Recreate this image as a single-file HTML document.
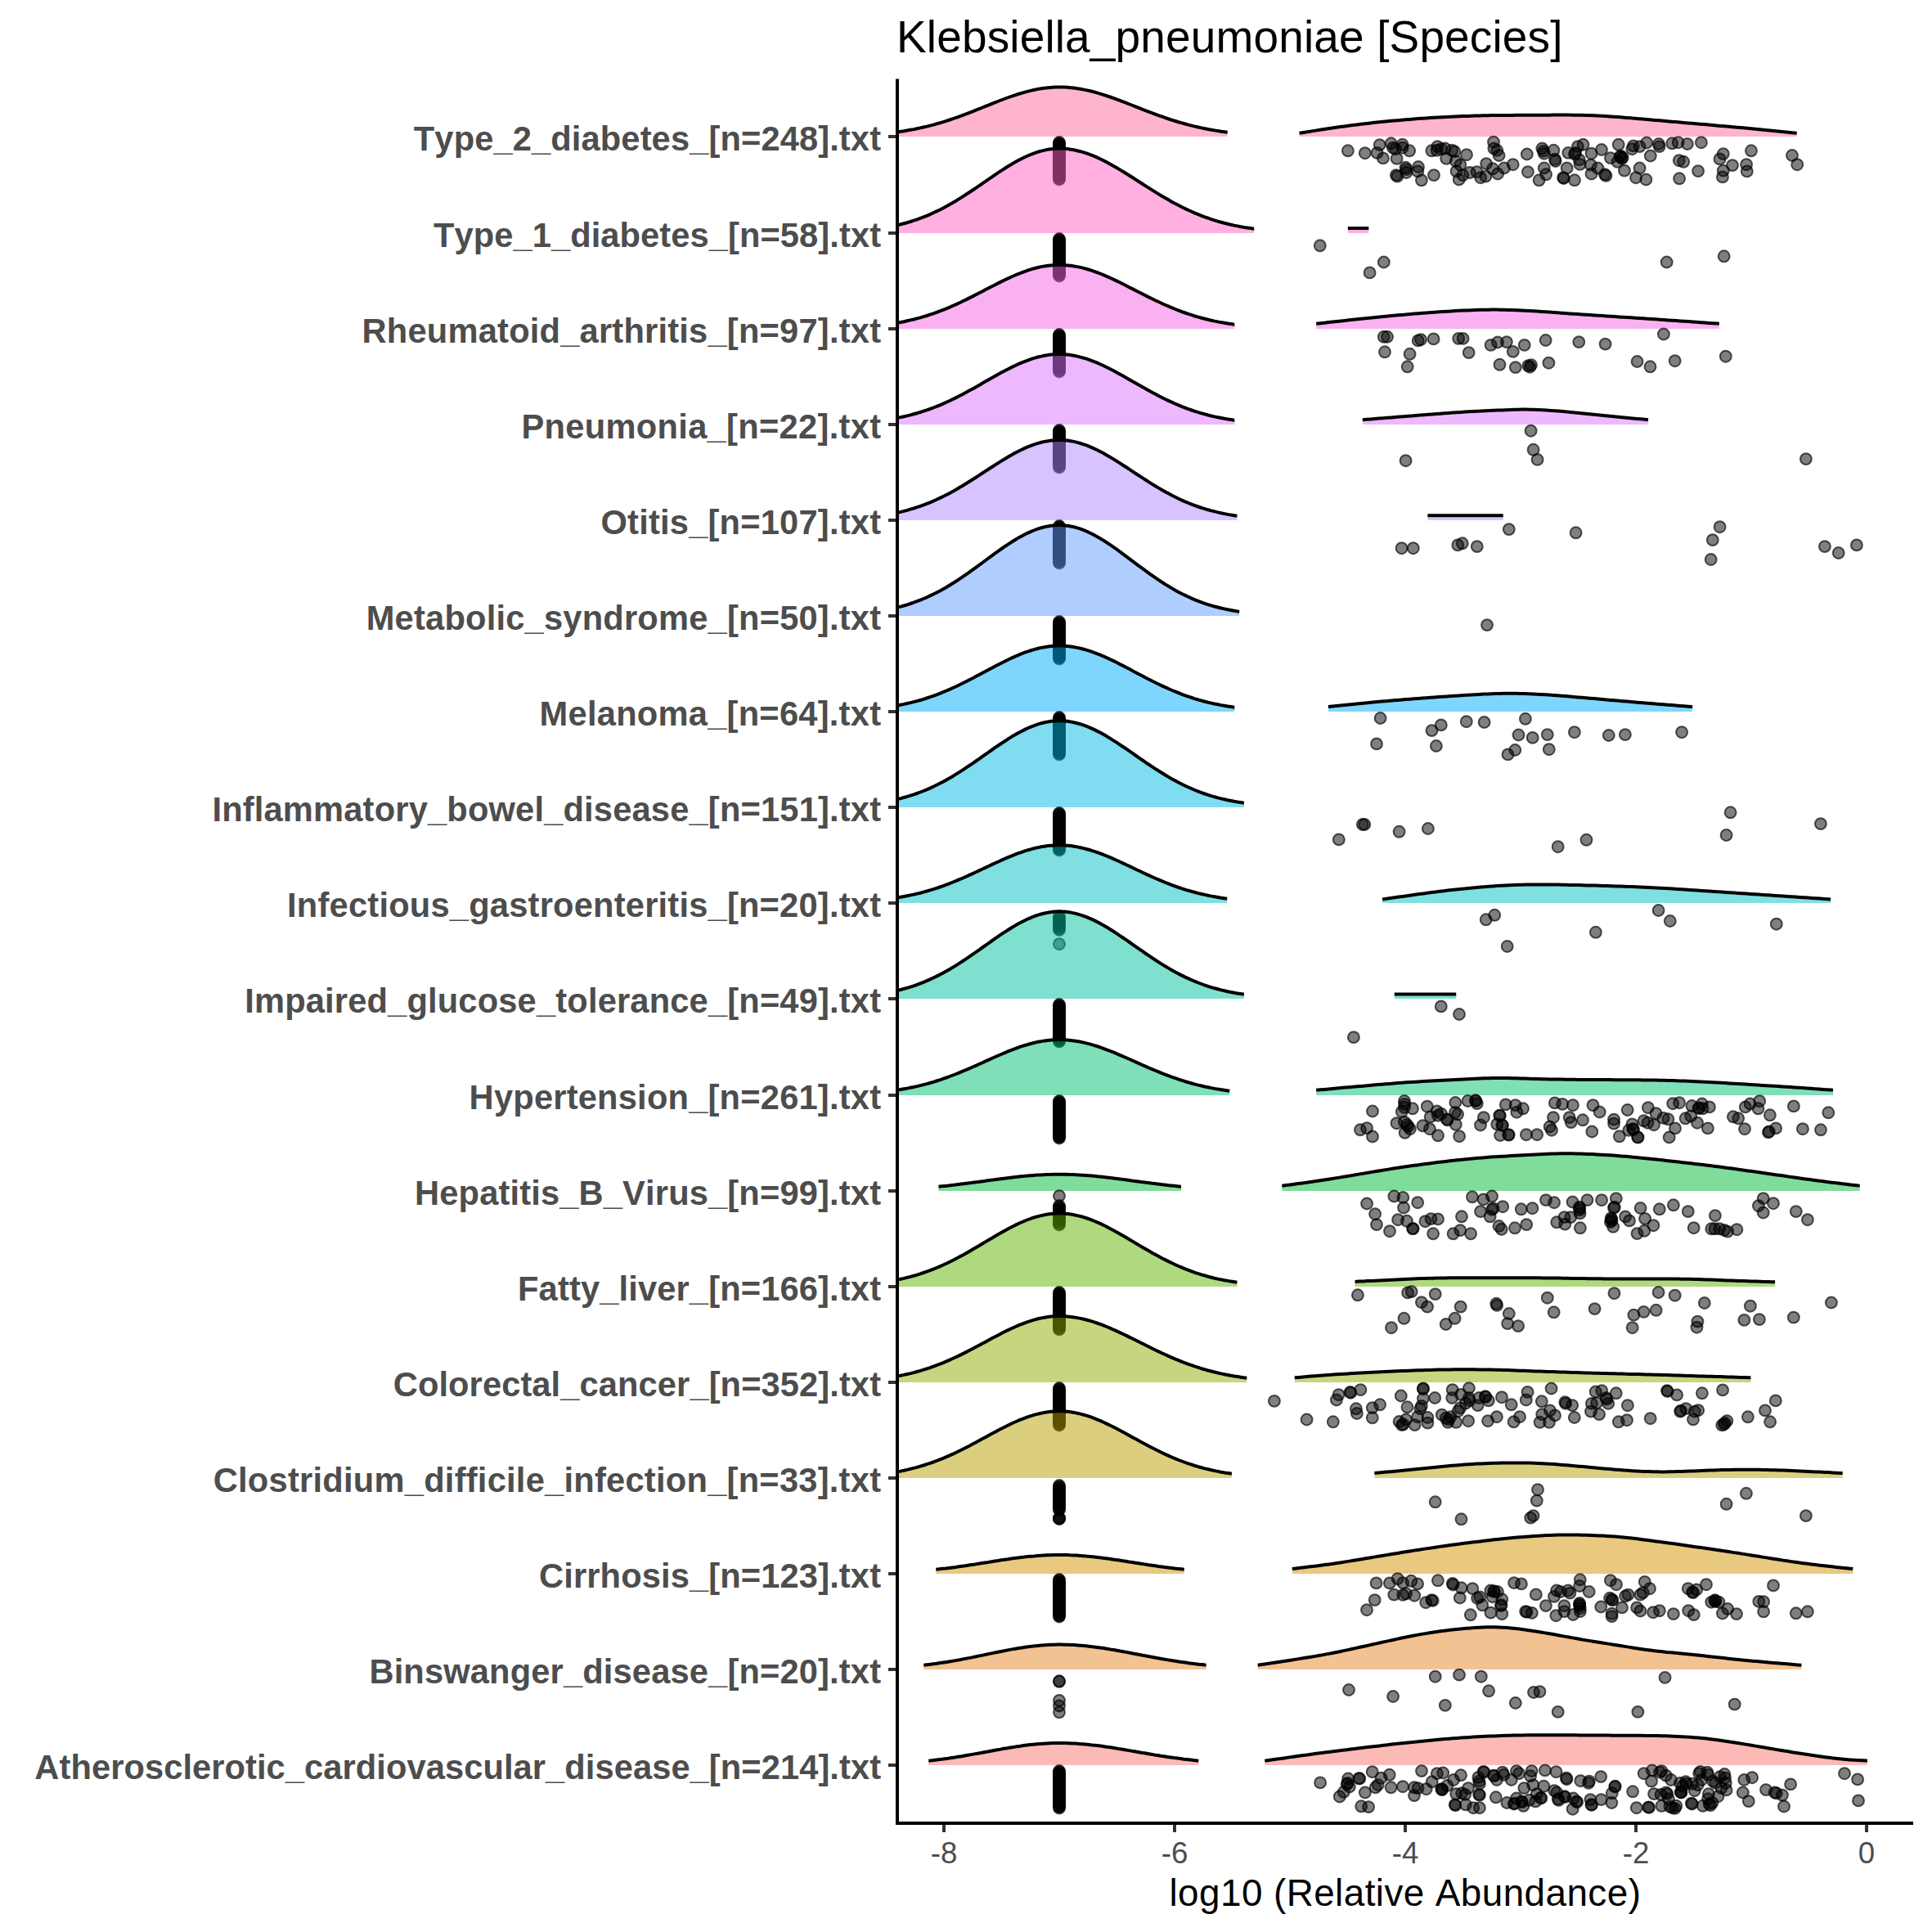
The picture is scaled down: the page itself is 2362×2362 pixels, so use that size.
<!DOCTYPE html><html><head><meta charset="utf-8"><style>html,body{margin:0;padding:0;background:#fff}svg{display:block}text{font-family:"Liberation Sans",sans-serif;font-kerning:none}.p{fill:#000;fill-opacity:.5;stroke:#000;stroke-opacity:.65;stroke-width:2}.l{fill:none;stroke:#000;stroke-width:4.0;stroke-linejoin:round}</style></head><body>
<svg width="2362" height="2362" viewBox="0 0 2362 2362">
<rect width="2362" height="2362" fill="#fff"/>
<g><path d="M1097 167L1097 161.3L1101 160.8L1105 160.2L1109 159.5L1113 158.8L1117 158.1L1121 157.3L1125 156.4L1129 155.5L1133 154.6L1137 153.6L1141 152.6L1145 151.4L1149 150.3L1153 149.1L1157 147.8L1161 146.5L1165 145.2L1169 143.8L1173 142.4L1177 140.9L1181 139.4L1185 137.9L1189 136.3L1193 134.7L1197 133.1L1201 131.5L1205 129.9L1209 128.3L1213 126.7L1217 125.1L1221 123.5L1225 122L1229 120.5L1233 119L1237 117.6L1241 116.3L1245 115L1249 113.8L1253 112.6L1257 111.6L1261 110.6L1265 109.7L1269 108.9L1273 108.2L1277 107.7L1281 107.2L1285 106.9L1289 106.6L1293 106.5L1297 106.5L1301 106.6L1305 106.8L1309 107.2L1313 107.6L1317 108.2L1321 108.8L1325 109.6L1329 110.4L1333 111.3L1337 112.3L1341 113.4L1345 114.6L1349 115.8L1353 117.1L1357 118.5L1361 119.9L1365 121.4L1369 122.9L1373 124.4L1377 125.9L1381 127.5L1385 129L1389 130.6L1393 132.2L1397 133.8L1401 135.3L1405 136.8L1409 138.4L1413 139.9L1417 141.3L1421 142.7L1425 144.1L1429 145.5L1433 146.8L1437 148L1441 149.3L1445 150.4L1449 151.5L1453 152.6L1457 153.6L1461 154.6L1465 155.5L1469 156.4L1473 157.2L1477 158L1481 158.7L1485 159.4L1489 160.1L1493 160.7L1497 161.2L1500.7 161.7L1500.7 167ZM1588.6 167L1588.6 162.8L1593.6 162L1598.6 161.2L1603.6 160.4L1608.6 159.6L1613.6 158.8L1618.6 158L1623.6 157.2L1628.6 156.5L1633.6 155.8L1638.6 155L1643.6 154.4L1648.6 153.7L1653.6 153.1L1658.6 152.4L1663.6 151.8L1668.6 151.3L1673.6 150.7L1678.6 150.1L1683.6 149.6L1688.6 149.1L1693.6 148.6L1698.6 148.1L1703.6 147.6L1708.6 147.2L1713.6 146.7L1718.6 146.3L1723.6 145.9L1728.6 145.5L1733.6 145.1L1738.6 144.7L1743.6 144.4L1748.6 144L1753.6 143.7L1758.6 143.4L1763.6 143.2L1768.6 142.9L1773.6 142.7L1778.6 142.4L1783.6 142.2L1788.6 142L1793.6 141.9L1798.6 141.7L1803.6 141.6L1808.6 141.4L1813.6 141.3L1818.6 141.2L1823.6 141.1L1828.6 141.1L1833.6 141L1838.6 141L1843.6 140.9L1848.6 140.9L1853.6 140.8L1858.6 140.8L1863.6 140.8L1868.6 140.8L1873.6 140.8L1878.6 140.7L1883.6 140.7L1888.6 140.7L1893.6 140.7L1898.6 140.6L1903.6 140.6L1908.6 140.6L1913.6 140.6L1918.6 140.6L1923.6 140.7L1928.6 140.7L1933.6 140.8L1938.6 140.9L1943.6 141.1L1948.6 141.3L1953.6 141.5L1958.6 141.8L1963.6 142.1L1968.6 142.4L1973.6 142.8L1978.6 143.1L1983.6 143.5L1988.6 143.9L1993.6 144.3L1998.6 144.7L2003.6 145.2L2008.6 145.6L2013.6 146L2018.6 146.5L2023.6 146.9L2028.6 147.3L2033.6 147.8L2038.6 148.2L2043.6 148.7L2048.6 149.1L2053.6 149.5L2058.6 150L2063.6 150.4L2068.6 150.8L2073.6 151.3L2078.6 151.7L2083.6 152.1L2088.6 152.6L2093.6 153L2098.6 153.4L2103.6 153.9L2108.6 154.3L2113.6 154.8L2118.6 155.2L2123.6 155.7L2128.6 156.1L2133.6 156.6L2138.6 157.1L2143.6 157.6L2148.6 158L2153.6 158.5L2158.6 159L2163.6 159.5L2168.6 160L2173.6 160.5L2178.6 161L2183.6 161.5L2188.6 162L2193.6 162.5L2196.7 162.8L2196.7 167Z" fill="rgb(255,105,156)" fill-opacity="0.5"/><circle class="p" cx="1295" cy="174" r="6.95"/><circle class="p" cx="1295" cy="175.2" r="6.95"/><circle class="p" cx="1295" cy="176.3" r="6.95"/><circle class="p" cx="1295" cy="177.5" r="6.95"/><circle class="p" cx="1295" cy="178.7" r="6.95"/><circle class="p" cx="1295" cy="179.8" r="6.95"/><circle class="p" cx="1295" cy="181" r="6.95"/><circle class="p" cx="1295" cy="182.2" r="6.95"/><circle class="p" cx="1295" cy="183.3" r="6.95"/><circle class="p" cx="1295" cy="184.5" r="6.95"/><circle class="p" cx="1295" cy="185.7" r="6.95"/><circle class="p" cx="1295" cy="186.8" r="6.95"/><circle class="p" cx="1295" cy="188" r="6.95"/><circle class="p" cx="1295" cy="189.2" r="6.95"/><circle class="p" cx="1295" cy="190.3" r="6.95"/><circle class="p" cx="1295" cy="191.5" r="6.95"/><circle class="p" cx="1295" cy="192.7" r="6.95"/><circle class="p" cx="1295" cy="193.8" r="6.95"/><circle class="p" cx="1295" cy="195" r="6.95"/><circle class="p" cx="1295" cy="196.2" r="6.95"/><circle class="p" cx="1295" cy="197.3" r="6.95"/><circle class="p" cx="1295" cy="198.5" r="6.95"/><circle class="p" cx="1295" cy="199.7" r="6.95"/><circle class="p" cx="1295" cy="200.8" r="6.95"/><circle class="p" cx="1295" cy="202" r="6.95"/><circle class="p" cx="1295" cy="203.2" r="6.95"/><circle class="p" cx="1295" cy="204.3" r="6.95"/><circle class="p" cx="1295" cy="205.5" r="6.95"/><circle class="p" cx="1295" cy="206.7" r="6.95"/><circle class="p" cx="1295" cy="207.8" r="6.95"/><circle class="p" cx="1295" cy="209" r="6.95"/><circle class="p" cx="1295" cy="210.2" r="6.95"/><circle class="p" cx="1295" cy="211.3" r="6.95"/><circle class="p" cx="1295" cy="212.5" r="6.95"/><circle class="p" cx="1295" cy="213.7" r="6.95"/><circle class="p" cx="1295" cy="214.8" r="6.95"/><circle class="p" cx="1295" cy="216" r="6.95"/><circle class="p" cx="1295" cy="217.2" r="6.95"/><circle class="p" cx="1295" cy="218.3" r="6.95"/><circle class="p" cx="1295" cy="219.5" r="6.95"/><circle class="p" cx="1647.9" cy="184.3" r="6.95"/><circle class="p" cx="1668.8" cy="187.2" r="6.95"/><circle class="p" cx="1683.6" cy="186.9" r="6.95"/><circle class="p" cx="1686.7" cy="177.1" r="6.95"/><circle class="p" cx="1690.9" cy="193.4" r="6.95"/><circle class="p" cx="1700.7" cy="175.3" r="6.95"/><circle class="p" cx="1703" cy="180.7" r="6.95"/><circle class="p" cx="1706.1" cy="182.2" r="6.95"/><circle class="p" cx="1707.6" cy="193.9" r="6.95"/><circle class="p" cx="1714.6" cy="176.8" r="6.95"/><circle class="p" cx="1714.6" cy="180.7" r="6.95"/><circle class="p" cx="1723.2" cy="184.3" r="6.95"/><circle class="p" cx="1718.5" cy="204.8" r="6.95"/><circle class="p" cx="1719.3" cy="207.1" r="6.95"/><circle class="p" cx="1719.3" cy="211" r="6.95"/><circle class="p" cx="1706.9" cy="214.1" r="6.95"/><circle class="p" cx="1708.4" cy="215.6" r="6.95"/><circle class="p" cx="1734" cy="204" r="6.95"/><circle class="p" cx="1733.3" cy="209.4" r="6.95"/><circle class="p" cx="1737.9" cy="220.3" r="6.95"/><circle class="p" cx="1753" cy="214.1" r="6.95"/><circle class="p" cx="1750.3" cy="184.3" r="6.95"/><circle class="p" cx="1757.3" cy="179.1" r="6.95"/><circle class="p" cx="1756.6" cy="183.8" r="6.95"/><circle class="p" cx="1762" cy="182.2" r="6.95"/><circle class="p" cx="1766.6" cy="181.5" r="6.95"/><circle class="p" cx="1768.2" cy="193.9" r="6.95"/><circle class="p" cx="1775.2" cy="183.8" r="6.95"/><circle class="p" cx="1778.3" cy="185.3" r="6.95"/><circle class="p" cx="1779.8" cy="197" r="6.95"/><circle class="p" cx="1785.3" cy="201.6" r="6.95"/><circle class="p" cx="1793" cy="189.2" r="6.95"/><circle class="p" cx="1780.6" cy="209.4" r="6.95"/><circle class="p" cx="1783.7" cy="219.5" r="6.95"/><circle class="p" cx="1788.4" cy="214.1" r="6.95"/><circle class="p" cx="1796.9" cy="211" r="6.95"/><circle class="p" cx="1805.5" cy="210.2" r="6.95"/><circle class="p" cx="1810.1" cy="217.2" r="6.95"/><circle class="p" cx="1816.3" cy="215.6" r="6.95"/><circle class="p" cx="1817.1" cy="200.1" r="6.95"/><circle class="p" cx="1824.9" cy="206.3" r="6.95"/><circle class="p" cx="1831.1" cy="212.5" r="6.95"/><circle class="p" cx="1838.9" cy="205.5" r="6.95"/><circle class="p" cx="1849.7" cy="201.2" r="6.95"/><circle class="p" cx="1826" cy="173.7" r="6.95"/><circle class="p" cx="1826.4" cy="181.5" r="6.95"/><circle class="p" cx="1830.3" cy="183.8" r="6.95"/><circle class="p" cx="1832.6" cy="190" r="6.95"/><circle class="p" cx="1866.8" cy="188.5" r="6.95"/><circle class="p" cx="1867.9" cy="210.2" r="6.95"/><circle class="p" cx="1885.4" cy="181.5" r="6.95"/><circle class="p" cx="1887" cy="184.6" r="6.95"/><circle class="p" cx="1887.8" cy="187.7" r="6.95"/><circle class="p" cx="1899.4" cy="183.8" r="6.95"/><circle class="p" cx="1901" cy="194.7" r="6.95"/><circle class="p" cx="1901.7" cy="197" r="6.95"/><circle class="p" cx="1887.8" cy="205.5" r="6.95"/><circle class="p" cx="1890.1" cy="213.3" r="6.95"/><circle class="p" cx="1881.6" cy="220.3" r="6.95"/><circle class="p" cx="1911.1" cy="217.2" r="6.95"/><circle class="p" cx="1911.8" cy="218" r="6.95"/><circle class="p" cx="1915.7" cy="205.5" r="6.95"/><circle class="p" cx="1917.3" cy="186.9" r="6.95"/><circle class="p" cx="1925" cy="220.3" r="6.95"/><circle class="p" cx="1925" cy="188.5" r="6.95"/><circle class="p" cx="1928.9" cy="179.1" r="6.95"/><circle class="p" cx="1935.5" cy="176.8" r="6.95"/><circle class="p" cx="1926.2" cy="186.9" r="6.95"/><circle class="p" cx="1930.9" cy="195.4" r="6.95"/><circle class="p" cx="1931.6" cy="200.9" r="6.95"/><circle class="p" cx="1945.6" cy="187.7" r="6.95"/><circle class="p" cx="1958" cy="183" r="6.95"/><circle class="p" cx="1944.8" cy="201.6" r="6.95"/><circle class="p" cx="1953.4" cy="205.5" r="6.95"/><circle class="p" cx="1945.6" cy="212.5" r="6.95"/><circle class="p" cx="1961.9" cy="213.3" r="6.95"/><circle class="p" cx="1963.5" cy="214.8" r="6.95"/><circle class="p" cx="1968.9" cy="193.1" r="6.95"/><circle class="p" cx="1978.7" cy="176.8" r="6.95"/><circle class="p" cx="1981.3" cy="190.8" r="6.95"/><circle class="p" cx="1980.6" cy="191.6" r="6.95"/><circle class="p" cx="1982.9" cy="193.9" r="6.95"/><circle class="p" cx="1983.7" cy="192.3" r="6.95"/><circle class="p" cx="1977.5" cy="197.8" r="6.95"/><circle class="p" cx="1986" cy="208.6" r="6.95"/><circle class="p" cx="1995.3" cy="182.2" r="6.95"/><circle class="p" cx="1996.9" cy="178.4" r="6.95"/><circle class="p" cx="2004.6" cy="179.1" r="6.95"/><circle class="p" cx="2004.6" cy="205.5" r="6.95"/><circle class="p" cx="2000" cy="217.2" r="6.95"/><circle class="p" cx="2012.4" cy="219.5" r="6.95"/><circle class="p" cx="2013.2" cy="174.5" r="6.95"/><circle class="p" cx="2017.8" cy="190.5" r="6.95"/><circle class="p" cx="2027.9" cy="176" r="6.95"/><circle class="p" cx="2028.7" cy="179.1" r="6.95"/><circle class="p" cx="2044.2" cy="175.3" r="6.95"/><circle class="p" cx="2051.7" cy="174.2" r="6.95"/><circle class="p" cx="2062.9" cy="176" r="6.95"/><circle class="p" cx="2079.9" cy="174.2" r="6.95"/><circle class="p" cx="2052.8" cy="196.2" r="6.95"/><circle class="p" cx="2058.2" cy="197.8" r="6.95"/><circle class="p" cx="2053.1" cy="218.3" r="6.95"/><circle class="p" cx="2076.1" cy="209.1" r="6.95"/><circle class="p" cx="2106.8" cy="188.1" r="6.95"/><circle class="p" cx="2102.5" cy="194.4" r="6.95"/><circle class="p" cx="2106.8" cy="208.6" r="6.95"/><circle class="p" cx="2105.9" cy="216.4" r="6.95"/><circle class="p" cx="2118" cy="202.1" r="6.95"/><circle class="p" cx="2135.1" cy="201.2" r="6.95"/><circle class="p" cx="2135.8" cy="209.4" r="6.95"/><circle class="p" cx="2141" cy="184.3" r="6.95"/><circle class="p" cx="2191" cy="190" r="6.95"/><circle class="p" cx="2197.2" cy="201.2" r="6.95"/><path class="l" d="M1097 161.3L1101 160.8L1105 160.2L1109 159.5L1113 158.8L1117 158.1L1121 157.3L1125 156.4L1129 155.5L1133 154.6L1137 153.6L1141 152.6L1145 151.4L1149 150.3L1153 149.1L1157 147.8L1161 146.5L1165 145.2L1169 143.8L1173 142.4L1177 140.9L1181 139.4L1185 137.9L1189 136.3L1193 134.7L1197 133.1L1201 131.5L1205 129.9L1209 128.3L1213 126.7L1217 125.1L1221 123.5L1225 122L1229 120.5L1233 119L1237 117.6L1241 116.3L1245 115L1249 113.8L1253 112.6L1257 111.6L1261 110.6L1265 109.7L1269 108.9L1273 108.2L1277 107.7L1281 107.2L1285 106.9L1289 106.6L1293 106.5L1297 106.5L1301 106.6L1305 106.8L1309 107.2L1313 107.6L1317 108.2L1321 108.8L1325 109.6L1329 110.4L1333 111.3L1337 112.3L1341 113.4L1345 114.6L1349 115.8L1353 117.1L1357 118.5L1361 119.9L1365 121.4L1369 122.9L1373 124.4L1377 125.9L1381 127.5L1385 129L1389 130.6L1393 132.2L1397 133.8L1401 135.3L1405 136.8L1409 138.4L1413 139.9L1417 141.3L1421 142.7L1425 144.1L1429 145.5L1433 146.8L1437 148L1441 149.3L1445 150.4L1449 151.5L1453 152.6L1457 153.6L1461 154.6L1465 155.5L1469 156.4L1473 157.2L1477 158L1481 158.7L1485 159.4L1489 160.1L1493 160.7L1497 161.2L1500.7 161.7M1588.6 162.8L1593.6 162L1598.6 161.2L1603.6 160.4L1608.6 159.6L1613.6 158.8L1618.6 158L1623.6 157.2L1628.6 156.5L1633.6 155.8L1638.6 155L1643.6 154.4L1648.6 153.7L1653.6 153.1L1658.6 152.4L1663.6 151.8L1668.6 151.3L1673.6 150.7L1678.6 150.1L1683.6 149.6L1688.6 149.1L1693.6 148.6L1698.6 148.1L1703.6 147.6L1708.6 147.2L1713.6 146.7L1718.6 146.3L1723.6 145.9L1728.6 145.5L1733.6 145.1L1738.6 144.7L1743.6 144.4L1748.6 144L1753.6 143.7L1758.6 143.4L1763.6 143.2L1768.6 142.9L1773.6 142.7L1778.6 142.4L1783.6 142.2L1788.6 142L1793.6 141.9L1798.6 141.7L1803.6 141.6L1808.6 141.4L1813.6 141.3L1818.6 141.2L1823.6 141.1L1828.6 141.1L1833.6 141L1838.6 141L1843.6 140.9L1848.6 140.9L1853.6 140.8L1858.6 140.8L1863.6 140.8L1868.6 140.8L1873.6 140.8L1878.6 140.7L1883.6 140.7L1888.6 140.7L1893.6 140.7L1898.6 140.6L1903.6 140.6L1908.6 140.6L1913.6 140.6L1918.6 140.6L1923.6 140.7L1928.6 140.7L1933.6 140.8L1938.6 140.9L1943.6 141.1L1948.6 141.3L1953.6 141.5L1958.6 141.8L1963.6 142.1L1968.6 142.4L1973.6 142.8L1978.6 143.1L1983.6 143.5L1988.6 143.9L1993.6 144.3L1998.6 144.7L2003.6 145.2L2008.6 145.6L2013.6 146L2018.6 146.5L2023.6 146.9L2028.6 147.3L2033.6 147.8L2038.6 148.2L2043.6 148.7L2048.6 149.1L2053.6 149.5L2058.6 150L2063.6 150.4L2068.6 150.8L2073.6 151.3L2078.6 151.7L2083.6 152.1L2088.6 152.6L2093.6 153L2098.6 153.4L2103.6 153.9L2108.6 154.3L2113.6 154.8L2118.6 155.2L2123.6 155.7L2128.6 156.1L2133.6 156.6L2138.6 157.1L2143.6 157.6L2148.6 158L2153.6 158.5L2158.6 159L2163.6 159.5L2168.6 160L2173.6 160.5L2178.6 161L2183.6 161.5L2188.6 162L2193.6 162.5L2196.7 162.8"/></g>
<g><path d="M1097 285L1097 275.3L1101 274.3L1105 273.3L1109 272.2L1113 271L1117 269.7L1121 268.4L1125 266.9L1129 265.4L1133 263.8L1137 262.1L1141 260.3L1145 258.4L1149 256.5L1153 254.4L1157 252.3L1161 250L1165 247.7L1169 245.4L1173 242.9L1177 240.4L1181 237.8L1185 235.2L1189 232.5L1193 229.8L1197 227.1L1201 224.4L1205 221.6L1209 218.8L1213 216.1L1217 213.4L1221 210.7L1225 208.1L1229 205.5L1233 203L1237 200.6L1241 198.3L1245 196.1L1249 194L1253 192L1257 190.2L1261 188.6L1265 187.1L1269 185.7L1273 184.6L1277 183.6L1281 182.8L1285 182.2L1289 181.8L1293 181.6L1297 181.6L1301 181.8L1305 182.1L1309 182.7L1313 183.3L1317 184.2L1321 185.2L1325 186.4L1329 187.7L1333 189.1L1337 190.7L1341 192.4L1345 194.3L1349 196.2L1353 198.3L1357 200.5L1361 202.7L1365 205L1369 207.4L1373 209.8L1377 212.3L1381 214.8L1385 217.3L1389 219.9L1393 222.5L1397 225L1401 227.6L1405 230.1L1409 232.6L1413 235.1L1417 237.6L1421 240L1425 242.3L1429 244.6L1433 246.9L1437 249L1441 251.1L1445 253.2L1449 255.1L1453 257L1457 258.8L1461 260.6L1465 262.2L1469 263.8L1473 265.3L1477 266.7L1481 268.1L1485 269.4L1489 270.6L1493 271.7L1497 272.8L1501 273.8L1505 274.7L1509 275.6L1513 276.4L1517 277.2L1521 277.9L1525 278.5L1529 279.1L1533 279.7L1533.2 279.7L1533.2 285ZM1647.9 285L1647.9 278.9L1673.3 278.9L1673.3 285Z" fill="rgb(255,97,195)" fill-opacity="0.5"/><circle class="p" cx="1295" cy="292" r="6.95"/><circle class="p" cx="1295" cy="293.2" r="6.95"/><circle class="p" cx="1295" cy="294.3" r="6.95"/><circle class="p" cx="1295" cy="295.5" r="6.95"/><circle class="p" cx="1295" cy="296.7" r="6.95"/><circle class="p" cx="1295" cy="297.8" r="6.95"/><circle class="p" cx="1295" cy="299" r="6.95"/><circle class="p" cx="1295" cy="300.2" r="6.95"/><circle class="p" cx="1295" cy="301.3" r="6.95"/><circle class="p" cx="1295" cy="302.5" r="6.95"/><circle class="p" cx="1295" cy="303.7" r="6.95"/><circle class="p" cx="1295" cy="304.8" r="6.95"/><circle class="p" cx="1295" cy="306" r="6.95"/><circle class="p" cx="1295" cy="307.2" r="6.95"/><circle class="p" cx="1295" cy="308.3" r="6.95"/><circle class="p" cx="1295" cy="309.5" r="6.95"/><circle class="p" cx="1295" cy="310.7" r="6.95"/><circle class="p" cx="1295" cy="311.8" r="6.95"/><circle class="p" cx="1295" cy="313" r="6.95"/><circle class="p" cx="1295" cy="314.2" r="6.95"/><circle class="p" cx="1295" cy="315.3" r="6.95"/><circle class="p" cx="1295" cy="316.5" r="6.95"/><circle class="p" cx="1295" cy="317.7" r="6.95"/><circle class="p" cx="1295" cy="318.8" r="6.95"/><circle class="p" cx="1295" cy="320" r="6.95"/><circle class="p" cx="1295" cy="321.2" r="6.95"/><circle class="p" cx="1295" cy="322.3" r="6.95"/><circle class="p" cx="1295" cy="323.5" r="6.95"/><circle class="p" cx="1295" cy="324.7" r="6.95"/><circle class="p" cx="1295" cy="325.8" r="6.95"/><circle class="p" cx="1295" cy="327" r="6.95"/><circle class="p" cx="1295" cy="328.2" r="6.95"/><circle class="p" cx="1295" cy="329.3" r="6.95"/><circle class="p" cx="1295" cy="330.5" r="6.95"/><circle class="p" cx="1295" cy="331.7" r="6.95"/><circle class="p" cx="1295" cy="332.8" r="6.95"/><circle class="p" cx="1295" cy="334" r="6.95"/><circle class="p" cx="1295" cy="335.2" r="6.95"/><circle class="p" cx="1295" cy="336.3" r="6.95"/><circle class="p" cx="1295" cy="337.5" r="6.95"/><circle class="p" cx="1613.8" cy="300.3" r="6.95"/><circle class="p" cx="1691.8" cy="320.5" r="6.95"/><circle class="p" cx="1674.6" cy="333.4" r="6.95"/><circle class="p" cx="2037.7" cy="320.5" r="6.95"/><circle class="p" cx="2107.7" cy="313.3" r="6.95"/><path class="l" d="M1097 275.3L1101 274.3L1105 273.3L1109 272.2L1113 271L1117 269.7L1121 268.4L1125 266.9L1129 265.4L1133 263.8L1137 262.1L1141 260.3L1145 258.4L1149 256.5L1153 254.4L1157 252.3L1161 250L1165 247.7L1169 245.4L1173 242.9L1177 240.4L1181 237.8L1185 235.2L1189 232.5L1193 229.8L1197 227.1L1201 224.4L1205 221.6L1209 218.8L1213 216.1L1217 213.4L1221 210.7L1225 208.1L1229 205.5L1233 203L1237 200.6L1241 198.3L1245 196.1L1249 194L1253 192L1257 190.2L1261 188.6L1265 187.1L1269 185.7L1273 184.6L1277 183.6L1281 182.8L1285 182.2L1289 181.8L1293 181.6L1297 181.6L1301 181.8L1305 182.1L1309 182.7L1313 183.3L1317 184.2L1321 185.2L1325 186.4L1329 187.7L1333 189.1L1337 190.7L1341 192.4L1345 194.3L1349 196.2L1353 198.3L1357 200.5L1361 202.7L1365 205L1369 207.4L1373 209.8L1377 212.3L1381 214.8L1385 217.3L1389 219.9L1393 222.5L1397 225L1401 227.6L1405 230.1L1409 232.6L1413 235.1L1417 237.6L1421 240L1425 242.3L1429 244.6L1433 246.9L1437 249L1441 251.1L1445 253.2L1449 255.1L1453 257L1457 258.8L1461 260.6L1465 262.2L1469 263.8L1473 265.3L1477 266.7L1481 268.1L1485 269.4L1489 270.6L1493 271.7L1497 272.8L1501 273.8L1505 274.7L1509 275.6L1513 276.4L1517 277.2L1521 277.9L1525 278.5L1529 279.1L1533 279.7L1533.2 279.7M1647.9 278.9L1673.3 278.9"/></g>
<g><path d="M1097 402L1097 394.7L1101 394L1105 393.2L1109 392.3L1113 391.4L1117 390.5L1121 389.4L1125 388.4L1129 387.2L1133 386L1137 384.7L1141 383.3L1145 381.9L1149 380.4L1153 378.9L1157 377.3L1161 375.6L1165 373.8L1169 372.1L1173 370.2L1177 368.3L1181 366.4L1185 364.4L1189 362.4L1193 360.3L1197 358.3L1201 356.2L1205 354.1L1209 352L1213 350L1217 347.9L1221 345.9L1225 343.9L1229 342L1233 340.1L1237 338.3L1241 336.5L1245 334.8L1249 333.3L1253 331.8L1257 330.4L1261 329.2L1265 328L1269 327L1273 326.1L1277 325.4L1281 324.8L1285 324.4L1289 324.1L1293 323.9L1297 323.9L1301 324.1L1305 324.4L1309 324.8L1313 325.4L1317 326.1L1321 326.9L1325 327.9L1329 329L1333 330.2L1337 331.6L1341 333L1345 334.5L1349 336.2L1353 337.9L1357 339.6L1361 341.5L1365 343.4L1369 345.3L1373 347.3L1377 349.3L1381 351.4L1385 353.4L1389 355.5L1393 357.5L1397 359.5L1401 361.6L1405 363.6L1409 365.5L1413 367.5L1417 369.3L1421 371.2L1425 373L1429 374.7L1433 376.4L1437 378L1441 379.6L1445 381.1L1449 382.5L1453 383.9L1457 385.2L1461 386.5L1465 387.6L1469 388.7L1473 389.8L1477 390.8L1481 391.7L1485 392.6L1489 393.4L1493 394.1L1497 394.8L1501 395.5L1505 396.1L1509 396.7L1509.3 396.7L1509.3 402ZM1609.2 402L1609.2 395.8L1614.2 395.3L1619.2 394.7L1624.2 394.1L1629.2 393.5L1634.2 393L1639.2 392.4L1644.2 391.9L1649.2 391.3L1654.2 390.8L1659.2 390.2L1664.2 389.7L1669.2 389.2L1674.2 388.7L1679.2 388.2L1684.2 387.7L1689.2 387.2L1694.2 386.7L1699.2 386.2L1704.2 385.8L1709.2 385.3L1714.2 384.9L1719.2 384.5L1724.2 384L1729.2 383.6L1734.2 383.2L1739.2 382.8L1744.2 382.4L1749.2 382.1L1754.2 381.7L1759.2 381.3L1764.2 381L1769.2 380.7L1774.2 380.4L1779.2 380.1L1784.2 379.8L1789.2 379.6L1794.2 379.4L1799.2 379.2L1804.2 379L1809.2 378.8L1814.2 378.7L1819.2 378.7L1824.2 378.6L1829.2 378.6L1834.2 378.7L1839.2 378.8L1844.2 378.9L1849.2 379.1L1854.2 379.3L1859.2 379.5L1864.2 379.7L1869.2 380L1874.2 380.3L1879.2 380.6L1884.2 380.9L1889.2 381.3L1894.2 381.6L1899.2 382L1904.2 382.3L1909.2 382.7L1914.2 383L1919.2 383.4L1924.2 383.7L1929.2 384.1L1934.2 384.4L1939.2 384.7L1944.2 385.1L1949.2 385.4L1954.2 385.7L1959.2 386.1L1964.2 386.4L1969.2 386.7L1974.2 387L1979.2 387.4L1984.2 387.7L1989.2 388L1994.2 388.3L1999.2 388.7L2004.2 389L2009.2 389.3L2014.2 389.7L2019.2 390L2024.2 390.3L2029.2 390.7L2034.2 391L2039.2 391.4L2044.2 391.7L2049.2 392.1L2054.2 392.4L2059.2 392.8L2064.2 393.1L2069.2 393.5L2074.2 393.8L2079.2 394.2L2084.2 394.5L2089.2 394.9L2094.2 395.3L2099.2 395.6L2101.8 395.8L2101.8 402Z" fill="rgb(245,100,227)" fill-opacity="0.5"/><circle class="p" cx="1295" cy="409" r="6.95"/><circle class="p" cx="1295" cy="410.2" r="6.95"/><circle class="p" cx="1295" cy="411.3" r="6.95"/><circle class="p" cx="1295" cy="412.5" r="6.95"/><circle class="p" cx="1295" cy="413.7" r="6.95"/><circle class="p" cx="1295" cy="414.8" r="6.95"/><circle class="p" cx="1295" cy="416" r="6.95"/><circle class="p" cx="1295" cy="417.2" r="6.95"/><circle class="p" cx="1295" cy="418.3" r="6.95"/><circle class="p" cx="1295" cy="419.5" r="6.95"/><circle class="p" cx="1295" cy="420.7" r="6.95"/><circle class="p" cx="1295" cy="421.8" r="6.95"/><circle class="p" cx="1295" cy="423" r="6.95"/><circle class="p" cx="1295" cy="424.2" r="6.95"/><circle class="p" cx="1295" cy="425.3" r="6.95"/><circle class="p" cx="1295" cy="426.5" r="6.95"/><circle class="p" cx="1295" cy="427.7" r="6.95"/><circle class="p" cx="1295" cy="428.8" r="6.95"/><circle class="p" cx="1295" cy="430" r="6.95"/><circle class="p" cx="1295" cy="431.2" r="6.95"/><circle class="p" cx="1295" cy="432.3" r="6.95"/><circle class="p" cx="1295" cy="433.5" r="6.95"/><circle class="p" cx="1295" cy="434.7" r="6.95"/><circle class="p" cx="1295" cy="435.8" r="6.95"/><circle class="p" cx="1295" cy="437" r="6.95"/><circle class="p" cx="1295" cy="438.2" r="6.95"/><circle class="p" cx="1295" cy="439.3" r="6.95"/><circle class="p" cx="1295" cy="440.5" r="6.95"/><circle class="p" cx="1295" cy="441.7" r="6.95"/><circle class="p" cx="1295" cy="442.8" r="6.95"/><circle class="p" cx="1295" cy="444" r="6.95"/><circle class="p" cx="1295" cy="445.2" r="6.95"/><circle class="p" cx="1295" cy="446.3" r="6.95"/><circle class="p" cx="1295" cy="447.5" r="6.95"/><circle class="p" cx="1295" cy="448.7" r="6.95"/><circle class="p" cx="1295" cy="449.8" r="6.95"/><circle class="p" cx="1295" cy="451" r="6.95"/><circle class="p" cx="1295" cy="452.2" r="6.95"/><circle class="p" cx="1295" cy="453.3" r="6.95"/><circle class="p" cx="1295" cy="454.5" r="6.95"/><circle class="p" cx="1691.8" cy="411.8" r="6.95"/><circle class="p" cx="1696" cy="411.8" r="6.95"/><circle class="p" cx="1693" cy="430.3" r="6.95"/><circle class="p" cx="1723.6" cy="432.8" r="6.95"/><circle class="p" cx="1720.7" cy="448.3" r="6.95"/><circle class="p" cx="1733.7" cy="416.4" r="6.95"/><circle class="p" cx="1737" cy="415.2" r="6.95"/><circle class="p" cx="1752.6" cy="414.4" r="6.95"/><circle class="p" cx="1783.2" cy="413.9" r="6.95"/><circle class="p" cx="1788.6" cy="413.9" r="6.95"/><circle class="p" cx="1795.7" cy="431.1" r="6.95"/><circle class="p" cx="1822.6" cy="421.9" r="6.95"/><circle class="p" cx="1831" cy="418.5" r="6.95"/><circle class="p" cx="1841.9" cy="418.1" r="6.95"/><circle class="p" cx="1849.8" cy="429.9" r="6.95"/><circle class="p" cx="1863.7" cy="421.9" r="6.95"/><circle class="p" cx="1833.5" cy="445.8" r="6.95"/><circle class="p" cx="1852.8" cy="449.1" r="6.95"/><circle class="p" cx="1868.3" cy="447.1" r="6.95"/><circle class="p" cx="1872" cy="446.2" r="6.95"/><circle class="p" cx="1870.4" cy="448.7" r="6.95"/><circle class="p" cx="1889.7" cy="416" r="6.95"/><circle class="p" cx="1893.4" cy="443.7" r="6.95"/><circle class="p" cx="1930.3" cy="418.1" r="6.95"/><circle class="p" cx="1962.6" cy="420.6" r="6.95"/><circle class="p" cx="2001.6" cy="442" r="6.95"/><circle class="p" cx="2017.5" cy="448.3" r="6.95"/><circle class="p" cx="2033.9" cy="408.5" r="6.95"/><circle class="p" cx="2047.7" cy="441.2" r="6.95"/><circle class="p" cx="2109.8" cy="435.7" r="6.95"/><path class="l" d="M1097 394.7L1101 394L1105 393.2L1109 392.3L1113 391.4L1117 390.5L1121 389.4L1125 388.4L1129 387.2L1133 386L1137 384.7L1141 383.3L1145 381.9L1149 380.4L1153 378.9L1157 377.3L1161 375.6L1165 373.8L1169 372.1L1173 370.2L1177 368.3L1181 366.4L1185 364.4L1189 362.4L1193 360.3L1197 358.3L1201 356.2L1205 354.1L1209 352L1213 350L1217 347.9L1221 345.9L1225 343.9L1229 342L1233 340.1L1237 338.3L1241 336.5L1245 334.8L1249 333.3L1253 331.8L1257 330.4L1261 329.2L1265 328L1269 327L1273 326.1L1277 325.4L1281 324.8L1285 324.4L1289 324.1L1293 323.9L1297 323.9L1301 324.1L1305 324.4L1309 324.8L1313 325.4L1317 326.1L1321 326.9L1325 327.9L1329 329L1333 330.2L1337 331.6L1341 333L1345 334.5L1349 336.2L1353 337.9L1357 339.6L1361 341.5L1365 343.4L1369 345.3L1373 347.3L1377 349.3L1381 351.4L1385 353.4L1389 355.5L1393 357.5L1397 359.5L1401 361.6L1405 363.6L1409 365.5L1413 367.5L1417 369.3L1421 371.2L1425 373L1429 374.7L1433 376.4L1437 378L1441 379.6L1445 381.1L1449 382.5L1453 383.9L1457 385.2L1461 386.5L1465 387.6L1469 388.7L1473 389.8L1477 390.8L1481 391.7L1485 392.6L1489 393.4L1493 394.1L1497 394.8L1501 395.5L1505 396.1L1509 396.7L1509.3 396.7M1609.2 395.8L1614.2 395.3L1619.2 394.7L1624.2 394.1L1629.2 393.5L1634.2 393L1639.2 392.4L1644.2 391.9L1649.2 391.3L1654.2 390.8L1659.2 390.2L1664.2 389.7L1669.2 389.2L1674.2 388.7L1679.2 388.2L1684.2 387.7L1689.2 387.2L1694.2 386.7L1699.2 386.2L1704.2 385.8L1709.2 385.3L1714.2 384.9L1719.2 384.5L1724.2 384L1729.2 383.6L1734.2 383.2L1739.2 382.8L1744.2 382.4L1749.2 382.1L1754.2 381.7L1759.2 381.3L1764.2 381L1769.2 380.7L1774.2 380.4L1779.2 380.1L1784.2 379.8L1789.2 379.6L1794.2 379.4L1799.2 379.2L1804.2 379L1809.2 378.8L1814.2 378.7L1819.2 378.7L1824.2 378.6L1829.2 378.6L1834.2 378.7L1839.2 378.8L1844.2 378.9L1849.2 379.1L1854.2 379.3L1859.2 379.5L1864.2 379.7L1869.2 380L1874.2 380.3L1879.2 380.6L1884.2 380.9L1889.2 381.3L1894.2 381.6L1899.2 382L1904.2 382.3L1909.2 382.7L1914.2 383L1919.2 383.4L1924.2 383.7L1929.2 384.1L1934.2 384.4L1939.2 384.7L1944.2 385.1L1949.2 385.4L1954.2 385.7L1959.2 386.1L1964.2 386.4L1969.2 386.7L1974.2 387L1979.2 387.4L1984.2 387.7L1989.2 388L1994.2 388.3L1999.2 388.7L2004.2 389L2009.2 389.3L2014.2 389.7L2019.2 390L2024.2 390.3L2029.2 390.7L2034.2 391L2039.2 391.4L2044.2 391.7L2049.2 392.1L2054.2 392.4L2059.2 392.8L2064.2 393.1L2069.2 393.5L2074.2 393.8L2079.2 394.2L2084.2 394.5L2089.2 394.9L2094.2 395.3L2099.2 395.6L2101.8 395.8"/></g>
<g><path d="M1097 519L1097 510.9L1101 510.1L1105 509.3L1109 508.4L1113 507.4L1117 506.3L1121 505.2L1125 504L1129 502.7L1133 501.4L1137 500L1141 498.5L1145 496.9L1149 495.3L1153 493.6L1157 491.8L1161 490L1165 488L1169 486.1L1173 484L1177 481.9L1181 479.8L1185 477.6L1189 475.4L1193 473.2L1197 470.9L1201 468.6L1205 466.3L1209 464L1213 461.8L1217 459.5L1221 457.3L1225 455.1L1229 453L1233 450.9L1237 448.9L1241 447L1245 445.1L1249 443.4L1253 441.8L1257 440.3L1261 438.9L1265 437.6L1269 436.5L1273 435.6L1277 434.8L1281 434.1L1285 433.6L1289 433.3L1293 433.1L1297 433.1L1301 433.3L1305 433.6L1309 434.1L1313 434.8L1317 435.6L1321 436.6L1325 437.7L1329 438.9L1333 440.3L1337 441.8L1341 443.4L1345 445.2L1349 447L1353 449L1357 451L1361 453L1365 455.2L1369 457.4L1373 459.6L1377 461.9L1381 464.2L1385 466.4L1389 468.7L1393 471L1397 473.3L1401 475.5L1405 477.8L1409 479.9L1413 482.1L1417 484.2L1421 486.2L1425 488.2L1429 490.1L1433 491.9L1437 493.7L1441 495.4L1445 497.1L1449 498.6L1453 500.1L1457 501.5L1461 502.9L1465 504.1L1469 505.3L1473 506.4L1477 507.5L1481 508.5L1485 509.4L1489 510.2L1493 511L1497 511.8L1501 512.5L1505 513.1L1509 513.7L1509.3 513.7L1509.3 519ZM1665.8 519L1665.8 513.2L1670.8 512.8L1675.8 512.4L1680.8 512L1685.8 511.6L1690.8 511.2L1695.8 510.8L1700.8 510.4L1705.8 510L1710.8 509.6L1715.8 509.2L1720.8 508.8L1725.8 508.4L1730.8 508L1735.8 507.6L1740.8 507.2L1745.8 506.8L1750.8 506.4L1755.8 506L1760.8 505.7L1765.8 505.3L1770.8 504.9L1775.8 504.6L1780.8 504.3L1785.8 503.9L1790.8 503.6L1795.8 503.3L1800.8 503L1805.8 502.8L1810.8 502.5L1815.8 502.3L1820.8 502L1825.8 501.8L1830.8 501.6L1835.8 501.4L1840.8 501.2L1845.8 501L1850.8 500.8L1855.8 500.7L1860.8 500.6L1865.8 500.6L1870.8 500.7L1875.8 500.8L1880.8 501L1885.8 501.3L1890.8 501.5L1895.8 501.9L1900.8 502.2L1905.8 502.6L1910.8 503L1915.8 503.5L1920.8 503.9L1925.8 504.4L1930.8 504.9L1935.8 505.4L1940.8 505.9L1945.8 506.4L1950.8 506.9L1955.8 507.4L1960.8 507.9L1965.8 508.4L1970.8 508.9L1975.8 509.4L1980.8 509.9L1985.8 510.4L1990.8 510.9L1995.8 511.4L2000.8 511.9L2005.8 512.3L2010.8 512.8L2015 513.2L2015 519Z" fill="rgb(219,114,251)" fill-opacity="0.5"/><circle class="p" cx="1295" cy="526" r="6.95"/><circle class="p" cx="1295" cy="527.2" r="6.95"/><circle class="p" cx="1295" cy="528.3" r="6.95"/><circle class="p" cx="1295" cy="529.5" r="6.95"/><circle class="p" cx="1295" cy="530.7" r="6.95"/><circle class="p" cx="1295" cy="531.8" r="6.95"/><circle class="p" cx="1295" cy="533" r="6.95"/><circle class="p" cx="1295" cy="534.2" r="6.95"/><circle class="p" cx="1295" cy="535.3" r="6.95"/><circle class="p" cx="1295" cy="536.5" r="6.95"/><circle class="p" cx="1295" cy="537.7" r="6.95"/><circle class="p" cx="1295" cy="538.8" r="6.95"/><circle class="p" cx="1295" cy="540" r="6.95"/><circle class="p" cx="1295" cy="541.2" r="6.95"/><circle class="p" cx="1295" cy="542.3" r="6.95"/><circle class="p" cx="1295" cy="543.5" r="6.95"/><circle class="p" cx="1295" cy="544.7" r="6.95"/><circle class="p" cx="1295" cy="545.8" r="6.95"/><circle class="p" cx="1295" cy="547" r="6.95"/><circle class="p" cx="1295" cy="548.2" r="6.95"/><circle class="p" cx="1295" cy="549.3" r="6.95"/><circle class="p" cx="1295" cy="550.5" r="6.95"/><circle class="p" cx="1295" cy="551.7" r="6.95"/><circle class="p" cx="1295" cy="552.8" r="6.95"/><circle class="p" cx="1295" cy="554" r="6.95"/><circle class="p" cx="1295" cy="555.2" r="6.95"/><circle class="p" cx="1295" cy="556.3" r="6.95"/><circle class="p" cx="1295" cy="557.5" r="6.95"/><circle class="p" cx="1295" cy="558.7" r="6.95"/><circle class="p" cx="1295" cy="559.8" r="6.95"/><circle class="p" cx="1295" cy="561" r="6.95"/><circle class="p" cx="1295" cy="562.2" r="6.95"/><circle class="p" cx="1295" cy="563.3" r="6.95"/><circle class="p" cx="1295" cy="564.5" r="6.95"/><circle class="p" cx="1295" cy="565.7" r="6.95"/><circle class="p" cx="1295" cy="566.8" r="6.95"/><circle class="p" cx="1295" cy="568" r="6.95"/><circle class="p" cx="1295" cy="569.2" r="6.95"/><circle class="p" cx="1295" cy="570.3" r="6.95"/><circle class="p" cx="1295" cy="571.5" r="6.95"/><circle class="p" cx="1871.6" cy="526.7" r="6.95"/><circle class="p" cx="1874.6" cy="549.8" r="6.95"/><circle class="p" cx="1879.6" cy="561.9" r="6.95"/><circle class="p" cx="1718.6" cy="563.2" r="6.95"/><circle class="p" cx="2207.9" cy="561.1" r="6.95"/><path class="l" d="M1097 510.9L1101 510.1L1105 509.3L1109 508.4L1113 507.4L1117 506.3L1121 505.2L1125 504L1129 502.7L1133 501.4L1137 500L1141 498.5L1145 496.9L1149 495.3L1153 493.6L1157 491.8L1161 490L1165 488L1169 486.1L1173 484L1177 481.9L1181 479.8L1185 477.6L1189 475.4L1193 473.2L1197 470.9L1201 468.6L1205 466.3L1209 464L1213 461.8L1217 459.5L1221 457.3L1225 455.1L1229 453L1233 450.9L1237 448.9L1241 447L1245 445.1L1249 443.4L1253 441.8L1257 440.3L1261 438.9L1265 437.6L1269 436.5L1273 435.6L1277 434.8L1281 434.1L1285 433.6L1289 433.3L1293 433.1L1297 433.1L1301 433.3L1305 433.6L1309 434.1L1313 434.8L1317 435.6L1321 436.6L1325 437.7L1329 438.9L1333 440.3L1337 441.8L1341 443.4L1345 445.2L1349 447L1353 449L1357 451L1361 453L1365 455.2L1369 457.4L1373 459.6L1377 461.9L1381 464.2L1385 466.4L1389 468.7L1393 471L1397 473.3L1401 475.5L1405 477.8L1409 479.9L1413 482.1L1417 484.2L1421 486.2L1425 488.2L1429 490.1L1433 491.9L1437 493.7L1441 495.4L1445 497.1L1449 498.6L1453 500.1L1457 501.5L1461 502.9L1465 504.1L1469 505.3L1473 506.4L1477 507.5L1481 508.5L1485 509.4L1489 510.2L1493 511L1497 511.8L1501 512.5L1505 513.1L1509 513.7L1509.3 513.7M1665.8 513.2L1670.8 512.8L1675.8 512.4L1680.8 512L1685.8 511.6L1690.8 511.2L1695.8 510.8L1700.8 510.4L1705.8 510L1710.8 509.6L1715.8 509.2L1720.8 508.8L1725.8 508.4L1730.8 508L1735.8 507.6L1740.8 507.2L1745.8 506.8L1750.8 506.4L1755.8 506L1760.8 505.7L1765.8 505.3L1770.8 504.9L1775.8 504.6L1780.8 504.3L1785.8 503.9L1790.8 503.6L1795.8 503.3L1800.8 503L1805.8 502.8L1810.8 502.5L1815.8 502.3L1820.8 502L1825.8 501.8L1830.8 501.6L1835.8 501.4L1840.8 501.2L1845.8 501L1850.8 500.8L1855.8 500.7L1860.8 500.6L1865.8 500.6L1870.8 500.7L1875.8 500.8L1880.8 501L1885.8 501.3L1890.8 501.5L1895.8 501.9L1900.8 502.2L1905.8 502.6L1910.8 503L1915.8 503.5L1920.8 503.9L1925.8 504.4L1930.8 504.9L1935.8 505.4L1940.8 505.9L1945.8 506.4L1950.8 506.9L1955.8 507.4L1960.8 507.9L1965.8 508.4L1970.8 508.9L1975.8 509.4L1980.8 509.9L1985.8 510.4L1990.8 510.9L1995.8 511.4L2000.8 511.9L2005.8 512.3L2010.8 512.8L2015 513.2"/></g>
<g><path d="M1097 636L1097 626.8L1101 625.9L1105 624.9L1109 623.9L1113 622.7L1117 621.5L1121 620.2L1125 618.9L1129 617.4L1133 615.9L1137 614.3L1141 612.6L1145 610.8L1149 608.9L1153 607L1157 605L1161 602.9L1165 600.7L1169 598.4L1173 596.1L1177 593.7L1181 591.3L1185 588.8L1189 586.3L1193 583.7L1197 581.1L1201 578.5L1205 575.9L1209 573.3L1213 570.7L1217 568.1L1221 565.6L1225 563.1L1229 560.7L1233 558.3L1237 556L1241 553.8L1245 551.7L1249 549.8L1253 547.9L1257 546.2L1261 544.6L1265 543.2L1269 541.9L1273 540.8L1277 539.9L1281 539.2L1285 538.6L1289 538.2L1293 538L1297 538L1301 538.2L1305 538.6L1309 539.2L1313 539.9L1317 540.9L1321 542L1325 543.3L1329 544.7L1333 546.4L1337 548.1L1341 550L1345 552L1349 554.1L1353 556.4L1357 558.7L1361 561.1L1365 563.6L1369 566.1L1373 568.7L1377 571.3L1381 573.9L1385 576.6L1389 579.2L1393 581.8L1397 584.4L1401 587L1405 589.6L1409 592.1L1413 594.5L1417 596.9L1421 599.2L1425 601.5L1429 603.6L1433 605.8L1437 607.8L1441 609.7L1445 611.6L1449 613.3L1453 615L1457 616.6L1461 618.1L1465 619.5L1469 620.9L1473 622.1L1477 623.3L1481 624.4L1485 625.4L1489 626.4L1493 627.3L1497 628.1L1501 628.9L1505 629.6L1509 630.2L1512.4 630.7L1512.4 636ZM1745.4 636L1745.4 630.2L1837.7 630.2L1837.7 636Z" fill="rgb(174,135,255)" fill-opacity="0.5"/><circle class="p" cx="1295" cy="643" r="6.95"/><circle class="p" cx="1295" cy="644.2" r="6.95"/><circle class="p" cx="1295" cy="645.3" r="6.95"/><circle class="p" cx="1295" cy="646.5" r="6.95"/><circle class="p" cx="1295" cy="647.7" r="6.95"/><circle class="p" cx="1295" cy="648.8" r="6.95"/><circle class="p" cx="1295" cy="650" r="6.95"/><circle class="p" cx="1295" cy="651.2" r="6.95"/><circle class="p" cx="1295" cy="652.3" r="6.95"/><circle class="p" cx="1295" cy="653.5" r="6.95"/><circle class="p" cx="1295" cy="654.7" r="6.95"/><circle class="p" cx="1295" cy="655.8" r="6.95"/><circle class="p" cx="1295" cy="657" r="6.95"/><circle class="p" cx="1295" cy="658.2" r="6.95"/><circle class="p" cx="1295" cy="659.3" r="6.95"/><circle class="p" cx="1295" cy="660.5" r="6.95"/><circle class="p" cx="1295" cy="661.7" r="6.95"/><circle class="p" cx="1295" cy="662.8" r="6.95"/><circle class="p" cx="1295" cy="664" r="6.95"/><circle class="p" cx="1295" cy="665.2" r="6.95"/><circle class="p" cx="1295" cy="666.3" r="6.95"/><circle class="p" cx="1295" cy="667.5" r="6.95"/><circle class="p" cx="1295" cy="668.7" r="6.95"/><circle class="p" cx="1295" cy="669.8" r="6.95"/><circle class="p" cx="1295" cy="671" r="6.95"/><circle class="p" cx="1295" cy="672.2" r="6.95"/><circle class="p" cx="1295" cy="673.3" r="6.95"/><circle class="p" cx="1295" cy="674.5" r="6.95"/><circle class="p" cx="1295" cy="675.7" r="6.95"/><circle class="p" cx="1295" cy="676.8" r="6.95"/><circle class="p" cx="1295" cy="678" r="6.95"/><circle class="p" cx="1295" cy="679.2" r="6.95"/><circle class="p" cx="1295" cy="680.3" r="6.95"/><circle class="p" cx="1295" cy="681.5" r="6.95"/><circle class="p" cx="1295" cy="682.7" r="6.95"/><circle class="p" cx="1295" cy="683.8" r="6.95"/><circle class="p" cx="1295" cy="685" r="6.95"/><circle class="p" cx="1295" cy="686.2" r="6.95"/><circle class="p" cx="1295" cy="687.3" r="6.95"/><circle class="p" cx="1295" cy="688.5" r="6.95"/><circle class="p" cx="1713.6" cy="670.2" r="6.95"/><circle class="p" cx="1727.8" cy="670.2" r="6.95"/><circle class="p" cx="1782.3" cy="666.4" r="6.95"/><circle class="p" cx="1787.8" cy="664.3" r="6.95"/><circle class="p" cx="1805.8" cy="668.1" r="6.95"/><circle class="p" cx="1844.8" cy="647.1" r="6.95"/><circle class="p" cx="1926.6" cy="651.3" r="6.95"/><circle class="p" cx="2102.6" cy="644.2" r="6.95"/><circle class="p" cx="2093.8" cy="660.1" r="6.95"/><circle class="p" cx="2091.7" cy="684" r="6.95"/><circle class="p" cx="2230.9" cy="668.1" r="6.95"/><circle class="p" cx="2247.7" cy="676" r="6.95"/><circle class="p" cx="2269.9" cy="666.4" r="6.95"/><path class="l" d="M1097 626.8L1101 625.9L1105 624.9L1109 623.9L1113 622.7L1117 621.5L1121 620.2L1125 618.9L1129 617.4L1133 615.9L1137 614.3L1141 612.6L1145 610.8L1149 608.9L1153 607L1157 605L1161 602.9L1165 600.7L1169 598.4L1173 596.1L1177 593.7L1181 591.3L1185 588.8L1189 586.3L1193 583.7L1197 581.1L1201 578.5L1205 575.9L1209 573.3L1213 570.7L1217 568.1L1221 565.6L1225 563.1L1229 560.7L1233 558.3L1237 556L1241 553.8L1245 551.7L1249 549.8L1253 547.9L1257 546.2L1261 544.6L1265 543.2L1269 541.9L1273 540.8L1277 539.9L1281 539.2L1285 538.6L1289 538.2L1293 538L1297 538L1301 538.2L1305 538.6L1309 539.2L1313 539.9L1317 540.9L1321 542L1325 543.3L1329 544.7L1333 546.4L1337 548.1L1341 550L1345 552L1349 554.1L1353 556.4L1357 558.7L1361 561.1L1365 563.6L1369 566.1L1373 568.7L1377 571.3L1381 573.9L1385 576.6L1389 579.2L1393 581.8L1397 584.4L1401 587L1405 589.6L1409 592.1L1413 594.5L1417 596.9L1421 599.2L1425 601.5L1429 603.6L1433 605.8L1437 607.8L1441 609.7L1445 611.6L1449 613.3L1453 615L1457 616.6L1461 618.1L1465 619.5L1469 620.9L1473 622.1L1477 623.3L1481 624.4L1485 625.4L1489 626.4L1493 627.3L1497 628.1L1501 628.9L1505 629.6L1509 630.2L1512.4 630.7M1745.4 630.2L1837.7 630.2"/></g>
<g><path d="M1097 753L1097 742.6L1101 741.6L1105 740.5L1109 739.3L1113 738L1117 736.6L1121 735.2L1125 733.6L1129 732L1133 730.3L1137 728.4L1141 726.5L1145 724.5L1149 722.4L1153 720.2L1157 717.9L1161 715.5L1165 713L1169 710.5L1173 707.9L1177 705.2L1181 702.4L1185 699.6L1189 696.7L1193 693.8L1197 690.9L1201 688L1205 685L1209 682L1213 679.1L1217 676.2L1221 673.3L1225 670.5L1229 667.7L1233 665.1L1237 662.5L1241 660L1245 657.6L1249 655.4L1253 653.3L1257 651.4L1261 649.6L1265 648L1269 646.5L1273 645.3L1277 644.2L1281 643.4L1285 642.8L1289 642.3L1293 642.1L1297 642.1L1301 642.4L1305 642.8L1309 643.5L1313 644.3L1317 645.4L1321 646.7L1325 648.2L1329 649.9L1333 651.7L1337 653.7L1341 655.9L1345 658.2L1349 660.6L1353 663.2L1357 665.9L1361 668.6L1365 671.4L1369 674.3L1373 677.3L1377 680.3L1381 683.3L1385 686.3L1389 689.3L1393 692.3L1397 695.2L1401 698.2L1405 701.1L1409 703.9L1413 706.7L1417 709.4L1421 712L1425 714.6L1429 717L1433 719.4L1437 721.7L1441 723.9L1445 726L1449 727.9L1453 729.8L1457 731.6L1461 733.3L1465 734.9L1469 736.4L1473 737.8L1477 739.1L1481 740.3L1485 741.5L1489 742.5L1493 743.5L1497 744.4L1501 745.3L1505 746L1509 746.7L1513 747.4L1515.2 747.7L1515.2 753Z" fill="rgb(97,156,255)" fill-opacity="0.5"/><circle class="p" cx="1295" cy="760" r="6.95"/><circle class="p" cx="1295" cy="761.2" r="6.95"/><circle class="p" cx="1295" cy="762.3" r="6.95"/><circle class="p" cx="1295" cy="763.5" r="6.95"/><circle class="p" cx="1295" cy="764.7" r="6.95"/><circle class="p" cx="1295" cy="765.8" r="6.95"/><circle class="p" cx="1295" cy="767" r="6.95"/><circle class="p" cx="1295" cy="768.2" r="6.95"/><circle class="p" cx="1295" cy="769.3" r="6.95"/><circle class="p" cx="1295" cy="770.5" r="6.95"/><circle class="p" cx="1295" cy="771.7" r="6.95"/><circle class="p" cx="1295" cy="772.8" r="6.95"/><circle class="p" cx="1295" cy="774" r="6.95"/><circle class="p" cx="1295" cy="775.2" r="6.95"/><circle class="p" cx="1295" cy="776.3" r="6.95"/><circle class="p" cx="1295" cy="777.5" r="6.95"/><circle class="p" cx="1295" cy="778.7" r="6.95"/><circle class="p" cx="1295" cy="779.8" r="6.95"/><circle class="p" cx="1295" cy="781" r="6.95"/><circle class="p" cx="1295" cy="782.2" r="6.95"/><circle class="p" cx="1295" cy="783.3" r="6.95"/><circle class="p" cx="1295" cy="784.5" r="6.95"/><circle class="p" cx="1295" cy="785.7" r="6.95"/><circle class="p" cx="1295" cy="786.8" r="6.95"/><circle class="p" cx="1295" cy="788" r="6.95"/><circle class="p" cx="1295" cy="789.2" r="6.95"/><circle class="p" cx="1295" cy="790.3" r="6.95"/><circle class="p" cx="1295" cy="791.5" r="6.95"/><circle class="p" cx="1295" cy="792.7" r="6.95"/><circle class="p" cx="1295" cy="793.8" r="6.95"/><circle class="p" cx="1295" cy="795" r="6.95"/><circle class="p" cx="1295" cy="796.2" r="6.95"/><circle class="p" cx="1295" cy="797.3" r="6.95"/><circle class="p" cx="1295" cy="798.5" r="6.95"/><circle class="p" cx="1295" cy="799.7" r="6.95"/><circle class="p" cx="1295" cy="800.8" r="6.95"/><circle class="p" cx="1295" cy="802" r="6.95"/><circle class="p" cx="1295" cy="803.2" r="6.95"/><circle class="p" cx="1295" cy="804.3" r="6.95"/><circle class="p" cx="1295" cy="805.5" r="6.95"/><circle class="p" cx="1818" cy="764.1" r="6.95"/><path class="l" d="M1097 742.6L1101 741.6L1105 740.5L1109 739.3L1113 738L1117 736.6L1121 735.2L1125 733.6L1129 732L1133 730.3L1137 728.4L1141 726.5L1145 724.5L1149 722.4L1153 720.2L1157 717.9L1161 715.5L1165 713L1169 710.5L1173 707.9L1177 705.2L1181 702.4L1185 699.6L1189 696.7L1193 693.8L1197 690.9L1201 688L1205 685L1209 682L1213 679.1L1217 676.2L1221 673.3L1225 670.5L1229 667.7L1233 665.1L1237 662.5L1241 660L1245 657.6L1249 655.4L1253 653.3L1257 651.4L1261 649.6L1265 648L1269 646.5L1273 645.3L1277 644.2L1281 643.4L1285 642.8L1289 642.3L1293 642.1L1297 642.1L1301 642.4L1305 642.8L1309 643.5L1313 644.3L1317 645.4L1321 646.7L1325 648.2L1329 649.9L1333 651.7L1337 653.7L1341 655.9L1345 658.2L1349 660.6L1353 663.2L1357 665.9L1361 668.6L1365 671.4L1369 674.3L1373 677.3L1377 680.3L1381 683.3L1385 686.3L1389 689.3L1393 692.3L1397 695.2L1401 698.2L1405 701.1L1409 703.9L1413 706.7L1417 709.4L1421 712L1425 714.6L1429 717L1433 719.4L1437 721.7L1441 723.9L1445 726L1449 727.9L1453 729.8L1457 731.6L1461 733.3L1465 734.9L1469 736.4L1473 737.8L1477 739.1L1481 740.3L1485 741.5L1489 742.5L1493 743.5L1497 744.4L1501 745.3L1505 746L1509 746.7L1513 747.4L1515.2 747.7"/></g>
<g><path d="M1097 870L1097 862.5L1101 861.7L1105 860.9L1109 860L1113 859.1L1117 858.1L1121 857.1L1125 856L1129 854.8L1133 853.5L1137 852.2L1141 850.8L1145 849.3L1149 847.8L1153 846.2L1157 844.5L1161 842.8L1165 841L1169 839.2L1173 837.3L1177 835.3L1181 833.3L1185 831.3L1189 829.2L1193 827.1L1197 825L1201 822.8L1205 820.7L1209 818.6L1213 816.4L1217 814.3L1221 812.2L1225 810.2L1229 808.2L1233 806.3L1237 804.4L1241 802.6L1245 800.9L1249 799.2L1253 797.7L1257 796.3L1261 795L1265 793.9L1269 792.8L1273 791.9L1277 791.2L1281 790.5L1285 790.1L1289 789.8L1293 789.6L1297 789.6L1301 789.8L1305 790.1L1309 790.5L1313 791.1L1317 791.9L1321 792.8L1325 793.8L1329 794.9L1333 796.2L1337 797.6L1341 799.1L1345 800.7L1349 802.3L1353 804.1L1357 806L1361 807.9L1365 809.8L1369 811.9L1373 813.9L1377 816L1381 818.1L1385 820.2L1389 822.4L1393 824.5L1397 826.6L1401 828.7L1405 830.7L1409 832.8L1413 834.7L1417 836.7L1421 838.6L1425 840.4L1429 842.2L1433 844L1437 845.6L1441 847.2L1445 848.8L1449 850.3L1453 851.7L1457 853L1461 854.3L1465 855.5L1469 856.6L1473 857.7L1477 858.7L1481 859.6L1485 860.5L1489 861.3L1493 862.1L1497 862.8L1501 863.5L1505 864.1L1509 864.7L1509.3 864.7L1509.3 870ZM1623.9 870L1623.9 864.1L1628.9 863.6L1633.9 863L1638.9 862.5L1643.9 862L1648.9 861.5L1653.9 861L1658.9 860.5L1663.9 860L1668.9 859.5L1673.9 859L1678.9 858.5L1683.9 858.1L1688.9 857.6L1693.9 857.2L1698.9 856.7L1703.9 856.3L1708.9 855.9L1713.9 855.5L1718.9 855.1L1723.9 854.7L1728.9 854.3L1733.9 853.9L1738.9 853.6L1743.9 853.2L1748.9 852.8L1753.9 852.5L1758.9 852.1L1763.9 851.8L1768.9 851.4L1773.9 851.1L1778.9 850.7L1783.9 850.4L1788.9 850.1L1793.9 849.8L1798.9 849.5L1803.9 849.2L1808.9 848.9L1813.9 848.6L1818.9 848.4L1823.9 848.2L1828.9 848L1833.9 847.9L1838.9 847.8L1843.9 847.7L1848.9 847.7L1853.9 847.8L1858.9 847.9L1863.9 848L1868.9 848.2L1873.9 848.5L1878.9 848.7L1883.9 849L1888.9 849.3L1893.9 849.6L1898.9 850L1903.9 850.3L1908.9 850.7L1913.9 851.1L1918.9 851.5L1923.9 851.9L1928.9 852.4L1933.9 852.8L1938.9 853.2L1943.9 853.7L1948.9 854.1L1953.9 854.5L1958.9 855L1963.9 855.4L1968.9 855.9L1973.9 856.3L1978.9 856.7L1983.9 857.2L1988.9 857.6L1993.9 858L1998.9 858.4L2003.9 858.9L2008.9 859.3L2013.9 859.7L2018.9 860.1L2023.9 860.5L2028.9 860.9L2033.9 861.3L2038.9 861.7L2043.9 862.1L2048.9 862.5L2053.9 862.9L2058.9 863.3L2063.9 863.7L2068.9 864.1L2069.1 864.1L2069.1 870Z" fill="rgb(0,173,250)" fill-opacity="0.5"/><circle class="p" cx="1295" cy="877" r="6.95"/><circle class="p" cx="1295" cy="878.2" r="6.95"/><circle class="p" cx="1295" cy="879.3" r="6.95"/><circle class="p" cx="1295" cy="880.5" r="6.95"/><circle class="p" cx="1295" cy="881.7" r="6.95"/><circle class="p" cx="1295" cy="882.8" r="6.95"/><circle class="p" cx="1295" cy="884" r="6.95"/><circle class="p" cx="1295" cy="885.2" r="6.95"/><circle class="p" cx="1295" cy="886.3" r="6.95"/><circle class="p" cx="1295" cy="887.5" r="6.95"/><circle class="p" cx="1295" cy="888.7" r="6.95"/><circle class="p" cx="1295" cy="889.8" r="6.95"/><circle class="p" cx="1295" cy="891" r="6.95"/><circle class="p" cx="1295" cy="892.2" r="6.95"/><circle class="p" cx="1295" cy="893.3" r="6.95"/><circle class="p" cx="1295" cy="894.5" r="6.95"/><circle class="p" cx="1295" cy="895.7" r="6.95"/><circle class="p" cx="1295" cy="896.8" r="6.95"/><circle class="p" cx="1295" cy="898" r="6.95"/><circle class="p" cx="1295" cy="899.2" r="6.95"/><circle class="p" cx="1295" cy="900.3" r="6.95"/><circle class="p" cx="1295" cy="901.5" r="6.95"/><circle class="p" cx="1295" cy="902.7" r="6.95"/><circle class="p" cx="1295" cy="903.8" r="6.95"/><circle class="p" cx="1295" cy="905" r="6.95"/><circle class="p" cx="1295" cy="906.2" r="6.95"/><circle class="p" cx="1295" cy="907.3" r="6.95"/><circle class="p" cx="1295" cy="908.5" r="6.95"/><circle class="p" cx="1295" cy="909.7" r="6.95"/><circle class="p" cx="1295" cy="910.8" r="6.95"/><circle class="p" cx="1295" cy="912" r="6.95"/><circle class="p" cx="1295" cy="913.2" r="6.95"/><circle class="p" cx="1295" cy="914.3" r="6.95"/><circle class="p" cx="1295" cy="915.5" r="6.95"/><circle class="p" cx="1295" cy="916.7" r="6.95"/><circle class="p" cx="1295" cy="917.8" r="6.95"/><circle class="p" cx="1295" cy="919" r="6.95"/><circle class="p" cx="1295" cy="920.2" r="6.95"/><circle class="p" cx="1295" cy="921.3" r="6.95"/><circle class="p" cx="1295" cy="922.5" r="6.95"/><circle class="p" cx="1687.6" cy="878" r="6.95"/><circle class="p" cx="1683" cy="909.4" r="6.95"/><circle class="p" cx="1750.5" cy="893.1" r="6.95"/><circle class="p" cx="1761.8" cy="886.4" r="6.95"/><circle class="p" cx="1755.9" cy="912" r="6.95"/><circle class="p" cx="1792.8" cy="882.2" r="6.95"/><circle class="p" cx="1814.6" cy="883" r="6.95"/><circle class="p" cx="1864.9" cy="878.8" r="6.95"/><circle class="p" cx="1856.5" cy="898.5" r="6.95"/><circle class="p" cx="1873.7" cy="901.9" r="6.95"/><circle class="p" cx="1891.8" cy="898.1" r="6.95"/><circle class="p" cx="1893.8" cy="916.2" r="6.95"/><circle class="p" cx="1852.3" cy="917" r="6.95"/><circle class="p" cx="1843.5" cy="922.4" r="6.95"/><circle class="p" cx="1924.9" cy="895.2" r="6.95"/><circle class="p" cx="1966.8" cy="899" r="6.95"/><circle class="p" cx="1986.9" cy="898.1" r="6.95"/><circle class="p" cx="2056.1" cy="895.2" r="6.95"/><path class="l" d="M1097 862.5L1101 861.7L1105 860.9L1109 860L1113 859.1L1117 858.1L1121 857.1L1125 856L1129 854.8L1133 853.5L1137 852.2L1141 850.8L1145 849.3L1149 847.8L1153 846.2L1157 844.5L1161 842.8L1165 841L1169 839.2L1173 837.3L1177 835.3L1181 833.3L1185 831.3L1189 829.2L1193 827.1L1197 825L1201 822.8L1205 820.7L1209 818.6L1213 816.4L1217 814.3L1221 812.2L1225 810.2L1229 808.2L1233 806.3L1237 804.4L1241 802.6L1245 800.9L1249 799.2L1253 797.7L1257 796.3L1261 795L1265 793.9L1269 792.8L1273 791.9L1277 791.2L1281 790.5L1285 790.1L1289 789.8L1293 789.6L1297 789.6L1301 789.8L1305 790.1L1309 790.5L1313 791.1L1317 791.9L1321 792.8L1325 793.8L1329 794.9L1333 796.2L1337 797.6L1341 799.1L1345 800.7L1349 802.3L1353 804.1L1357 806L1361 807.9L1365 809.8L1369 811.9L1373 813.9L1377 816L1381 818.1L1385 820.2L1389 822.4L1393 824.5L1397 826.6L1401 828.7L1405 830.7L1409 832.8L1413 834.7L1417 836.7L1421 838.6L1425 840.4L1429 842.2L1433 844L1437 845.6L1441 847.2L1445 848.8L1449 850.3L1453 851.7L1457 853L1461 854.3L1465 855.5L1469 856.6L1473 857.7L1477 858.7L1481 859.6L1485 860.5L1489 861.3L1493 862.1L1497 862.8L1501 863.5L1505 864.1L1509 864.7L1509.3 864.7M1623.9 864.1L1628.9 863.6L1633.9 863L1638.9 862.5L1643.9 862L1648.9 861.5L1653.9 861L1658.9 860.5L1663.9 860L1668.9 859.5L1673.9 859L1678.9 858.5L1683.9 858.1L1688.9 857.6L1693.9 857.2L1698.9 856.7L1703.9 856.3L1708.9 855.9L1713.9 855.5L1718.9 855.1L1723.9 854.7L1728.9 854.3L1733.9 853.9L1738.9 853.6L1743.9 853.2L1748.9 852.8L1753.9 852.5L1758.9 852.1L1763.9 851.8L1768.9 851.4L1773.9 851.1L1778.9 850.7L1783.9 850.4L1788.9 850.1L1793.9 849.8L1798.9 849.5L1803.9 849.2L1808.9 848.9L1813.9 848.6L1818.9 848.4L1823.9 848.2L1828.9 848L1833.9 847.9L1838.9 847.8L1843.9 847.7L1848.9 847.7L1853.9 847.8L1858.9 847.9L1863.9 848L1868.9 848.2L1873.9 848.5L1878.9 848.7L1883.9 849L1888.9 849.3L1893.9 849.6L1898.9 850L1903.9 850.3L1908.9 850.7L1913.9 851.1L1918.9 851.5L1923.9 851.9L1928.9 852.4L1933.9 852.8L1938.9 853.2L1943.9 853.7L1948.9 854.1L1953.9 854.5L1958.9 855L1963.9 855.4L1968.9 855.9L1973.9 856.3L1978.9 856.7L1983.9 857.2L1988.9 857.6L1993.9 858L1998.9 858.4L2003.9 858.9L2008.9 859.3L2013.9 859.7L2018.9 860.1L2023.9 860.5L2028.9 860.9L2033.9 861.3L2038.9 861.7L2043.9 862.1L2048.9 862.5L2053.9 862.9L2058.9 863.3L2063.9 863.7L2068.9 864.1L2069.1 864.1"/></g>
<g><path d="M1097 987L1097 977.1L1101 976.1L1105 975L1109 973.9L1113 972.7L1117 971.4L1121 970L1125 968.5L1129 967L1133 965.3L1137 963.6L1141 961.7L1145 959.8L1149 957.8L1153 955.7L1157 953.5L1161 951.2L1165 948.9L1169 946.4L1173 943.9L1177 941.4L1181 938.7L1185 936L1189 933.3L1193 930.5L1197 927.8L1201 924.9L1205 922.1L1209 919.3L1213 916.5L1217 913.7L1221 911L1225 908.3L1229 905.7L1233 903.1L1237 900.6L1241 898.3L1245 896L1249 893.9L1253 891.9L1257 890L1261 888.3L1265 886.8L1269 885.4L1273 884.2L1277 883.2L1281 882.4L1285 881.8L1289 881.4L1293 881.2L1297 881.2L1301 881.4L1305 881.8L1309 882.4L1313 883.2L1317 884.2L1321 885.3L1325 886.6L1329 888.1L1333 889.8L1337 891.6L1341 893.6L1345 895.6L1349 897.8L1353 900.1L1357 902.6L1361 905.1L1365 907.6L1369 910.3L1373 913L1377 915.7L1381 918.4L1385 921.2L1389 924L1393 926.8L1397 929.5L1401 932.3L1405 935L1409 937.6L1413 940.3L1417 942.8L1421 945.3L1425 947.7L1429 950.1L1433 952.4L1437 954.6L1441 956.7L1445 958.7L1449 960.7L1453 962.5L1457 964.3L1461 966L1465 967.6L1469 969.1L1473 970.5L1477 971.8L1481 973.1L1485 974.3L1489 975.4L1493 976.4L1497 977.3L1501 978.2L1505 979L1509 979.8L1513 980.5L1517 981.1L1520.9 981.7L1520.9 987Z" fill="rgb(0,185,227)" fill-opacity="0.5"/><circle class="p" cx="1295" cy="994" r="6.95"/><circle class="p" cx="1295" cy="995.2" r="6.95"/><circle class="p" cx="1295" cy="996.3" r="6.95"/><circle class="p" cx="1295" cy="997.5" r="6.95"/><circle class="p" cx="1295" cy="998.7" r="6.95"/><circle class="p" cx="1295" cy="999.8" r="6.95"/><circle class="p" cx="1295" cy="1001" r="6.95"/><circle class="p" cx="1295" cy="1002.2" r="6.95"/><circle class="p" cx="1295" cy="1003.3" r="6.95"/><circle class="p" cx="1295" cy="1004.5" r="6.95"/><circle class="p" cx="1295" cy="1005.7" r="6.95"/><circle class="p" cx="1295" cy="1006.8" r="6.95"/><circle class="p" cx="1295" cy="1008" r="6.95"/><circle class="p" cx="1295" cy="1009.2" r="6.95"/><circle class="p" cx="1295" cy="1010.3" r="6.95"/><circle class="p" cx="1295" cy="1011.5" r="6.95"/><circle class="p" cx="1295" cy="1012.7" r="6.95"/><circle class="p" cx="1295" cy="1013.8" r="6.95"/><circle class="p" cx="1295" cy="1015" r="6.95"/><circle class="p" cx="1295" cy="1016.2" r="6.95"/><circle class="p" cx="1295" cy="1017.3" r="6.95"/><circle class="p" cx="1295" cy="1018.5" r="6.95"/><circle class="p" cx="1295" cy="1019.7" r="6.95"/><circle class="p" cx="1295" cy="1020.8" r="6.95"/><circle class="p" cx="1295" cy="1022" r="6.95"/><circle class="p" cx="1295" cy="1023.2" r="6.95"/><circle class="p" cx="1295" cy="1024.3" r="6.95"/><circle class="p" cx="1295" cy="1025.5" r="6.95"/><circle class="p" cx="1295" cy="1026.7" r="6.95"/><circle class="p" cx="1295" cy="1027.8" r="6.95"/><circle class="p" cx="1295" cy="1029" r="6.95"/><circle class="p" cx="1295" cy="1030.2" r="6.95"/><circle class="p" cx="1295" cy="1031.3" r="6.95"/><circle class="p" cx="1295" cy="1032.5" r="6.95"/><circle class="p" cx="1295" cy="1033.7" r="6.95"/><circle class="p" cx="1295" cy="1034.8" r="6.95"/><circle class="p" cx="1295" cy="1036" r="6.95"/><circle class="p" cx="1295" cy="1037.2" r="6.95"/><circle class="p" cx="1295" cy="1038.3" r="6.95"/><circle class="p" cx="1295" cy="1039.5" r="6.95"/><circle class="p" cx="1636.8" cy="1026.4" r="6.95"/><circle class="p" cx="1665.8" cy="1008" r="6.95"/><circle class="p" cx="1668.3" cy="1008" r="6.95"/><circle class="p" cx="1710.6" cy="1016.8" r="6.95"/><circle class="p" cx="1745.9" cy="1013" r="6.95"/><circle class="p" cx="1904.7" cy="1035.2" r="6.95"/><circle class="p" cx="1939.5" cy="1026.8" r="6.95"/><circle class="p" cx="2115.6" cy="993.3" r="6.95"/><circle class="p" cx="2110.6" cy="1021" r="6.95"/><circle class="p" cx="2225.9" cy="1007.1" r="6.95"/><path class="l" d="M1097 977.1L1101 976.1L1105 975L1109 973.9L1113 972.7L1117 971.4L1121 970L1125 968.5L1129 967L1133 965.3L1137 963.6L1141 961.7L1145 959.8L1149 957.8L1153 955.7L1157 953.5L1161 951.2L1165 948.9L1169 946.4L1173 943.9L1177 941.4L1181 938.7L1185 936L1189 933.3L1193 930.5L1197 927.8L1201 924.9L1205 922.1L1209 919.3L1213 916.5L1217 913.7L1221 911L1225 908.3L1229 905.7L1233 903.1L1237 900.6L1241 898.3L1245 896L1249 893.9L1253 891.9L1257 890L1261 888.3L1265 886.8L1269 885.4L1273 884.2L1277 883.2L1281 882.4L1285 881.8L1289 881.4L1293 881.2L1297 881.2L1301 881.4L1305 881.8L1309 882.4L1313 883.2L1317 884.2L1321 885.3L1325 886.6L1329 888.1L1333 889.8L1337 891.6L1341 893.6L1345 895.6L1349 897.8L1353 900.1L1357 902.6L1361 905.1L1365 907.6L1369 910.3L1373 913L1377 915.7L1381 918.4L1385 921.2L1389 924L1393 926.8L1397 929.5L1401 932.3L1405 935L1409 937.6L1413 940.3L1417 942.8L1421 945.3L1425 947.7L1429 950.1L1433 952.4L1437 954.6L1441 956.7L1445 958.7L1449 960.7L1453 962.5L1457 964.3L1461 966L1465 967.6L1469 969.1L1473 970.5L1477 971.8L1481 973.1L1485 974.3L1489 975.4L1493 976.4L1497 977.3L1501 978.2L1505 979L1509 979.8L1513 980.5L1517 981.1L1520.9 981.7"/></g>
<g><path d="M1097 1104L1097 1097.4L1101 1096.7L1105 1096L1109 1095.2L1113 1094.4L1117 1093.6L1121 1092.6L1125 1091.7L1129 1090.6L1133 1089.5L1137 1088.3L1141 1087.1L1145 1085.8L1149 1084.5L1153 1083.1L1157 1081.6L1161 1080.1L1165 1078.5L1169 1076.9L1173 1075.2L1177 1073.5L1181 1071.7L1185 1069.9L1189 1068.1L1193 1066.3L1197 1064.4L1201 1062.5L1205 1060.6L1209 1058.8L1213 1056.9L1217 1055L1221 1053.2L1225 1051.4L1229 1049.7L1233 1047.9L1237 1046.3L1241 1044.7L1245 1043.2L1249 1041.8L1253 1040.4L1257 1039.2L1261 1038.1L1265 1037L1269 1036.1L1273 1035.3L1277 1034.7L1281 1034.1L1285 1033.7L1289 1033.5L1293 1033.3L1297 1033.3L1301 1033.5L1305 1033.7L1309 1034.1L1313 1034.7L1317 1035.4L1321 1036.2L1325 1037.1L1329 1038.2L1333 1039.3L1337 1040.6L1341 1041.9L1345 1043.4L1349 1044.9L1353 1046.5L1357 1048.2L1361 1049.9L1365 1051.7L1369 1053.5L1373 1055.4L1377 1057.3L1381 1059.1L1385 1061L1389 1063L1393 1064.8L1397 1066.7L1401 1068.6L1405 1070.4L1409 1072.2L1413 1074L1417 1075.7L1421 1077.4L1425 1079L1429 1080.6L1433 1082.1L1437 1083.6L1441 1085L1445 1086.3L1449 1087.6L1453 1088.8L1457 1089.9L1461 1091L1465 1092.1L1469 1093L1473 1093.9L1477 1094.8L1481 1095.6L1485 1096.3L1489 1097L1493 1097.7L1497 1098.3L1500.2 1098.7L1500.2 1104ZM1690.1 1104L1690.1 1099.5L1695.1 1098.8L1700.1 1098L1705.1 1097.3L1710.1 1096.6L1715.1 1095.9L1720.1 1095.2L1725.1 1094.5L1730.1 1093.8L1735.1 1093.1L1740.1 1092.5L1745.1 1091.8L1750.1 1091.1L1755.1 1090.5L1760.1 1089.8L1765.1 1089.2L1770.1 1088.6L1775.1 1088.1L1780.1 1087.5L1785.1 1087L1790.1 1086.4L1795.1 1085.9L1800.1 1085.5L1805.1 1085L1810.1 1084.6L1815.1 1084.2L1820.1 1083.8L1825.1 1083.4L1830.1 1083.1L1835.1 1082.8L1840.1 1082.5L1845.1 1082.2L1850.1 1082L1855.1 1081.8L1860.1 1081.7L1865.1 1081.6L1870.1 1081.5L1875.1 1081.5L1880.1 1081.4L1885.1 1081.4L1890.1 1081.5L1895.1 1081.5L1900.1 1081.6L1905.1 1081.6L1910.1 1081.7L1915.1 1081.8L1920.1 1081.9L1925.1 1082L1930.1 1082.1L1935.1 1082.2L1940.1 1082.4L1945.1 1082.5L1950.1 1082.6L1955.1 1082.7L1960.1 1082.9L1965.1 1083L1970.1 1083.2L1975.1 1083.4L1980.1 1083.5L1985.1 1083.7L1990.1 1083.9L1995.1 1084.1L2000.1 1084.3L2005.1 1084.5L2010.1 1084.8L2015.1 1085L2020.1 1085.2L2025.1 1085.5L2030.1 1085.7L2035.1 1086L2040.1 1086.3L2045.1 1086.6L2050.1 1086.9L2055.1 1087.2L2060.1 1087.5L2065.1 1087.9L2070.1 1088.2L2075.1 1088.5L2080.1 1088.9L2085.1 1089.2L2090.1 1089.6L2095.1 1089.9L2100.1 1090.3L2105.1 1090.6L2110.1 1090.9L2115.1 1091.3L2120.1 1091.6L2125.1 1092L2130.1 1092.3L2135.1 1092.6L2140.1 1093L2145.1 1093.3L2150.1 1093.6L2155.1 1094L2160.1 1094.3L2165.1 1094.6L2170.1 1094.9L2175.1 1095.3L2180.1 1095.6L2185.1 1095.9L2190.1 1096.3L2195.1 1096.6L2200.1 1096.9L2205.1 1097.3L2210.1 1097.6L2215.1 1097.9L2220.1 1098.3L2225.1 1098.6L2230.1 1098.9L2235.1 1099.3L2238.1 1099.5L2238.1 1104Z" fill="rgb(0,191,196)" fill-opacity="0.5"/><circle class="p" cx="1295" cy="1120" r="6.95"/><circle class="p" cx="1295" cy="1121.9" r="6.95"/><circle class="p" cx="1295" cy="1123.8" r="6.95"/><circle class="p" cx="1295" cy="1125.7" r="6.95"/><circle class="p" cx="1295" cy="1127.6" r="6.95"/><circle class="p" cx="1295" cy="1129.4" r="6.95"/><circle class="p" cx="1295" cy="1131.3" r="6.95"/><circle class="p" cx="1295" cy="1133.2" r="6.95"/><circle class="p" cx="1295" cy="1135.1" r="6.95"/><circle class="p" cx="1295" cy="1137" r="6.95"/><circle class="p" cx="1295" cy="1154.2" r="6.95"/><circle class="p" cx="1816.7" cy="1124.3" r="6.95"/><circle class="p" cx="1827.2" cy="1118.8" r="6.95"/><circle class="p" cx="1842.7" cy="1157" r="6.95"/><circle class="p" cx="1950.9" cy="1139.8" r="6.95"/><circle class="p" cx="2027.6" cy="1113" r="6.95"/><circle class="p" cx="2041.8" cy="1126" r="6.95"/><circle class="p" cx="2171.8" cy="1129.7" r="6.95"/><path class="l" d="M1097 1097.4L1101 1096.7L1105 1096L1109 1095.2L1113 1094.4L1117 1093.6L1121 1092.6L1125 1091.7L1129 1090.6L1133 1089.5L1137 1088.3L1141 1087.1L1145 1085.8L1149 1084.5L1153 1083.1L1157 1081.6L1161 1080.1L1165 1078.5L1169 1076.9L1173 1075.2L1177 1073.5L1181 1071.7L1185 1069.9L1189 1068.1L1193 1066.3L1197 1064.4L1201 1062.5L1205 1060.6L1209 1058.8L1213 1056.9L1217 1055L1221 1053.2L1225 1051.4L1229 1049.7L1233 1047.9L1237 1046.3L1241 1044.7L1245 1043.2L1249 1041.8L1253 1040.4L1257 1039.2L1261 1038.1L1265 1037L1269 1036.1L1273 1035.3L1277 1034.7L1281 1034.1L1285 1033.7L1289 1033.5L1293 1033.3L1297 1033.3L1301 1033.5L1305 1033.7L1309 1034.1L1313 1034.7L1317 1035.4L1321 1036.2L1325 1037.1L1329 1038.2L1333 1039.3L1337 1040.6L1341 1041.9L1345 1043.4L1349 1044.9L1353 1046.5L1357 1048.2L1361 1049.9L1365 1051.7L1369 1053.5L1373 1055.4L1377 1057.3L1381 1059.1L1385 1061L1389 1063L1393 1064.8L1397 1066.7L1401 1068.6L1405 1070.4L1409 1072.2L1413 1074L1417 1075.7L1421 1077.4L1425 1079L1429 1080.6L1433 1082.1L1437 1083.6L1441 1085L1445 1086.3L1449 1087.6L1453 1088.8L1457 1089.9L1461 1091L1465 1092.1L1469 1093L1473 1093.9L1477 1094.8L1481 1095.6L1485 1096.3L1489 1097L1493 1097.7L1497 1098.3L1500.2 1098.7M1690.1 1099.5L1695.1 1098.8L1700.1 1098L1705.1 1097.3L1710.1 1096.6L1715.1 1095.9L1720.1 1095.2L1725.1 1094.5L1730.1 1093.8L1735.1 1093.1L1740.1 1092.5L1745.1 1091.8L1750.1 1091.1L1755.1 1090.5L1760.1 1089.8L1765.1 1089.2L1770.1 1088.6L1775.1 1088.1L1780.1 1087.5L1785.1 1087L1790.1 1086.4L1795.1 1085.9L1800.1 1085.5L1805.1 1085L1810.1 1084.6L1815.1 1084.2L1820.1 1083.8L1825.1 1083.4L1830.1 1083.1L1835.1 1082.8L1840.1 1082.5L1845.1 1082.2L1850.1 1082L1855.1 1081.8L1860.1 1081.7L1865.1 1081.6L1870.1 1081.5L1875.1 1081.5L1880.1 1081.4L1885.1 1081.4L1890.1 1081.5L1895.1 1081.5L1900.1 1081.6L1905.1 1081.6L1910.1 1081.7L1915.1 1081.8L1920.1 1081.9L1925.1 1082L1930.1 1082.1L1935.1 1082.2L1940.1 1082.4L1945.1 1082.5L1950.1 1082.6L1955.1 1082.7L1960.1 1082.9L1965.1 1083L1970.1 1083.2L1975.1 1083.4L1980.1 1083.5L1985.1 1083.7L1990.1 1083.9L1995.1 1084.1L2000.1 1084.3L2005.1 1084.5L2010.1 1084.8L2015.1 1085L2020.1 1085.2L2025.1 1085.5L2030.1 1085.7L2035.1 1086L2040.1 1086.3L2045.1 1086.6L2050.1 1086.9L2055.1 1087.2L2060.1 1087.5L2065.1 1087.9L2070.1 1088.2L2075.1 1088.5L2080.1 1088.9L2085.1 1089.2L2090.1 1089.6L2095.1 1089.9L2100.1 1090.3L2105.1 1090.6L2110.1 1090.9L2115.1 1091.3L2120.1 1091.6L2125.1 1092L2130.1 1092.3L2135.1 1092.6L2140.1 1093L2145.1 1093.3L2150.1 1093.6L2155.1 1094L2160.1 1094.3L2165.1 1094.6L2170.1 1094.9L2175.1 1095.3L2180.1 1095.6L2185.1 1095.9L2190.1 1096.3L2195.1 1096.6L2200.1 1096.9L2205.1 1097.3L2210.1 1097.6L2215.1 1097.9L2220.1 1098.3L2225.1 1098.6L2230.1 1098.9L2235.1 1099.3L2238.1 1099.5"/></g>
<g><path d="M1097 1221L1097 1211L1101 1210L1105 1208.9L1109 1207.8L1113 1206.6L1117 1205.3L1121 1203.9L1125 1202.4L1129 1200.8L1133 1199.1L1137 1197.4L1141 1195.5L1145 1193.6L1149 1191.6L1153 1189.4L1157 1187.2L1161 1184.9L1165 1182.6L1169 1180.1L1173 1177.6L1177 1175L1181 1172.4L1185 1169.7L1189 1166.9L1193 1164.1L1197 1161.3L1201 1158.5L1205 1155.6L1209 1152.8L1213 1150L1217 1147.2L1221 1144.4L1225 1141.7L1229 1139.1L1233 1136.5L1237 1134L1241 1131.6L1245 1129.3L1249 1127.2L1253 1125.2L1257 1123.3L1261 1121.6L1265 1120L1269 1118.7L1273 1117.5L1277 1116.5L1281 1115.7L1285 1115L1289 1114.6L1293 1114.4L1297 1114.4L1301 1114.6L1305 1115L1309 1115.6L1313 1116.4L1317 1117.4L1321 1118.6L1325 1119.9L1329 1121.4L1333 1123.1L1337 1124.9L1341 1126.9L1345 1129L1349 1131.2L1353 1133.5L1357 1136L1361 1138.5L1365 1141.1L1369 1143.8L1373 1146.5L1377 1149.2L1381 1152L1385 1154.8L1389 1157.6L1393 1160.4L1397 1163.2L1401 1166L1405 1168.7L1409 1171.4L1413 1174L1417 1176.6L1421 1179.1L1425 1181.5L1429 1183.9L1433 1186.2L1437 1188.4L1441 1190.6L1445 1192.6L1449 1194.6L1453 1196.4L1457 1198.2L1461 1199.9L1465 1201.5L1469 1203L1473 1204.5L1477 1205.8L1481 1207.1L1485 1208.2L1489 1209.3L1493 1210.4L1497 1211.3L1501 1212.2L1505 1213L1509 1213.8L1513 1214.5L1517 1215.1L1520.9 1215.7L1520.9 1221ZM1704.8 1221L1704.8 1215.6L1780.2 1215.6L1780.2 1221Z" fill="rgb(0,193,159)" fill-opacity="0.5"/><circle class="p" cx="1295" cy="1228" r="6.95"/><circle class="p" cx="1295" cy="1229.2" r="6.95"/><circle class="p" cx="1295" cy="1230.3" r="6.95"/><circle class="p" cx="1295" cy="1231.5" r="6.95"/><circle class="p" cx="1295" cy="1232.7" r="6.95"/><circle class="p" cx="1295" cy="1233.8" r="6.95"/><circle class="p" cx="1295" cy="1235" r="6.95"/><circle class="p" cx="1295" cy="1236.2" r="6.95"/><circle class="p" cx="1295" cy="1237.3" r="6.95"/><circle class="p" cx="1295" cy="1238.5" r="6.95"/><circle class="p" cx="1295" cy="1239.7" r="6.95"/><circle class="p" cx="1295" cy="1240.8" r="6.95"/><circle class="p" cx="1295" cy="1242" r="6.95"/><circle class="p" cx="1295" cy="1243.2" r="6.95"/><circle class="p" cx="1295" cy="1244.3" r="6.95"/><circle class="p" cx="1295" cy="1245.5" r="6.95"/><circle class="p" cx="1295" cy="1246.7" r="6.95"/><circle class="p" cx="1295" cy="1247.8" r="6.95"/><circle class="p" cx="1295" cy="1249" r="6.95"/><circle class="p" cx="1295" cy="1250.2" r="6.95"/><circle class="p" cx="1295" cy="1251.3" r="6.95"/><circle class="p" cx="1295" cy="1252.5" r="6.95"/><circle class="p" cx="1295" cy="1253.7" r="6.95"/><circle class="p" cx="1295" cy="1254.8" r="6.95"/><circle class="p" cx="1295" cy="1256" r="6.95"/><circle class="p" cx="1295" cy="1257.2" r="6.95"/><circle class="p" cx="1295" cy="1258.3" r="6.95"/><circle class="p" cx="1295" cy="1259.5" r="6.95"/><circle class="p" cx="1295" cy="1260.7" r="6.95"/><circle class="p" cx="1295" cy="1261.8" r="6.95"/><circle class="p" cx="1295" cy="1263" r="6.95"/><circle class="p" cx="1295" cy="1264.2" r="6.95"/><circle class="p" cx="1295" cy="1265.3" r="6.95"/><circle class="p" cx="1295" cy="1266.5" r="6.95"/><circle class="p" cx="1295" cy="1267.7" r="6.95"/><circle class="p" cx="1295" cy="1268.8" r="6.95"/><circle class="p" cx="1295" cy="1270" r="6.95"/><circle class="p" cx="1295" cy="1271.2" r="6.95"/><circle class="p" cx="1295" cy="1272.3" r="6.95"/><circle class="p" cx="1295" cy="1273.5" r="6.95"/><circle class="p" cx="1761.8" cy="1230.4" r="6.95"/><circle class="p" cx="1784" cy="1240" r="6.95"/><circle class="p" cx="1654.9" cy="1268.1" r="6.95"/><path class="l" d="M1097 1211L1101 1210L1105 1208.9L1109 1207.8L1113 1206.6L1117 1205.3L1121 1203.9L1125 1202.4L1129 1200.8L1133 1199.1L1137 1197.4L1141 1195.5L1145 1193.6L1149 1191.6L1153 1189.4L1157 1187.2L1161 1184.9L1165 1182.6L1169 1180.1L1173 1177.6L1177 1175L1181 1172.4L1185 1169.7L1189 1166.9L1193 1164.1L1197 1161.3L1201 1158.5L1205 1155.6L1209 1152.8L1213 1150L1217 1147.2L1221 1144.4L1225 1141.7L1229 1139.1L1233 1136.5L1237 1134L1241 1131.6L1245 1129.3L1249 1127.2L1253 1125.2L1257 1123.3L1261 1121.6L1265 1120L1269 1118.7L1273 1117.5L1277 1116.5L1281 1115.7L1285 1115L1289 1114.6L1293 1114.4L1297 1114.4L1301 1114.6L1305 1115L1309 1115.6L1313 1116.4L1317 1117.4L1321 1118.6L1325 1119.9L1329 1121.4L1333 1123.1L1337 1124.9L1341 1126.9L1345 1129L1349 1131.2L1353 1133.5L1357 1136L1361 1138.5L1365 1141.1L1369 1143.8L1373 1146.5L1377 1149.2L1381 1152L1385 1154.8L1389 1157.6L1393 1160.4L1397 1163.2L1401 1166L1405 1168.7L1409 1171.4L1413 1174L1417 1176.6L1421 1179.1L1425 1181.5L1429 1183.9L1433 1186.2L1437 1188.4L1441 1190.6L1445 1192.6L1449 1194.6L1453 1196.4L1457 1198.2L1461 1199.9L1465 1201.5L1469 1203L1473 1204.5L1477 1205.8L1481 1207.1L1485 1208.2L1489 1209.3L1493 1210.4L1497 1211.3L1501 1212.2L1505 1213L1509 1213.8L1513 1214.5L1517 1215.1L1520.9 1215.7M1704.8 1215.6L1780.2 1215.6"/></g>
<g><path d="M1097 1339L1097 1332.6L1101 1332L1105 1331.3L1109 1330.6L1113 1329.8L1117 1329L1121 1328.1L1125 1327.1L1129 1326.1L1133 1325.1L1137 1324L1141 1322.8L1145 1321.5L1149 1320.3L1153 1318.9L1157 1317.5L1161 1316L1165 1314.5L1169 1313L1173 1311.4L1177 1309.7L1181 1308L1185 1306.3L1189 1304.5L1193 1302.8L1197 1301L1201 1299.2L1205 1297.4L1209 1295.6L1213 1293.8L1217 1292L1221 1290.2L1225 1288.5L1229 1286.8L1233 1285.2L1237 1283.6L1241 1282.1L1245 1280.6L1249 1279.2L1253 1278L1257 1276.8L1261 1275.7L1265 1274.7L1269 1273.8L1273 1273.1L1277 1272.4L1281 1271.9L1285 1271.5L1289 1271.2L1293 1271.1L1297 1271.1L1301 1271.2L1305 1271.5L1309 1271.9L1313 1272.4L1317 1273L1321 1273.7L1325 1274.6L1329 1275.6L1333 1276.6L1337 1277.8L1341 1279L1345 1280.4L1349 1281.8L1353 1283.3L1357 1284.8L1361 1286.4L1365 1288.1L1369 1289.8L1373 1291.5L1377 1293.3L1381 1295L1385 1296.8L1389 1298.6L1393 1300.4L1397 1302.2L1401 1303.9L1405 1305.7L1409 1307.4L1413 1309L1417 1310.7L1421 1312.3L1425 1313.9L1429 1315.4L1433 1316.8L1437 1318.2L1441 1319.6L1445 1320.9L1449 1322.2L1453 1323.3L1457 1324.5L1461 1325.6L1465 1326.6L1469 1327.5L1473 1328.5L1477 1329.3L1481 1330.1L1485 1330.9L1489 1331.6L1493 1332.2L1497 1332.8L1501 1333.4L1503.3 1333.7L1503.3 1339ZM1609.2 1339L1609.2 1332.8L1614.2 1332.3L1619.2 1331.9L1624.2 1331.4L1629.2 1331L1634.2 1330.5L1639.2 1330.1L1644.2 1329.6L1649.2 1329.2L1654.2 1328.8L1659.2 1328.3L1664.2 1327.9L1669.2 1327.4L1674.2 1327L1679.2 1326.6L1684.2 1326.1L1689.2 1325.7L1694.2 1325.3L1699.2 1324.9L1704.2 1324.5L1709.2 1324.1L1714.2 1323.7L1719.2 1323.3L1724.2 1323L1729.2 1322.7L1734.2 1322.4L1739.2 1322.1L1744.2 1321.8L1749.2 1321.5L1754.2 1321.2L1759.2 1321L1764.2 1320.7L1769.2 1320.5L1774.2 1320.2L1779.2 1320L1784.2 1319.7L1789.2 1319.5L1794.2 1319.2L1799.2 1319L1804.2 1318.7L1809.2 1318.5L1814.2 1318.3L1819.2 1318.2L1824.2 1318.1L1829.2 1318.1L1834.2 1318L1839.2 1318.1L1844.2 1318.1L1849.2 1318.2L1854.2 1318.3L1859.2 1318.5L1864.2 1318.6L1869.2 1318.8L1874.2 1318.9L1879.2 1319L1884.2 1319.2L1889.2 1319.3L1894.2 1319.4L1899.2 1319.5L1904.2 1319.6L1909.2 1319.6L1914.2 1319.7L1919.2 1319.8L1924.2 1319.8L1929.2 1319.9L1934.2 1319.9L1939.2 1320L1944.2 1320L1949.2 1320.1L1954.2 1320.1L1959.2 1320.1L1964.2 1320.1L1969.2 1320.1L1974.2 1320.2L1979.2 1320.2L1984.2 1320.2L1989.2 1320.2L1994.2 1320.2L1999.2 1320.3L2004.2 1320.3L2009.2 1320.4L2014.2 1320.4L2019.2 1320.5L2024.2 1320.6L2029.2 1320.7L2034.2 1320.8L2039.2 1320.9L2044.2 1321L2049.2 1321.2L2054.2 1321.4L2059.2 1321.5L2064.2 1321.7L2069.2 1322L2074.2 1322.2L2079.2 1322.4L2084.2 1322.7L2089.2 1322.9L2094.2 1323.2L2099.2 1323.5L2104.2 1323.8L2109.2 1324.1L2114.2 1324.4L2119.2 1324.7L2124.2 1325L2129.2 1325.3L2134.2 1325.6L2139.2 1325.9L2144.2 1326.2L2149.2 1326.6L2154.2 1326.9L2159.2 1327.2L2164.2 1327.5L2169.2 1327.8L2174.2 1328.1L2179.2 1328.4L2184.2 1328.8L2189.2 1329.1L2194.2 1329.4L2199.2 1329.8L2204.2 1330.1L2209.2 1330.5L2214.2 1330.8L2219.2 1331.2L2224.2 1331.5L2229.2 1331.9L2234.2 1332.3L2239.2 1332.6L2241 1332.8L2241 1339Z" fill="rgb(0,191,116)" fill-opacity="0.5"/><circle class="p" cx="1295" cy="1346" r="6.95"/><circle class="p" cx="1295" cy="1347.2" r="6.95"/><circle class="p" cx="1295" cy="1348.3" r="6.95"/><circle class="p" cx="1295" cy="1349.5" r="6.95"/><circle class="p" cx="1295" cy="1350.7" r="6.95"/><circle class="p" cx="1295" cy="1351.8" r="6.95"/><circle class="p" cx="1295" cy="1353" r="6.95"/><circle class="p" cx="1295" cy="1354.2" r="6.95"/><circle class="p" cx="1295" cy="1355.3" r="6.95"/><circle class="p" cx="1295" cy="1356.5" r="6.95"/><circle class="p" cx="1295" cy="1357.7" r="6.95"/><circle class="p" cx="1295" cy="1358.8" r="6.95"/><circle class="p" cx="1295" cy="1360" r="6.95"/><circle class="p" cx="1295" cy="1361.2" r="6.95"/><circle class="p" cx="1295" cy="1362.3" r="6.95"/><circle class="p" cx="1295" cy="1363.5" r="6.95"/><circle class="p" cx="1295" cy="1364.7" r="6.95"/><circle class="p" cx="1295" cy="1365.8" r="6.95"/><circle class="p" cx="1295" cy="1367" r="6.95"/><circle class="p" cx="1295" cy="1368.2" r="6.95"/><circle class="p" cx="1295" cy="1369.3" r="6.95"/><circle class="p" cx="1295" cy="1370.5" r="6.95"/><circle class="p" cx="1295" cy="1371.7" r="6.95"/><circle class="p" cx="1295" cy="1372.8" r="6.95"/><circle class="p" cx="1295" cy="1374" r="6.95"/><circle class="p" cx="1295" cy="1375.2" r="6.95"/><circle class="p" cx="1295" cy="1376.3" r="6.95"/><circle class="p" cx="1295" cy="1377.5" r="6.95"/><circle class="p" cx="1295" cy="1378.7" r="6.95"/><circle class="p" cx="1295" cy="1379.8" r="6.95"/><circle class="p" cx="1295" cy="1381" r="6.95"/><circle class="p" cx="1295" cy="1382.2" r="6.95"/><circle class="p" cx="1295" cy="1383.3" r="6.95"/><circle class="p" cx="1295" cy="1384.5" r="6.95"/><circle class="p" cx="1295" cy="1385.7" r="6.95"/><circle class="p" cx="1295" cy="1386.8" r="6.95"/><circle class="p" cx="1295" cy="1388" r="6.95"/><circle class="p" cx="1295" cy="1389.2" r="6.95"/><circle class="p" cx="1295" cy="1390.3" r="6.95"/><circle class="p" cx="1295" cy="1391.5" r="6.95"/><circle class="p" cx="1678" cy="1358.5" r="6.95"/><circle class="p" cx="1663" cy="1381.3" r="6.95"/><circle class="p" cx="1671.1" cy="1379.1" r="6.95"/><circle class="p" cx="1678" cy="1389.5" r="6.95"/><circle class="p" cx="1716.9" cy="1346" r="6.95"/><circle class="p" cx="1717.2" cy="1349.9" r="6.95"/><circle class="p" cx="1716.9" cy="1353.8" r="6.95"/><circle class="p" cx="1713.8" cy="1359.2" r="6.95"/><circle class="p" cx="1727" cy="1355.3" r="6.95"/><circle class="p" cx="1707.5" cy="1373.2" r="6.95"/><circle class="p" cx="1716.9" cy="1371.6" r="6.95"/><circle class="p" cx="1720" cy="1374.8" r="6.95"/><circle class="p" cx="1721.5" cy="1377.1" r="6.95"/><circle class="p" cx="1717.6" cy="1384.8" r="6.95"/><circle class="p" cx="1723.9" cy="1380.2" r="6.95"/><circle class="p" cx="1739.4" cy="1376.3" r="6.95"/><circle class="p" cx="1747.9" cy="1380.2" r="6.95"/><circle class="p" cx="1744.8" cy="1352.7" r="6.95"/><circle class="p" cx="1748.7" cy="1365.4" r="6.95"/><circle class="p" cx="1756.8" cy="1358.5" r="6.95"/><circle class="p" cx="1758" cy="1363.9" r="6.95"/><circle class="p" cx="1761.9" cy="1361.6" r="6.95"/><circle class="p" cx="1768.9" cy="1368.5" r="6.95"/><circle class="p" cx="1769.7" cy="1369.3" r="6.95"/><circle class="p" cx="1758" cy="1388.3" r="6.95"/><circle class="p" cx="1779.3" cy="1348" r="6.95"/><circle class="p" cx="1779" cy="1360" r="6.95"/><circle class="p" cx="1782.1" cy="1362.3" r="6.95"/><circle class="p" cx="1779.8" cy="1374.8" r="6.95"/><circle class="p" cx="1784.1" cy="1389.2" r="6.95"/><circle class="p" cx="1794.5" cy="1346" r="6.95"/><circle class="p" cx="1803.8" cy="1345.3" r="6.95"/><circle class="p" cx="1804.6" cy="1346" r="6.95"/><circle class="p" cx="1805.8" cy="1349.1" r="6.95"/><circle class="p" cx="1813.9" cy="1366.2" r="6.95"/><circle class="p" cx="1810" cy="1375.5" r="6.95"/><circle class="p" cx="1833.3" cy="1363.6" r="6.95"/><circle class="p" cx="1833.8" cy="1364" r="6.95"/><circle class="p" cx="1830.2" cy="1374.4" r="6.95"/><circle class="p" cx="1836.4" cy="1375.5" r="6.95"/><circle class="p" cx="1836.9" cy="1376" r="6.95"/><circle class="p" cx="1834.1" cy="1388" r="6.95"/><circle class="p" cx="1844.2" cy="1387.2" r="6.95"/><circle class="p" cx="1844.7" cy="1387.6" r="6.95"/><circle class="p" cx="1840.8" cy="1350.4" r="6.95"/><circle class="p" cx="1852.7" cy="1351.2" r="6.95"/><circle class="p" cx="1854.3" cy="1359.7" r="6.95"/><circle class="p" cx="1862" cy="1355.3" r="6.95"/><circle class="p" cx="1865.9" cy="1387.2" r="6.95"/><circle class="p" cx="1879.1" cy="1387.2" r="6.95"/><circle class="p" cx="1894.7" cy="1377.5" r="6.95"/><circle class="p" cx="1897" cy="1381.7" r="6.95"/><circle class="p" cx="1899" cy="1366.2" r="6.95"/><circle class="p" cx="1900.9" cy="1348.4" r="6.95"/><circle class="p" cx="1910.2" cy="1349.9" r="6.95"/><circle class="p" cx="1922.9" cy="1351.2" r="6.95"/><circle class="p" cx="1918.7" cy="1366.2" r="6.95"/><circle class="p" cx="1920.7" cy="1372.1" r="6.95"/><circle class="p" cx="1935" cy="1369.3" r="6.95"/><circle class="p" cx="1947.5" cy="1351.2" r="6.95"/><circle class="p" cx="1955.7" cy="1359.5" r="6.95"/><circle class="p" cx="1946.3" cy="1383.5" r="6.95"/><circle class="p" cx="1973.1" cy="1368.6" r="6.95"/><circle class="p" cx="1973.1" cy="1373.6" r="6.95"/><circle class="p" cx="1989.7" cy="1357" r="6.95"/><circle class="p" cx="1979.8" cy="1389.3" r="6.95"/><circle class="p" cx="1995.5" cy="1374.4" r="6.95"/><circle class="p" cx="1991.3" cy="1381.8" r="6.95"/><circle class="p" cx="1996.3" cy="1380.2" r="6.95"/><circle class="p" cx="1997.1" cy="1381" r="6.95"/><circle class="p" cx="2002.1" cy="1390.1" r="6.95"/><circle class="p" cx="2002.6" cy="1390.6" r="6.95"/><circle class="p" cx="2009.6" cy="1370.3" r="6.95"/><circle class="p" cx="2014.9" cy="1354.2" r="6.95"/><circle class="p" cx="2014.5" cy="1372.7" r="6.95"/><circle class="p" cx="2022" cy="1375.2" r="6.95"/><circle class="p" cx="2024.5" cy="1361.1" r="6.95"/><circle class="p" cx="2033.6" cy="1366.9" r="6.95"/><circle class="p" cx="2039.4" cy="1368.3" r="6.95"/><circle class="p" cx="2048" cy="1379.4" r="6.95"/><circle class="p" cx="2040.7" cy="1390.5" r="6.95"/><circle class="p" cx="2045.2" cy="1349.2" r="6.95"/><circle class="p" cx="2053.1" cy="1348.2" r="6.95"/><circle class="p" cx="2060.6" cy="1367.3" r="6.95"/><circle class="p" cx="2067.2" cy="1364.5" r="6.95"/><circle class="p" cx="2068.4" cy="1352" r="6.95"/><circle class="p" cx="2075" cy="1372.7" r="6.95"/><circle class="p" cx="2076.6" cy="1354.5" r="6.95"/><circle class="p" cx="2077.1" cy="1355" r="6.95"/><circle class="p" cx="2080.8" cy="1349.5" r="6.95"/><circle class="p" cx="2081.6" cy="1355.3" r="6.95"/><circle class="p" cx="2089.9" cy="1353.4" r="6.95"/><circle class="p" cx="2087.9" cy="1379.4" r="6.95"/><circle class="p" cx="2118.9" cy="1365.3" r="6.95"/><circle class="p" cx="2125.2" cy="1367.3" r="6.95"/><circle class="p" cx="2133" cy="1380.2" r="6.95"/><circle class="p" cx="2133.8" cy="1353.4" r="6.95"/><circle class="p" cx="2139.6" cy="1349.5" r="6.95"/><circle class="p" cx="2149.5" cy="1355.3" r="6.95"/><circle class="p" cx="2151.2" cy="1346.2" r="6.95"/><circle class="p" cx="2163.9" cy="1363.3" r="6.95"/><circle class="p" cx="2161.9" cy="1384.3" r="6.95"/><circle class="p" cx="2162.8" cy="1383.5" r="6.95"/><circle class="p" cx="2171.1" cy="1379.4" r="6.95"/><circle class="p" cx="2192.9" cy="1352.4" r="6.95"/><circle class="p" cx="2203.9" cy="1380.2" r="6.95"/><circle class="p" cx="2226" cy="1381.3" r="6.95"/><circle class="p" cx="2235.3" cy="1360.3" r="6.95"/><path class="l" d="M1097 1332.6L1101 1332L1105 1331.3L1109 1330.6L1113 1329.8L1117 1329L1121 1328.1L1125 1327.1L1129 1326.1L1133 1325.1L1137 1324L1141 1322.8L1145 1321.5L1149 1320.3L1153 1318.9L1157 1317.5L1161 1316L1165 1314.5L1169 1313L1173 1311.4L1177 1309.7L1181 1308L1185 1306.3L1189 1304.5L1193 1302.8L1197 1301L1201 1299.2L1205 1297.4L1209 1295.6L1213 1293.8L1217 1292L1221 1290.2L1225 1288.5L1229 1286.8L1233 1285.2L1237 1283.6L1241 1282.1L1245 1280.6L1249 1279.2L1253 1278L1257 1276.8L1261 1275.7L1265 1274.7L1269 1273.8L1273 1273.1L1277 1272.4L1281 1271.9L1285 1271.5L1289 1271.2L1293 1271.1L1297 1271.1L1301 1271.2L1305 1271.5L1309 1271.9L1313 1272.4L1317 1273L1321 1273.7L1325 1274.6L1329 1275.6L1333 1276.6L1337 1277.8L1341 1279L1345 1280.4L1349 1281.8L1353 1283.3L1357 1284.8L1361 1286.4L1365 1288.1L1369 1289.8L1373 1291.5L1377 1293.3L1381 1295L1385 1296.8L1389 1298.6L1393 1300.4L1397 1302.2L1401 1303.9L1405 1305.7L1409 1307.4L1413 1309L1417 1310.7L1421 1312.3L1425 1313.9L1429 1315.4L1433 1316.8L1437 1318.2L1441 1319.6L1445 1320.9L1449 1322.2L1453 1323.3L1457 1324.5L1461 1325.6L1465 1326.6L1469 1327.5L1473 1328.5L1477 1329.3L1481 1330.1L1485 1330.9L1489 1331.6L1493 1332.2L1497 1332.8L1501 1333.4L1503.3 1333.7M1609.2 1332.8L1614.2 1332.3L1619.2 1331.9L1624.2 1331.4L1629.2 1331L1634.2 1330.5L1639.2 1330.1L1644.2 1329.6L1649.2 1329.2L1654.2 1328.8L1659.2 1328.3L1664.2 1327.9L1669.2 1327.4L1674.2 1327L1679.2 1326.6L1684.2 1326.1L1689.2 1325.7L1694.2 1325.3L1699.2 1324.9L1704.2 1324.5L1709.2 1324.1L1714.2 1323.7L1719.2 1323.3L1724.2 1323L1729.2 1322.7L1734.2 1322.4L1739.2 1322.1L1744.2 1321.8L1749.2 1321.5L1754.2 1321.2L1759.2 1321L1764.2 1320.7L1769.2 1320.5L1774.2 1320.2L1779.2 1320L1784.2 1319.7L1789.2 1319.5L1794.2 1319.2L1799.2 1319L1804.2 1318.7L1809.2 1318.5L1814.2 1318.3L1819.2 1318.2L1824.2 1318.1L1829.2 1318.1L1834.2 1318L1839.2 1318.1L1844.2 1318.1L1849.2 1318.2L1854.2 1318.3L1859.2 1318.5L1864.2 1318.6L1869.2 1318.8L1874.2 1318.9L1879.2 1319L1884.2 1319.2L1889.2 1319.3L1894.2 1319.4L1899.2 1319.5L1904.2 1319.6L1909.2 1319.6L1914.2 1319.7L1919.2 1319.8L1924.2 1319.8L1929.2 1319.9L1934.2 1319.9L1939.2 1320L1944.2 1320L1949.2 1320.1L1954.2 1320.1L1959.2 1320.1L1964.2 1320.1L1969.2 1320.1L1974.2 1320.2L1979.2 1320.2L1984.2 1320.2L1989.2 1320.2L1994.2 1320.2L1999.2 1320.3L2004.2 1320.3L2009.2 1320.4L2014.2 1320.4L2019.2 1320.5L2024.2 1320.6L2029.2 1320.7L2034.2 1320.8L2039.2 1320.9L2044.2 1321L2049.2 1321.2L2054.2 1321.4L2059.2 1321.5L2064.2 1321.7L2069.2 1322L2074.2 1322.2L2079.2 1322.4L2084.2 1322.7L2089.2 1322.9L2094.2 1323.2L2099.2 1323.5L2104.2 1323.8L2109.2 1324.1L2114.2 1324.4L2119.2 1324.7L2124.2 1325L2129.2 1325.3L2134.2 1325.6L2139.2 1325.9L2144.2 1326.2L2149.2 1326.6L2154.2 1326.9L2159.2 1327.2L2164.2 1327.5L2169.2 1327.8L2174.2 1328.1L2179.2 1328.4L2184.2 1328.8L2189.2 1329.1L2194.2 1329.4L2199.2 1329.8L2204.2 1330.1L2209.2 1330.5L2214.2 1330.8L2219.2 1331.2L2224.2 1331.5L2229.2 1331.9L2234.2 1332.3L2239.2 1332.6L2241 1332.8"/></g>
<g><path d="M1147.5 1456L1147.5 1450.7L1151.5 1450.3L1155.5 1449.9L1159.5 1449.5L1163.5 1449L1167.5 1448.6L1171.5 1448.1L1175.5 1447.6L1179.5 1447.1L1183.5 1446.6L1187.5 1446.1L1191.5 1445.5L1195.5 1445L1199.5 1444.4L1203.5 1443.9L1207.5 1443.3L1211.5 1442.8L1215.5 1442.3L1219.5 1441.7L1223.5 1441.2L1227.5 1440.7L1231.5 1440.2L1235.5 1439.7L1239.5 1439.2L1243.5 1438.8L1247.5 1438.3L1251.5 1437.9L1255.5 1437.6L1259.5 1437.2L1263.5 1436.9L1267.5 1436.6L1271.5 1436.4L1275.5 1436.2L1279.5 1436L1283.5 1435.9L1287.5 1435.8L1291.5 1435.7L1295.5 1435.7L1299.5 1435.7L1303.5 1435.8L1307.5 1435.9L1311.5 1436L1315.5 1436.2L1319.5 1436.4L1323.5 1436.7L1327.5 1437L1331.5 1437.3L1335.5 1437.6L1339.5 1438L1343.5 1438.4L1347.5 1438.8L1351.5 1439.3L1355.5 1439.7L1359.5 1440.2L1363.5 1440.7L1367.5 1441.2L1371.5 1441.8L1375.5 1442.3L1379.5 1442.8L1383.5 1443.4L1387.5 1443.9L1391.5 1444.4L1395.5 1445L1399.5 1445.5L1403.5 1446L1407.5 1446.6L1411.5 1447.1L1415.5 1447.6L1419.5 1448.1L1423.5 1448.5L1427.5 1449L1431.5 1449.4L1435.5 1449.8L1439.5 1450.3L1443.5 1450.7L1444 1450.7L1444 1456ZM1567.3 1456L1567.3 1449.7L1572.3 1449.1L1577.3 1448.4L1582.3 1447.7L1587.3 1447.1L1592.3 1446.4L1597.3 1445.7L1602.3 1445L1607.3 1444.3L1612.3 1443.5L1617.3 1442.8L1622.3 1442L1627.3 1441.2L1632.3 1440.4L1637.3 1439.6L1642.3 1438.8L1647.3 1438L1652.3 1437.1L1657.3 1436.3L1662.3 1435.4L1667.3 1434.6L1672.3 1433.7L1677.3 1432.9L1682.3 1432L1687.3 1431.2L1692.3 1430.4L1697.3 1429.6L1702.3 1428.8L1707.3 1428L1712.3 1427.3L1717.3 1426.5L1722.3 1425.8L1727.3 1425.1L1732.3 1424.4L1737.3 1423.7L1742.3 1423L1747.3 1422.4L1752.3 1421.7L1757.3 1421.1L1762.3 1420.5L1767.3 1419.9L1772.3 1419.3L1777.3 1418.7L1782.3 1418.2L1787.3 1417.7L1792.3 1417.2L1797.3 1416.7L1802.3 1416.2L1807.3 1415.8L1812.3 1415.4L1817.3 1415L1822.3 1414.6L1827.3 1414.3L1832.3 1414L1837.3 1413.7L1842.3 1413.4L1847.3 1413.1L1852.3 1412.8L1857.3 1412.5L1862.3 1412.3L1867.3 1412L1872.3 1411.7L1877.3 1411.5L1882.3 1411.2L1887.3 1411L1892.3 1410.8L1897.3 1410.6L1902.3 1410.4L1907.3 1410.3L1912.3 1410.3L1917.3 1410.3L1922.3 1410.3L1927.3 1410.4L1932.3 1410.5L1937.3 1410.7L1942.3 1410.9L1947.3 1411.1L1952.3 1411.4L1957.3 1411.7L1962.3 1412L1967.3 1412.3L1972.3 1412.6L1977.3 1413L1982.3 1413.4L1987.3 1413.8L1992.3 1414.3L1997.3 1414.7L2002.3 1415.2L2007.3 1415.7L2012.3 1416.2L2017.3 1416.7L2022.3 1417.3L2027.3 1417.8L2032.3 1418.3L2037.3 1418.9L2042.3 1419.5L2047.3 1420L2052.3 1420.6L2057.3 1421.2L2062.3 1421.7L2067.3 1422.3L2072.3 1422.9L2077.3 1423.5L2082.3 1424.1L2087.3 1424.7L2092.3 1425.3L2097.3 1426L2102.3 1426.6L2107.3 1427.3L2112.3 1427.9L2117.3 1428.6L2122.3 1429.3L2127.3 1430L2132.3 1430.7L2137.3 1431.4L2142.3 1432.1L2147.3 1432.8L2152.3 1433.5L2157.3 1434.2L2162.3 1434.9L2167.3 1435.7L2172.3 1436.4L2177.3 1437.1L2182.3 1437.8L2187.3 1438.6L2192.3 1439.3L2197.3 1440L2202.3 1440.7L2207.3 1441.4L2212.3 1442.1L2217.3 1442.8L2222.3 1443.5L2227.3 1444.1L2232.3 1444.8L2237.3 1445.4L2242.3 1446L2247.3 1446.6L2252.3 1447.2L2257.3 1447.8L2262.3 1448.4L2267.3 1449L2272.3 1449.6L2273.7 1449.7L2273.7 1456Z" fill="rgb(0,186,56)" fill-opacity="0.5"/><circle class="p" cx="1295" cy="1462.1" r="6.95"/><circle class="p" cx="1295" cy="1474" r="6.95"/><circle class="p" cx="1295" cy="1475.6" r="6.95"/><circle class="p" cx="1295" cy="1477.1" r="6.95"/><circle class="p" cx="1295" cy="1478.7" r="6.95"/><circle class="p" cx="1295" cy="1480.3" r="6.95"/><circle class="p" cx="1295" cy="1481.8" r="6.95"/><circle class="p" cx="1295" cy="1483.4" r="6.95"/><circle class="p" cx="1295" cy="1485" r="6.95"/><circle class="p" cx="1295" cy="1486.5" r="6.95"/><circle class="p" cx="1295" cy="1488.1" r="6.95"/><circle class="p" cx="1295" cy="1489.7" r="6.95"/><circle class="p" cx="1295" cy="1491.2" r="6.95"/><circle class="p" cx="1295" cy="1492.8" r="6.95"/><circle class="p" cx="1295" cy="1494.4" r="6.95"/><circle class="p" cx="1295" cy="1495.9" r="6.95"/><circle class="p" cx="1295" cy="1497.5" r="6.95"/><circle class="p" cx="1671.1" cy="1471.5" r="6.95"/><circle class="p" cx="1681.1" cy="1484.2" r="6.95"/><circle class="p" cx="1683" cy="1497.1" r="6.95"/><circle class="p" cx="1699" cy="1505.2" r="6.95"/><circle class="p" cx="1704.4" cy="1462.5" r="6.95"/><circle class="p" cx="1715.3" cy="1464" r="6.95"/><circle class="p" cx="1716.1" cy="1476.5" r="6.95"/><circle class="p" cx="1733.2" cy="1470.2" r="6.95"/><circle class="p" cx="1709.1" cy="1491.2" r="6.95"/><circle class="p" cx="1720" cy="1492.8" r="6.95"/><circle class="p" cx="1727" cy="1502.1" r="6.95"/><circle class="p" cx="1727.7" cy="1502.1" r="6.95"/><circle class="p" cx="1742.5" cy="1493.2" r="6.95"/><circle class="p" cx="1749.5" cy="1490.1" r="6.95"/><circle class="p" cx="1758" cy="1490.4" r="6.95"/><circle class="p" cx="1752.1" cy="1508.3" r="6.95"/><circle class="p" cx="1787" cy="1487.3" r="6.95"/><circle class="p" cx="1776.6" cy="1508.3" r="6.95"/><circle class="p" cx="1785.2" cy="1504.1" r="6.95"/><circle class="p" cx="1798.1" cy="1508.3" r="6.95"/><circle class="p" cx="1799.9" cy="1463.3" r="6.95"/><circle class="p" cx="1813.6" cy="1466.4" r="6.95"/><circle class="p" cx="1824" cy="1462.5" r="6.95"/><circle class="p" cx="1810" cy="1481.1" r="6.95"/><circle class="p" cx="1821.7" cy="1487.3" r="6.95"/><circle class="p" cx="1824" cy="1478.8" r="6.95"/><circle class="p" cx="1825.6" cy="1477.2" r="6.95"/><circle class="p" cx="1837.2" cy="1475.2" r="6.95"/><circle class="p" cx="1832.5" cy="1499" r="6.95"/><circle class="p" cx="1835.7" cy="1502.8" r="6.95"/><circle class="p" cx="1852" cy="1501.3" r="6.95"/><circle class="p" cx="1866.2" cy="1497.1" r="6.95"/><circle class="p" cx="1859.7" cy="1478.3" r="6.95"/><circle class="p" cx="1873.4" cy="1477.2" r="6.95"/><circle class="p" cx="1890" cy="1467.1" r="6.95"/><circle class="p" cx="1900.1" cy="1470.2" r="6.95"/><circle class="p" cx="1903.2" cy="1494.3" r="6.95"/><circle class="p" cx="1912.5" cy="1488.1" r="6.95"/><circle class="p" cx="1913.3" cy="1496.6" r="6.95"/><circle class="p" cx="1920.3" cy="1488.1" r="6.95"/><circle class="p" cx="1922.6" cy="1469.5" r="6.95"/><circle class="p" cx="1931.1" cy="1475.7" r="6.95"/><circle class="p" cx="1931.1" cy="1477.2" r="6.95"/><circle class="p" cx="1931.1" cy="1479.6" r="6.95"/><circle class="p" cx="1931.6" cy="1483.4" r="6.95"/><circle class="p" cx="1931.9" cy="1501.3" r="6.95"/><circle class="p" cx="1940.5" cy="1467.1" r="6.95"/><circle class="p" cx="1958.1" cy="1467.2" r="6.95"/><circle class="p" cx="1975.8" cy="1465.1" r="6.95"/><circle class="p" cx="1973.8" cy="1475.8" r="6.95"/><circle class="p" cx="1973" cy="1476.7" r="6.95"/><circle class="p" cx="1969.7" cy="1489.1" r="6.95"/><circle class="p" cx="1970.2" cy="1490.7" r="6.95"/><circle class="p" cx="1970.5" cy="1492.4" r="6.95"/><circle class="p" cx="1968.9" cy="1494" r="6.95"/><circle class="p" cx="1972.2" cy="1499.8" r="6.95"/><circle class="p" cx="1987.1" cy="1487.4" r="6.95"/><circle class="p" cx="1992" cy="1492.4" r="6.95"/><circle class="p" cx="2005.6" cy="1477" r="6.95"/><circle class="p" cx="2011.1" cy="1489.9" r="6.95"/><circle class="p" cx="2021.4" cy="1498.2" r="6.95"/><circle class="p" cx="2010.3" cy="1504.8" r="6.95"/><circle class="p" cx="2001.5" cy="1508.1" r="6.95"/><circle class="p" cx="2028.8" cy="1478.3" r="6.95"/><circle class="p" cx="2045.9" cy="1473.3" r="6.95"/><circle class="p" cx="2063.8" cy="1481.1" r="6.95"/><circle class="p" cx="2070.7" cy="1501.2" r="6.95"/><circle class="p" cx="2096.9" cy="1486.1" r="6.95"/><circle class="p" cx="2092.3" cy="1502.3" r="6.95"/><circle class="p" cx="2096.4" cy="1502.3" r="6.95"/><circle class="p" cx="2102.2" cy="1502.3" r="6.95"/><circle class="p" cx="2108" cy="1504" r="6.95"/><circle class="p" cx="2112.1" cy="1505.6" r="6.95"/><circle class="p" cx="2123.4" cy="1503.2" r="6.95"/><circle class="p" cx="2155.7" cy="1465.1" r="6.95"/><circle class="p" cx="2168" cy="1471.2" r="6.95"/><circle class="p" cx="2149.9" cy="1474.2" r="6.95"/><circle class="p" cx="2155.7" cy="1482.5" r="6.95"/><circle class="p" cx="2195.8" cy="1481.1" r="6.95"/><circle class="p" cx="2209.9" cy="1491.2" r="6.95"/><path class="l" d="M1147.5 1450.7L1151.5 1450.3L1155.5 1449.9L1159.5 1449.5L1163.5 1449L1167.5 1448.6L1171.5 1448.1L1175.5 1447.6L1179.5 1447.1L1183.5 1446.6L1187.5 1446.1L1191.5 1445.5L1195.5 1445L1199.5 1444.4L1203.5 1443.9L1207.5 1443.3L1211.5 1442.8L1215.5 1442.3L1219.5 1441.7L1223.5 1441.2L1227.5 1440.7L1231.5 1440.2L1235.5 1439.7L1239.5 1439.2L1243.5 1438.8L1247.5 1438.3L1251.5 1437.9L1255.5 1437.6L1259.5 1437.2L1263.5 1436.9L1267.5 1436.6L1271.5 1436.4L1275.5 1436.2L1279.5 1436L1283.5 1435.9L1287.5 1435.8L1291.5 1435.7L1295.5 1435.7L1299.5 1435.7L1303.5 1435.8L1307.5 1435.9L1311.5 1436L1315.5 1436.2L1319.5 1436.4L1323.5 1436.7L1327.5 1437L1331.5 1437.3L1335.5 1437.6L1339.5 1438L1343.5 1438.4L1347.5 1438.8L1351.5 1439.3L1355.5 1439.7L1359.5 1440.2L1363.5 1440.7L1367.5 1441.2L1371.5 1441.8L1375.5 1442.3L1379.5 1442.8L1383.5 1443.4L1387.5 1443.9L1391.5 1444.4L1395.5 1445L1399.5 1445.5L1403.5 1446L1407.5 1446.6L1411.5 1447.1L1415.5 1447.6L1419.5 1448.1L1423.5 1448.5L1427.5 1449L1431.5 1449.4L1435.5 1449.8L1439.5 1450.3L1443.5 1450.7L1444 1450.7M1567.3 1449.7L1572.3 1449.1L1577.3 1448.4L1582.3 1447.7L1587.3 1447.1L1592.3 1446.4L1597.3 1445.7L1602.3 1445L1607.3 1444.3L1612.3 1443.5L1617.3 1442.8L1622.3 1442L1627.3 1441.2L1632.3 1440.4L1637.3 1439.6L1642.3 1438.8L1647.3 1438L1652.3 1437.1L1657.3 1436.3L1662.3 1435.4L1667.3 1434.6L1672.3 1433.7L1677.3 1432.9L1682.3 1432L1687.3 1431.2L1692.3 1430.4L1697.3 1429.6L1702.3 1428.8L1707.3 1428L1712.3 1427.3L1717.3 1426.5L1722.3 1425.8L1727.3 1425.1L1732.3 1424.4L1737.3 1423.7L1742.3 1423L1747.3 1422.4L1752.3 1421.7L1757.3 1421.1L1762.3 1420.5L1767.3 1419.9L1772.3 1419.3L1777.3 1418.7L1782.3 1418.2L1787.3 1417.7L1792.3 1417.2L1797.3 1416.7L1802.3 1416.2L1807.3 1415.8L1812.3 1415.4L1817.3 1415L1822.3 1414.6L1827.3 1414.3L1832.3 1414L1837.3 1413.7L1842.3 1413.4L1847.3 1413.1L1852.3 1412.8L1857.3 1412.5L1862.3 1412.3L1867.3 1412L1872.3 1411.7L1877.3 1411.5L1882.3 1411.2L1887.3 1411L1892.3 1410.8L1897.3 1410.6L1902.3 1410.4L1907.3 1410.3L1912.3 1410.3L1917.3 1410.3L1922.3 1410.3L1927.3 1410.4L1932.3 1410.5L1937.3 1410.7L1942.3 1410.9L1947.3 1411.1L1952.3 1411.4L1957.3 1411.7L1962.3 1412L1967.3 1412.3L1972.3 1412.6L1977.3 1413L1982.3 1413.4L1987.3 1413.8L1992.3 1414.3L1997.3 1414.7L2002.3 1415.2L2007.3 1415.7L2012.3 1416.2L2017.3 1416.7L2022.3 1417.3L2027.3 1417.8L2032.3 1418.3L2037.3 1418.9L2042.3 1419.5L2047.3 1420L2052.3 1420.6L2057.3 1421.2L2062.3 1421.7L2067.3 1422.3L2072.3 1422.9L2077.3 1423.5L2082.3 1424.1L2087.3 1424.7L2092.3 1425.3L2097.3 1426L2102.3 1426.6L2107.3 1427.3L2112.3 1427.9L2117.3 1428.6L2122.3 1429.3L2127.3 1430L2132.3 1430.7L2137.3 1431.4L2142.3 1432.1L2147.3 1432.8L2152.3 1433.5L2157.3 1434.2L2162.3 1434.9L2167.3 1435.7L2172.3 1436.4L2177.3 1437.1L2182.3 1437.8L2187.3 1438.6L2192.3 1439.3L2197.3 1440L2202.3 1440.7L2207.3 1441.4L2212.3 1442.1L2217.3 1442.8L2222.3 1443.5L2227.3 1444.1L2232.3 1444.8L2237.3 1445.4L2242.3 1446L2247.3 1446.6L2252.3 1447.2L2257.3 1447.8L2262.3 1448.4L2267.3 1449L2272.3 1449.6L2273.7 1449.7"/></g>
<g><path d="M1097 1573L1097 1564.6L1101 1563.8L1105 1562.9L1109 1561.9L1113 1560.9L1117 1559.8L1121 1558.6L1125 1557.4L1129 1556L1133 1554.6L1137 1553.2L1141 1551.6L1145 1550L1149 1548.3L1153 1546.5L1157 1544.7L1161 1542.7L1165 1540.7L1169 1538.7L1173 1536.6L1177 1534.4L1181 1532.2L1185 1529.9L1189 1527.6L1193 1525.2L1197 1522.9L1201 1520.5L1205 1518.1L1209 1515.7L1213 1513.4L1217 1511L1221 1508.7L1225 1506.4L1229 1504.2L1233 1502L1237 1500L1241 1497.9L1245 1496L1249 1494.2L1253 1492.5L1257 1491L1261 1489.5L1265 1488.2L1269 1487.1L1273 1486.1L1277 1485.2L1281 1484.6L1285 1484L1289 1483.7L1293 1483.5L1297 1483.5L1301 1483.7L1305 1484L1309 1484.5L1313 1485.2L1317 1486.1L1321 1487L1325 1488.2L1329 1489.5L1333 1490.9L1337 1492.5L1341 1494.1L1345 1495.9L1349 1497.8L1353 1499.8L1357 1501.9L1361 1504L1365 1506.2L1369 1508.5L1373 1510.8L1377 1513.1L1381 1515.5L1385 1517.9L1389 1520.2L1393 1522.6L1397 1525L1401 1527.3L1405 1529.6L1409 1531.9L1413 1534.1L1417 1536.3L1421 1538.4L1425 1540.4L1429 1542.4L1433 1544.3L1437 1546.2L1441 1548L1445 1549.7L1449 1551.3L1453 1552.9L1457 1554.4L1461 1555.8L1465 1557.1L1469 1558.4L1473 1559.5L1477 1560.7L1481 1561.7L1485 1562.7L1489 1563.6L1493 1564.4L1497 1565.2L1501 1565.9L1505 1566.6L1509 1567.2L1512.4 1567.7L1512.4 1573ZM1656.6 1573L1656.6 1566.9L1661.6 1566.6L1666.6 1566.4L1671.6 1566.1L1676.6 1565.9L1681.6 1565.7L1686.6 1565.4L1691.6 1565.2L1696.6 1564.9L1701.6 1564.7L1706.6 1564.4L1711.6 1564.2L1716.6 1564L1721.6 1563.7L1726.6 1563.5L1731.6 1563.3L1736.6 1563.1L1741.6 1562.9L1746.6 1562.8L1751.6 1562.7L1756.6 1562.5L1761.6 1562.5L1766.6 1562.4L1771.6 1562.3L1776.6 1562.3L1781.6 1562.3L1786.6 1562.3L1791.6 1562.3L1796.6 1562.3L1801.6 1562.3L1806.6 1562.3L1811.6 1562.3L1816.6 1562.3L1821.6 1562.3L1826.6 1562.3L1831.6 1562.3L1836.6 1562.2L1841.6 1562.2L1846.6 1562.2L1851.6 1562.2L1856.6 1562.2L1861.6 1562.2L1866.6 1562.2L1871.6 1562.3L1876.6 1562.3L1881.6 1562.3L1886.6 1562.4L1891.6 1562.4L1896.6 1562.5L1901.6 1562.6L1906.6 1562.6L1911.6 1562.7L1916.6 1562.8L1921.6 1562.9L1926.6 1563L1931.6 1563L1936.6 1563.1L1941.6 1563.2L1946.6 1563.2L1951.6 1563.3L1956.6 1563.3L1961.6 1563.4L1966.6 1563.4L1971.6 1563.4L1976.6 1563.5L1981.6 1563.5L1986.6 1563.5L1991.6 1563.5L1996.6 1563.5L2001.6 1563.5L2006.6 1563.5L2011.6 1563.5L2016.6 1563.5L2021.6 1563.5L2026.6 1563.5L2031.6 1563.5L2036.6 1563.5L2041.6 1563.5L2046.6 1563.6L2051.6 1563.6L2056.6 1563.7L2061.6 1563.7L2066.6 1563.8L2071.6 1563.9L2076.6 1564.1L2081.6 1564.2L2086.6 1564.4L2091.6 1564.6L2096.6 1564.8L2101.6 1565L2106.6 1565.2L2111.6 1565.4L2116.6 1565.6L2121.6 1565.7L2126.6 1565.9L2131.6 1566.1L2136.6 1566.3L2141.6 1566.4L2146.6 1566.6L2151.6 1566.8L2156.6 1566.9L2161.6 1567.1L2166.6 1567.2L2170.1 1567.3L2170.1 1573Z" fill="rgb(94,179,0)" fill-opacity="0.5"/><circle class="p" cx="1295" cy="1580" r="6.95"/><circle class="p" cx="1295" cy="1581.2" r="6.95"/><circle class="p" cx="1295" cy="1582.3" r="6.95"/><circle class="p" cx="1295" cy="1583.5" r="6.95"/><circle class="p" cx="1295" cy="1584.7" r="6.95"/><circle class="p" cx="1295" cy="1585.8" r="6.95"/><circle class="p" cx="1295" cy="1587" r="6.95"/><circle class="p" cx="1295" cy="1588.2" r="6.95"/><circle class="p" cx="1295" cy="1589.3" r="6.95"/><circle class="p" cx="1295" cy="1590.5" r="6.95"/><circle class="p" cx="1295" cy="1591.7" r="6.95"/><circle class="p" cx="1295" cy="1592.8" r="6.95"/><circle class="p" cx="1295" cy="1594" r="6.95"/><circle class="p" cx="1295" cy="1595.2" r="6.95"/><circle class="p" cx="1295" cy="1596.3" r="6.95"/><circle class="p" cx="1295" cy="1597.5" r="6.95"/><circle class="p" cx="1295" cy="1598.7" r="6.95"/><circle class="p" cx="1295" cy="1599.8" r="6.95"/><circle class="p" cx="1295" cy="1601" r="6.95"/><circle class="p" cx="1295" cy="1602.2" r="6.95"/><circle class="p" cx="1295" cy="1603.3" r="6.95"/><circle class="p" cx="1295" cy="1604.5" r="6.95"/><circle class="p" cx="1295" cy="1605.7" r="6.95"/><circle class="p" cx="1295" cy="1606.8" r="6.95"/><circle class="p" cx="1295" cy="1608" r="6.95"/><circle class="p" cx="1295" cy="1609.2" r="6.95"/><circle class="p" cx="1295" cy="1610.3" r="6.95"/><circle class="p" cx="1295" cy="1611.5" r="6.95"/><circle class="p" cx="1295" cy="1612.7" r="6.95"/><circle class="p" cx="1295" cy="1613.8" r="6.95"/><circle class="p" cx="1295" cy="1615" r="6.95"/><circle class="p" cx="1295" cy="1616.2" r="6.95"/><circle class="p" cx="1295" cy="1617.3" r="6.95"/><circle class="p" cx="1295" cy="1618.5" r="6.95"/><circle class="p" cx="1295" cy="1619.7" r="6.95"/><circle class="p" cx="1295" cy="1620.8" r="6.95"/><circle class="p" cx="1295" cy="1622" r="6.95"/><circle class="p" cx="1295" cy="1623.2" r="6.95"/><circle class="p" cx="1295" cy="1624.3" r="6.95"/><circle class="p" cx="1295" cy="1625.5" r="6.95"/><circle class="p" cx="1659.9" cy="1583.3" r="6.95"/><circle class="p" cx="1721.1" cy="1580.4" r="6.95"/><circle class="p" cx="1725.7" cy="1579.1" r="6.95"/><circle class="p" cx="1754.7" cy="1582.1" r="6.95"/><circle class="p" cx="1737.9" cy="1592.1" r="6.95"/><circle class="p" cx="1745" cy="1597.6" r="6.95"/><circle class="p" cx="1716.5" cy="1611.8" r="6.95"/><circle class="p" cx="1701" cy="1623.2" r="6.95"/><circle class="p" cx="1785.7" cy="1597.6" r="6.95"/><circle class="p" cx="1778.6" cy="1611.8" r="6.95"/><circle class="p" cx="1767.7" cy="1619" r="6.95"/><circle class="p" cx="1829.3" cy="1593.8" r="6.95"/><circle class="p" cx="1830.1" cy="1595.9" r="6.95"/><circle class="p" cx="1844.8" cy="1606" r="6.95"/><circle class="p" cx="1843.1" cy="1618.1" r="6.95"/><circle class="p" cx="1856.1" cy="1621.1" r="6.95"/><circle class="p" cx="1891.8" cy="1586.7" r="6.95"/><circle class="p" cx="1899.7" cy="1604.3" r="6.95"/><circle class="p" cx="1949.6" cy="1600.1" r="6.95"/><circle class="p" cx="1973.5" cy="1581.2" r="6.95"/><circle class="p" cx="2027.6" cy="1580" r="6.95"/><circle class="p" cx="2047.7" cy="1583.7" r="6.95"/><circle class="p" cx="2024.7" cy="1601.8" r="6.95"/><circle class="p" cx="2009.6" cy="1603.9" r="6.95"/><circle class="p" cx="1997.4" cy="1607.6" r="6.95"/><circle class="p" cx="1995.7" cy="1623.2" r="6.95"/><circle class="p" cx="2083.8" cy="1593" r="6.95"/><circle class="p" cx="2075.4" cy="1615.6" r="6.95"/><circle class="p" cx="2074.5" cy="1622.7" r="6.95"/><circle class="p" cx="2139.9" cy="1596.7" r="6.95"/><circle class="p" cx="2132.4" cy="1613.9" r="6.95"/><circle class="p" cx="2150.9" cy="1613.1" r="6.95"/><circle class="p" cx="2192.8" cy="1610.6" r="6.95"/><circle class="p" cx="2238.9" cy="1592.5" r="6.95"/><path class="l" d="M1097 1564.6L1101 1563.8L1105 1562.9L1109 1561.9L1113 1560.9L1117 1559.8L1121 1558.6L1125 1557.4L1129 1556L1133 1554.6L1137 1553.2L1141 1551.6L1145 1550L1149 1548.3L1153 1546.5L1157 1544.7L1161 1542.7L1165 1540.7L1169 1538.7L1173 1536.6L1177 1534.4L1181 1532.2L1185 1529.9L1189 1527.6L1193 1525.2L1197 1522.9L1201 1520.5L1205 1518.1L1209 1515.7L1213 1513.4L1217 1511L1221 1508.7L1225 1506.4L1229 1504.2L1233 1502L1237 1500L1241 1497.9L1245 1496L1249 1494.2L1253 1492.5L1257 1491L1261 1489.5L1265 1488.2L1269 1487.1L1273 1486.1L1277 1485.2L1281 1484.6L1285 1484L1289 1483.7L1293 1483.5L1297 1483.5L1301 1483.7L1305 1484L1309 1484.5L1313 1485.2L1317 1486.1L1321 1487L1325 1488.2L1329 1489.5L1333 1490.9L1337 1492.5L1341 1494.1L1345 1495.9L1349 1497.8L1353 1499.8L1357 1501.9L1361 1504L1365 1506.2L1369 1508.5L1373 1510.8L1377 1513.1L1381 1515.5L1385 1517.9L1389 1520.2L1393 1522.6L1397 1525L1401 1527.3L1405 1529.6L1409 1531.9L1413 1534.1L1417 1536.3L1421 1538.4L1425 1540.4L1429 1542.4L1433 1544.3L1437 1546.2L1441 1548L1445 1549.7L1449 1551.3L1453 1552.9L1457 1554.4L1461 1555.8L1465 1557.1L1469 1558.4L1473 1559.5L1477 1560.7L1481 1561.7L1485 1562.7L1489 1563.6L1493 1564.4L1497 1565.2L1501 1565.9L1505 1566.6L1509 1567.2L1512.4 1567.7M1656.6 1566.9L1661.6 1566.6L1666.6 1566.4L1671.6 1566.1L1676.6 1565.9L1681.6 1565.7L1686.6 1565.4L1691.6 1565.2L1696.6 1564.9L1701.6 1564.7L1706.6 1564.4L1711.6 1564.2L1716.6 1564L1721.6 1563.7L1726.6 1563.5L1731.6 1563.3L1736.6 1563.1L1741.6 1562.9L1746.6 1562.8L1751.6 1562.7L1756.6 1562.5L1761.6 1562.5L1766.6 1562.4L1771.6 1562.3L1776.6 1562.3L1781.6 1562.3L1786.6 1562.3L1791.6 1562.3L1796.6 1562.3L1801.6 1562.3L1806.6 1562.3L1811.6 1562.3L1816.6 1562.3L1821.6 1562.3L1826.6 1562.3L1831.6 1562.3L1836.6 1562.2L1841.6 1562.2L1846.6 1562.2L1851.6 1562.2L1856.6 1562.2L1861.6 1562.2L1866.6 1562.2L1871.6 1562.3L1876.6 1562.3L1881.6 1562.3L1886.6 1562.4L1891.6 1562.4L1896.6 1562.5L1901.6 1562.6L1906.6 1562.6L1911.6 1562.7L1916.6 1562.8L1921.6 1562.9L1926.6 1563L1931.6 1563L1936.6 1563.1L1941.6 1563.2L1946.6 1563.2L1951.6 1563.3L1956.6 1563.3L1961.6 1563.4L1966.6 1563.4L1971.6 1563.4L1976.6 1563.5L1981.6 1563.5L1986.6 1563.5L1991.6 1563.5L1996.6 1563.5L2001.6 1563.5L2006.6 1563.5L2011.6 1563.5L2016.6 1563.5L2021.6 1563.5L2026.6 1563.5L2031.6 1563.5L2036.6 1563.5L2041.6 1563.5L2046.6 1563.6L2051.6 1563.6L2056.6 1563.7L2061.6 1563.7L2066.6 1563.8L2071.6 1563.9L2076.6 1564.1L2081.6 1564.2L2086.6 1564.4L2091.6 1564.6L2096.6 1564.8L2101.6 1565L2106.6 1565.2L2111.6 1565.4L2116.6 1565.6L2121.6 1565.7L2126.6 1565.9L2131.6 1566.1L2136.6 1566.3L2141.6 1566.4L2146.6 1566.6L2151.6 1566.8L2156.6 1566.9L2161.6 1567.1L2166.6 1567.2L2170.1 1567.3"/></g>
<g><path d="M1097 1690L1097 1682.4L1101 1681.7L1105 1680.9L1109 1680L1113 1679.1L1117 1678.1L1121 1677L1125 1675.9L1129 1674.7L1133 1673.4L1137 1672.1L1141 1670.7L1145 1669.2L1149 1667.7L1153 1666.1L1157 1664.4L1161 1662.6L1165 1660.8L1169 1659L1173 1657.1L1177 1655.1L1181 1653.1L1185 1651L1189 1648.9L1193 1646.8L1197 1644.7L1201 1642.5L1205 1640.4L1209 1638.2L1213 1636.1L1217 1634L1221 1631.9L1225 1629.8L1229 1627.8L1233 1625.9L1237 1624L1241 1622.2L1245 1620.4L1249 1618.8L1253 1617.3L1257 1615.9L1261 1614.6L1265 1613.4L1269 1612.3L1273 1611.4L1277 1610.7L1281 1610.1L1285 1609.6L1289 1609.3L1293 1609.1L1297 1609.1L1301 1609.3L1305 1609.5L1309 1609.9L1313 1610.4L1317 1611.1L1321 1611.9L1325 1612.8L1329 1613.8L1333 1614.9L1337 1616.2L1341 1617.5L1345 1618.9L1349 1620.4L1353 1622L1357 1623.7L1361 1625.5L1365 1627.2L1369 1629.1L1373 1631L1377 1632.9L1381 1634.9L1385 1636.8L1389 1638.8L1393 1640.8L1397 1642.8L1401 1644.8L1405 1646.8L1409 1648.8L1413 1650.7L1417 1652.6L1421 1654.5L1425 1656.3L1429 1658.1L1433 1659.9L1437 1661.6L1441 1663.2L1445 1664.8L1449 1666.3L1453 1667.8L1457 1669.2L1461 1670.6L1465 1671.9L1469 1673.2L1473 1674.3L1477 1675.5L1481 1676.5L1485 1677.5L1489 1678.5L1493 1679.4L1497 1680.2L1501 1681L1505 1681.8L1509 1682.5L1513 1683.1L1517 1683.7L1521 1684.3L1524.3 1684.7L1524.3 1690ZM1582.8 1690L1582.8 1684.3L1587.8 1683.9L1592.8 1683.4L1597.8 1683L1602.8 1682.6L1607.8 1682.2L1612.8 1681.8L1617.8 1681.4L1622.8 1681L1627.8 1680.7L1632.8 1680.3L1637.8 1680L1642.8 1679.7L1647.8 1679.4L1652.8 1679.1L1657.8 1678.8L1662.8 1678.6L1667.8 1678.3L1672.8 1678L1677.8 1677.8L1682.8 1677.5L1687.8 1677.3L1692.8 1677L1697.8 1676.8L1702.8 1676.5L1707.8 1676.3L1712.8 1676.1L1717.8 1675.9L1722.8 1675.7L1727.8 1675.5L1732.8 1675.3L1737.8 1675.2L1742.8 1675L1747.8 1674.9L1752.8 1674.8L1757.8 1674.6L1762.8 1674.6L1767.8 1674.5L1772.8 1674.4L1777.8 1674.3L1782.8 1674.3L1787.8 1674.3L1792.8 1674.3L1797.8 1674.3L1802.8 1674.3L1807.8 1674.4L1812.8 1674.4L1817.8 1674.5L1822.8 1674.6L1827.8 1674.7L1832.8 1674.8L1837.8 1675L1842.8 1675.1L1847.8 1675.3L1852.8 1675.5L1857.8 1675.7L1862.8 1675.8L1867.8 1676L1872.8 1676.2L1877.8 1676.4L1882.8 1676.6L1887.8 1676.8L1892.8 1676.9L1897.8 1677.1L1902.8 1677.3L1907.8 1677.5L1912.8 1677.6L1917.8 1677.8L1922.8 1677.9L1927.8 1678.1L1932.8 1678.3L1937.8 1678.4L1942.8 1678.5L1947.8 1678.7L1952.8 1678.8L1957.8 1679L1962.8 1679.1L1967.8 1679.2L1972.8 1679.3L1977.8 1679.5L1982.8 1679.6L1987.8 1679.7L1992.8 1679.9L1997.8 1680L2002.8 1680.1L2007.8 1680.3L2012.8 1680.4L2017.8 1680.6L2022.8 1680.7L2027.8 1680.8L2032.8 1681L2037.8 1681.1L2042.8 1681.3L2047.8 1681.4L2052.8 1681.6L2057.8 1681.7L2062.8 1681.9L2067.8 1682L2072.8 1682.2L2077.8 1682.4L2082.8 1682.5L2087.8 1682.7L2092.8 1682.8L2097.8 1683L2102.8 1683.1L2107.8 1683.3L2112.8 1683.4L2117.8 1683.6L2122.8 1683.7L2127.8 1683.9L2132.8 1684L2137.8 1684.2L2140.4 1684.3L2140.4 1690Z" fill="rgb(147,170,0)" fill-opacity="0.5"/><circle class="p" cx="1295" cy="1697" r="6.95"/><circle class="p" cx="1295" cy="1698.2" r="6.95"/><circle class="p" cx="1295" cy="1699.3" r="6.95"/><circle class="p" cx="1295" cy="1700.5" r="6.95"/><circle class="p" cx="1295" cy="1701.7" r="6.95"/><circle class="p" cx="1295" cy="1702.8" r="6.95"/><circle class="p" cx="1295" cy="1704" r="6.95"/><circle class="p" cx="1295" cy="1705.2" r="6.95"/><circle class="p" cx="1295" cy="1706.3" r="6.95"/><circle class="p" cx="1295" cy="1707.5" r="6.95"/><circle class="p" cx="1295" cy="1708.7" r="6.95"/><circle class="p" cx="1295" cy="1709.8" r="6.95"/><circle class="p" cx="1295" cy="1711" r="6.95"/><circle class="p" cx="1295" cy="1712.2" r="6.95"/><circle class="p" cx="1295" cy="1713.3" r="6.95"/><circle class="p" cx="1295" cy="1714.5" r="6.95"/><circle class="p" cx="1295" cy="1715.7" r="6.95"/><circle class="p" cx="1295" cy="1716.8" r="6.95"/><circle class="p" cx="1295" cy="1718" r="6.95"/><circle class="p" cx="1295" cy="1719.2" r="6.95"/><circle class="p" cx="1295" cy="1720.3" r="6.95"/><circle class="p" cx="1295" cy="1721.5" r="6.95"/><circle class="p" cx="1295" cy="1722.7" r="6.95"/><circle class="p" cx="1295" cy="1723.8" r="6.95"/><circle class="p" cx="1295" cy="1725" r="6.95"/><circle class="p" cx="1295" cy="1726.2" r="6.95"/><circle class="p" cx="1295" cy="1727.3" r="6.95"/><circle class="p" cx="1295" cy="1728.5" r="6.95"/><circle class="p" cx="1295" cy="1729.7" r="6.95"/><circle class="p" cx="1295" cy="1730.8" r="6.95"/><circle class="p" cx="1295" cy="1732" r="6.95"/><circle class="p" cx="1295" cy="1733.2" r="6.95"/><circle class="p" cx="1295" cy="1734.3" r="6.95"/><circle class="p" cx="1295" cy="1735.5" r="6.95"/><circle class="p" cx="1295" cy="1736.7" r="6.95"/><circle class="p" cx="1295" cy="1737.8" r="6.95"/><circle class="p" cx="1295" cy="1739" r="6.95"/><circle class="p" cx="1295" cy="1740.2" r="6.95"/><circle class="p" cx="1295" cy="1741.3" r="6.95"/><circle class="p" cx="1295" cy="1742.5" r="6.95"/><circle class="p" cx="1557.9" cy="1712.9" r="6.95"/><circle class="p" cx="1597.6" cy="1735.5" r="6.95"/><circle class="p" cx="1629.8" cy="1738.3" r="6.95"/><circle class="p" cx="1636.6" cy="1705.2" r="6.95"/><circle class="p" cx="1633.9" cy="1711.5" r="6.95"/><circle class="p" cx="1650.6" cy="1702" r="6.95"/><circle class="p" cx="1651.3" cy="1702.7" r="6.95"/><circle class="p" cx="1663.4" cy="1699.1" r="6.95"/><circle class="p" cx="1657.9" cy="1722.3" r="6.95"/><circle class="p" cx="1658.9" cy="1728" r="6.95"/><circle class="p" cx="1677.8" cy="1721.1" r="6.95"/><circle class="p" cx="1687.1" cy="1717.3" r="6.95"/><circle class="p" cx="1677.8" cy="1733.3" r="6.95"/><circle class="p" cx="1712.8" cy="1706.5" r="6.95"/><circle class="p" cx="1720.5" cy="1720.3" r="6.95"/><circle class="p" cx="1710.6" cy="1738" r="6.95"/><circle class="p" cx="1713.9" cy="1742.1" r="6.95"/><circle class="p" cx="1715.6" cy="1741.3" r="6.95"/><circle class="p" cx="1718.9" cy="1735.5" r="6.95"/><circle class="p" cx="1729.6" cy="1742.1" r="6.95"/><circle class="p" cx="1733" cy="1732.2" r="6.95"/><circle class="p" cx="1736.3" cy="1722.3" r="6.95"/><circle class="p" cx="1737.9" cy="1718.9" r="6.95"/><circle class="p" cx="1739.9" cy="1697.4" r="6.95"/><circle class="p" cx="1739.9" cy="1698.2" r="6.95"/><circle class="p" cx="1739.9" cy="1709.8" r="6.95"/><circle class="p" cx="1754.2" cy="1709" r="6.95"/><circle class="p" cx="1745.4" cy="1733" r="6.95"/><circle class="p" cx="1745.4" cy="1739.6" r="6.95"/><circle class="p" cx="1762.8" cy="1729.7" r="6.95"/><circle class="p" cx="1767.7" cy="1733.8" r="6.95"/><circle class="p" cx="1771.1" cy="1735.5" r="6.95"/><circle class="p" cx="1773.5" cy="1732.2" r="6.95"/><circle class="p" cx="1770.2" cy="1738.8" r="6.95"/><circle class="p" cx="1780.2" cy="1738.8" r="6.95"/><circle class="p" cx="1795.1" cy="1737.2" r="6.95"/><circle class="p" cx="1775.7" cy="1699.1" r="6.95"/><circle class="p" cx="1775.2" cy="1709" r="6.95"/><circle class="p" cx="1786" cy="1704.9" r="6.95"/><circle class="p" cx="1795.9" cy="1697.1" r="6.95"/><circle class="p" cx="1795.9" cy="1709" r="6.95"/><circle class="p" cx="1796.7" cy="1712.3" r="6.95"/><circle class="p" cx="1791.8" cy="1715.6" r="6.95"/><circle class="p" cx="1785.1" cy="1721.4" r="6.95"/><circle class="p" cx="1782.7" cy="1725.2" r="6.95"/><circle class="p" cx="1806.7" cy="1718.1" r="6.95"/><circle class="p" cx="1808.3" cy="1709" r="6.95"/><circle class="p" cx="1815.8" cy="1707.3" r="6.95"/><circle class="p" cx="1816.3" cy="1707.8" r="6.95"/><circle class="p" cx="1819.9" cy="1712.3" r="6.95"/><circle class="p" cx="1836" cy="1708.2" r="6.95"/><circle class="p" cx="1847.7" cy="1717.3" r="6.95"/><circle class="p" cx="1819.1" cy="1737.2" r="6.95"/><circle class="p" cx="1829.9" cy="1732.2" r="6.95"/><circle class="p" cx="1850.6" cy="1738.3" r="6.95"/><circle class="p" cx="1858" cy="1732.2" r="6.95"/><circle class="p" cx="1867.6" cy="1701.9" r="6.95"/><circle class="p" cx="1865.8" cy="1711.5" r="6.95"/><circle class="p" cx="1896.6" cy="1697.5" r="6.95"/><circle class="p" cx="1884.8" cy="1713.3" r="6.95"/><circle class="p" cx="1894.9" cy="1724.4" r="6.95"/><circle class="p" cx="1885.2" cy="1729.1" r="6.95"/><circle class="p" cx="1901" cy="1730.4" r="6.95"/><circle class="p" cx="1882.6" cy="1738.8" r="6.95"/><circle class="p" cx="1894" cy="1738.8" r="6.95"/><circle class="p" cx="1913.4" cy="1714.2" r="6.95"/><circle class="p" cx="1914.2" cy="1715.9" r="6.95"/><circle class="p" cx="1922.2" cy="1718.1" r="6.95"/><circle class="p" cx="1924.8" cy="1733" r="6.95"/><circle class="p" cx="1950.7" cy="1701.5" r="6.95"/><circle class="p" cx="1958.2" cy="1700.1" r="6.95"/><circle class="p" cx="1963.5" cy="1708.9" r="6.95"/><circle class="p" cx="1964.4" cy="1710.7" r="6.95"/><circle class="p" cx="1975.8" cy="1703.3" r="6.95"/><circle class="p" cx="1966.2" cy="1715.9" r="6.95"/><circle class="p" cx="1945.9" cy="1715.9" r="6.95"/><circle class="p" cx="1952.1" cy="1715.1" r="6.95"/><circle class="p" cx="1945" cy="1725.6" r="6.95"/><circle class="p" cx="1955.1" cy="1729.1" r="6.95"/><circle class="p" cx="1989.9" cy="1718.2" r="6.95"/><circle class="p" cx="1978.8" cy="1738.3" r="6.95"/><circle class="p" cx="1989" cy="1736.2" r="6.95"/><circle class="p" cx="2017.7" cy="1734.2" r="6.95"/><circle class="p" cx="2038" cy="1700.1" r="6.95"/><circle class="p" cx="2038.7" cy="1701" r="6.95"/><circle class="p" cx="2050.1" cy="1705.4" r="6.95"/><circle class="p" cx="2054.2" cy="1725.6" r="6.95"/><circle class="p" cx="2055" cy="1724.7" r="6.95"/><circle class="p" cx="2061.2" cy="1722.1" r="6.95"/><circle class="p" cx="2071.8" cy="1725.6" r="6.95"/><circle class="p" cx="2076.2" cy="1724.2" r="6.95"/><circle class="p" cx="2070" cy="1735.3" r="6.95"/><circle class="p" cx="2080.9" cy="1703.3" r="6.95"/><circle class="p" cx="2106.1" cy="1699.4" r="6.95"/><circle class="p" cx="2107.8" cy="1741.5" r="6.95"/><circle class="p" cx="2108.7" cy="1739.7" r="6.95"/><circle class="p" cx="2111.4" cy="1737.1" r="6.95"/><circle class="p" cx="2105.2" cy="1742.3" r="6.95"/><circle class="p" cx="2136.9" cy="1732.3" r="6.95"/><circle class="p" cx="2158" cy="1724.4" r="6.95"/><circle class="p" cx="2170.8" cy="1712.4" r="6.95"/><circle class="p" cx="2164.1" cy="1738.3" r="6.95"/><path class="l" d="M1097 1682.4L1101 1681.7L1105 1680.9L1109 1680L1113 1679.1L1117 1678.1L1121 1677L1125 1675.9L1129 1674.7L1133 1673.4L1137 1672.1L1141 1670.7L1145 1669.2L1149 1667.7L1153 1666.1L1157 1664.4L1161 1662.6L1165 1660.8L1169 1659L1173 1657.1L1177 1655.1L1181 1653.1L1185 1651L1189 1648.9L1193 1646.8L1197 1644.7L1201 1642.5L1205 1640.4L1209 1638.2L1213 1636.1L1217 1634L1221 1631.9L1225 1629.8L1229 1627.8L1233 1625.9L1237 1624L1241 1622.2L1245 1620.4L1249 1618.8L1253 1617.3L1257 1615.9L1261 1614.6L1265 1613.4L1269 1612.3L1273 1611.4L1277 1610.7L1281 1610.1L1285 1609.6L1289 1609.3L1293 1609.1L1297 1609.1L1301 1609.3L1305 1609.5L1309 1609.9L1313 1610.4L1317 1611.1L1321 1611.9L1325 1612.8L1329 1613.8L1333 1614.9L1337 1616.2L1341 1617.5L1345 1618.9L1349 1620.4L1353 1622L1357 1623.7L1361 1625.5L1365 1627.2L1369 1629.1L1373 1631L1377 1632.9L1381 1634.9L1385 1636.8L1389 1638.8L1393 1640.8L1397 1642.8L1401 1644.8L1405 1646.8L1409 1648.8L1413 1650.7L1417 1652.6L1421 1654.5L1425 1656.3L1429 1658.1L1433 1659.9L1437 1661.6L1441 1663.2L1445 1664.8L1449 1666.3L1453 1667.8L1457 1669.2L1461 1670.6L1465 1671.9L1469 1673.2L1473 1674.3L1477 1675.5L1481 1676.5L1485 1677.5L1489 1678.5L1493 1679.4L1497 1680.2L1501 1681L1505 1681.8L1509 1682.5L1513 1683.1L1517 1683.7L1521 1684.3L1524.3 1684.7M1582.8 1684.3L1587.8 1683.9L1592.8 1683.4L1597.8 1683L1602.8 1682.6L1607.8 1682.2L1612.8 1681.8L1617.8 1681.4L1622.8 1681L1627.8 1680.7L1632.8 1680.3L1637.8 1680L1642.8 1679.7L1647.8 1679.4L1652.8 1679.1L1657.8 1678.8L1662.8 1678.6L1667.8 1678.3L1672.8 1678L1677.8 1677.8L1682.8 1677.5L1687.8 1677.3L1692.8 1677L1697.8 1676.8L1702.8 1676.5L1707.8 1676.3L1712.8 1676.1L1717.8 1675.9L1722.8 1675.7L1727.8 1675.5L1732.8 1675.3L1737.8 1675.2L1742.8 1675L1747.8 1674.9L1752.8 1674.8L1757.8 1674.6L1762.8 1674.6L1767.8 1674.5L1772.8 1674.4L1777.8 1674.3L1782.8 1674.3L1787.8 1674.3L1792.8 1674.3L1797.8 1674.3L1802.8 1674.3L1807.8 1674.4L1812.8 1674.4L1817.8 1674.5L1822.8 1674.6L1827.8 1674.7L1832.8 1674.8L1837.8 1675L1842.8 1675.1L1847.8 1675.3L1852.8 1675.5L1857.8 1675.7L1862.8 1675.8L1867.8 1676L1872.8 1676.2L1877.8 1676.4L1882.8 1676.6L1887.8 1676.8L1892.8 1676.9L1897.8 1677.1L1902.8 1677.3L1907.8 1677.5L1912.8 1677.6L1917.8 1677.8L1922.8 1677.9L1927.8 1678.1L1932.8 1678.3L1937.8 1678.4L1942.8 1678.5L1947.8 1678.7L1952.8 1678.8L1957.8 1679L1962.8 1679.1L1967.8 1679.2L1972.8 1679.3L1977.8 1679.5L1982.8 1679.6L1987.8 1679.7L1992.8 1679.9L1997.8 1680L2002.8 1680.1L2007.8 1680.3L2012.8 1680.4L2017.8 1680.6L2022.8 1680.7L2027.8 1680.8L2032.8 1681L2037.8 1681.1L2042.8 1681.3L2047.8 1681.4L2052.8 1681.6L2057.8 1681.7L2062.8 1681.9L2067.8 1682L2072.8 1682.2L2077.8 1682.4L2082.8 1682.5L2087.8 1682.7L2092.8 1682.8L2097.8 1683L2102.8 1683.1L2107.8 1683.3L2112.8 1683.4L2117.8 1683.6L2122.8 1683.7L2127.8 1683.9L2132.8 1684L2137.8 1684.2L2140.4 1684.3"/></g>
<g><path d="M1097 1807L1097 1799.3L1101 1798.6L1105 1797.8L1109 1796.9L1113 1795.9L1117 1794.9L1121 1793.9L1125 1792.7L1129 1791.5L1133 1790.2L1137 1788.9L1141 1787.5L1145 1786L1149 1784.4L1153 1782.8L1157 1781.1L1161 1779.4L1165 1777.6L1169 1775.7L1173 1773.7L1177 1771.8L1181 1769.7L1185 1767.7L1189 1765.5L1193 1763.4L1197 1761.3L1201 1759.1L1205 1756.9L1209 1754.7L1213 1752.6L1217 1750.4L1221 1748.3L1225 1746.2L1229 1744.2L1233 1742.2L1237 1740.3L1241 1738.5L1245 1736.7L1249 1735.1L1253 1733.6L1257 1732.1L1261 1730.8L1265 1729.6L1269 1728.6L1273 1727.7L1277 1726.9L1281 1726.3L1285 1725.8L1289 1725.5L1293 1725.3L1297 1725.3L1301 1725.5L1305 1725.8L1309 1726.3L1313 1726.9L1317 1727.7L1321 1728.6L1325 1729.7L1329 1730.9L1333 1732.2L1337 1733.7L1341 1735.3L1345 1736.9L1349 1738.7L1353 1740.6L1357 1742.5L1361 1744.5L1365 1746.6L1369 1748.7L1373 1750.8L1377 1753L1381 1755.2L1385 1757.4L1389 1759.6L1393 1761.7L1397 1763.9L1401 1766.1L1405 1768.2L1409 1770.3L1413 1772.3L1417 1774.3L1421 1776.2L1425 1778.1L1429 1779.9L1433 1781.7L1437 1783.4L1441 1785L1445 1786.5L1449 1788L1453 1789.4L1457 1790.7L1461 1792L1465 1793.2L1469 1794.3L1473 1795.4L1477 1796.3L1481 1797.3L1485 1798.1L1489 1798.9L1493 1799.7L1497 1800.4L1501 1801L1505 1801.6L1505.9 1801.7L1505.9 1807ZM1680.4 1807L1680.4 1801L1685.4 1800.6L1690.4 1800.1L1695.4 1799.6L1700.4 1799.2L1705.4 1798.7L1710.4 1798.2L1715.4 1797.7L1720.4 1797.2L1725.4 1796.7L1730.4 1796.2L1735.4 1795.7L1740.4 1795.2L1745.4 1794.7L1750.4 1794.2L1755.4 1793.7L1760.4 1793.2L1765.4 1792.7L1770.4 1792.2L1775.4 1791.8L1780.4 1791.4L1785.4 1791L1790.4 1790.6L1795.4 1790.2L1800.4 1789.9L1805.4 1789.6L1810.4 1789.4L1815.4 1789.2L1820.4 1789L1825.4 1788.8L1830.4 1788.7L1835.4 1788.6L1840.4 1788.5L1845.4 1788.5L1850.4 1788.4L1855.4 1788.5L1860.4 1788.5L1865.4 1788.5L1870.4 1788.6L1875.4 1788.8L1880.4 1788.9L1885.4 1789.2L1890.4 1789.4L1895.4 1789.7L1900.4 1790.1L1905.4 1790.5L1910.4 1790.9L1915.4 1791.3L1920.4 1791.7L1925.4 1792.2L1930.4 1792.7L1935.4 1793.1L1940.4 1793.6L1945.4 1794L1950.4 1794.5L1955.4 1794.9L1960.4 1795.4L1965.4 1795.8L1970.4 1796.2L1975.4 1796.7L1980.4 1797.1L1985.4 1797.5L1990.4 1797.8L1995.4 1798.2L2000.4 1798.5L2005.4 1798.7L2010.4 1799L2015.4 1799.1L2020.4 1799.3L2025.4 1799.3L2030.4 1799.4L2035.4 1799.4L2040.4 1799.3L2045.4 1799.2L2050.4 1799.1L2055.4 1799L2060.4 1798.8L2065.4 1798.6L2070.4 1798.4L2075.4 1798.2L2080.4 1798L2085.4 1797.8L2090.4 1797.6L2095.4 1797.5L2100.4 1797.3L2105.4 1797.1L2110.4 1797L2115.4 1796.9L2120.4 1796.8L2125.4 1796.7L2130.4 1796.7L2135.4 1796.7L2140.4 1796.7L2145.4 1796.8L2150.4 1796.8L2155.4 1796.9L2160.4 1797L2165.4 1797.2L2170.4 1797.3L2175.4 1797.5L2180.4 1797.6L2185.4 1797.8L2190.4 1798L2195.4 1798.2L2200.4 1798.5L2205.4 1798.7L2210.4 1798.9L2215.4 1799.2L2220.4 1799.4L2225.4 1799.6L2230.4 1799.9L2235.4 1800.1L2240.4 1800.4L2245.4 1800.7L2250.4 1800.9L2252.7 1801L2252.7 1807Z" fill="rgb(183,159,0)" fill-opacity="0.5"/><circle class="p" cx="1295" cy="1816" r="6.95"/><circle class="p" cx="1295" cy="1817.4" r="6.95"/><circle class="p" cx="1295" cy="1818.9" r="6.95"/><circle class="p" cx="1295" cy="1820.3" r="6.95"/><circle class="p" cx="1295" cy="1821.7" r="6.95"/><circle class="p" cx="1295" cy="1823.1" r="6.95"/><circle class="p" cx="1295" cy="1824.6" r="6.95"/><circle class="p" cx="1295" cy="1826" r="6.95"/><circle class="p" cx="1295" cy="1827.4" r="6.95"/><circle class="p" cx="1295" cy="1828.9" r="6.95"/><circle class="p" cx="1295" cy="1830.3" r="6.95"/><circle class="p" cx="1295" cy="1831.7" r="6.95"/><circle class="p" cx="1295" cy="1833.1" r="6.95"/><circle class="p" cx="1295" cy="1834.6" r="6.95"/><circle class="p" cx="1295" cy="1836" r="6.95"/><circle class="p" cx="1295" cy="1837.4" r="6.95"/><circle class="p" cx="1295" cy="1838.9" r="6.95"/><circle class="p" cx="1295" cy="1840.3" r="6.95"/><circle class="p" cx="1295" cy="1841.7" r="6.95"/><circle class="p" cx="1295" cy="1843.1" r="6.95"/><circle class="p" cx="1295" cy="1844.6" r="6.95"/><circle class="p" cx="1295" cy="1846" r="6.95"/><circle class="p" cx="1295" cy="1855.8" r="6.95"/><circle class="p" cx="1295" cy="1856.2" r="6.95"/><circle class="p" cx="1295" cy="1856.6" r="6.95"/><circle class="p" cx="1295" cy="1857" r="6.95"/><circle class="p" cx="1754.7" cy="1836.3" r="6.95"/><circle class="p" cx="1786.5" cy="1857.3" r="6.95"/><circle class="p" cx="1880" cy="1821.2" r="6.95"/><circle class="p" cx="1878.8" cy="1834.6" r="6.95"/><circle class="p" cx="1871.2" cy="1855.6" r="6.95"/><circle class="p" cx="1874.6" cy="1853.1" r="6.95"/><circle class="p" cx="2110.6" cy="1838.8" r="6.95"/><circle class="p" cx="2134.9" cy="1825.8" r="6.95"/><circle class="p" cx="2207.9" cy="1853.1" r="6.95"/><path class="l" d="M1097 1799.3L1101 1798.6L1105 1797.8L1109 1796.9L1113 1795.9L1117 1794.9L1121 1793.9L1125 1792.7L1129 1791.5L1133 1790.2L1137 1788.9L1141 1787.5L1145 1786L1149 1784.4L1153 1782.8L1157 1781.1L1161 1779.4L1165 1777.6L1169 1775.7L1173 1773.7L1177 1771.8L1181 1769.7L1185 1767.7L1189 1765.5L1193 1763.4L1197 1761.3L1201 1759.1L1205 1756.9L1209 1754.7L1213 1752.6L1217 1750.4L1221 1748.3L1225 1746.2L1229 1744.2L1233 1742.2L1237 1740.3L1241 1738.5L1245 1736.7L1249 1735.1L1253 1733.6L1257 1732.1L1261 1730.8L1265 1729.6L1269 1728.6L1273 1727.7L1277 1726.9L1281 1726.3L1285 1725.8L1289 1725.5L1293 1725.3L1297 1725.3L1301 1725.5L1305 1725.8L1309 1726.3L1313 1726.9L1317 1727.7L1321 1728.6L1325 1729.7L1329 1730.9L1333 1732.2L1337 1733.7L1341 1735.3L1345 1736.9L1349 1738.7L1353 1740.6L1357 1742.5L1361 1744.5L1365 1746.6L1369 1748.7L1373 1750.8L1377 1753L1381 1755.2L1385 1757.4L1389 1759.6L1393 1761.7L1397 1763.9L1401 1766.1L1405 1768.2L1409 1770.3L1413 1772.3L1417 1774.3L1421 1776.2L1425 1778.1L1429 1779.9L1433 1781.7L1437 1783.4L1441 1785L1445 1786.5L1449 1788L1453 1789.4L1457 1790.7L1461 1792L1465 1793.2L1469 1794.3L1473 1795.4L1477 1796.3L1481 1797.3L1485 1798.1L1489 1798.9L1493 1799.7L1497 1800.4L1501 1801L1505 1801.6L1505.9 1801.7M1680.4 1801L1685.4 1800.6L1690.4 1800.1L1695.4 1799.6L1700.4 1799.2L1705.4 1798.7L1710.4 1798.2L1715.4 1797.7L1720.4 1797.2L1725.4 1796.7L1730.4 1796.2L1735.4 1795.7L1740.4 1795.2L1745.4 1794.7L1750.4 1794.2L1755.4 1793.7L1760.4 1793.2L1765.4 1792.7L1770.4 1792.2L1775.4 1791.8L1780.4 1791.4L1785.4 1791L1790.4 1790.6L1795.4 1790.2L1800.4 1789.9L1805.4 1789.6L1810.4 1789.4L1815.4 1789.2L1820.4 1789L1825.4 1788.8L1830.4 1788.7L1835.4 1788.6L1840.4 1788.5L1845.4 1788.5L1850.4 1788.4L1855.4 1788.5L1860.4 1788.5L1865.4 1788.5L1870.4 1788.6L1875.4 1788.8L1880.4 1788.9L1885.4 1789.2L1890.4 1789.4L1895.4 1789.7L1900.4 1790.1L1905.4 1790.5L1910.4 1790.9L1915.4 1791.3L1920.4 1791.7L1925.4 1792.2L1930.4 1792.7L1935.4 1793.1L1940.4 1793.6L1945.4 1794L1950.4 1794.5L1955.4 1794.9L1960.4 1795.4L1965.4 1795.8L1970.4 1796.2L1975.4 1796.7L1980.4 1797.1L1985.4 1797.5L1990.4 1797.8L1995.4 1798.2L2000.4 1798.5L2005.4 1798.7L2010.4 1799L2015.4 1799.1L2020.4 1799.3L2025.4 1799.3L2030.4 1799.4L2035.4 1799.4L2040.4 1799.3L2045.4 1799.2L2050.4 1799.1L2055.4 1799L2060.4 1798.8L2065.4 1798.6L2070.4 1798.4L2075.4 1798.2L2080.4 1798L2085.4 1797.8L2090.4 1797.6L2095.4 1797.5L2100.4 1797.3L2105.4 1797.1L2110.4 1797L2115.4 1796.9L2120.4 1796.8L2125.4 1796.7L2130.4 1796.7L2135.4 1796.7L2140.4 1796.7L2145.4 1796.8L2150.4 1796.8L2155.4 1796.9L2160.4 1797L2165.4 1797.2L2170.4 1797.3L2175.4 1797.5L2180.4 1797.6L2185.4 1797.8L2190.4 1798L2195.4 1798.2L2200.4 1798.5L2205.4 1798.7L2210.4 1798.9L2215.4 1799.2L2220.4 1799.4L2225.4 1799.6L2230.4 1799.9L2235.4 1800.1L2240.4 1800.4L2245.4 1800.7L2250.4 1800.9L2252.7 1801"/></g>
<g><path d="M1144.3 1924L1144.3 1918.7L1148.3 1918.3L1152.3 1917.8L1156.3 1917.4L1160.3 1916.9L1164.3 1916.4L1168.3 1915.9L1172.3 1915.3L1176.3 1914.7L1180.3 1914.2L1184.3 1913.6L1188.3 1913L1192.3 1912.4L1196.3 1911.7L1200.3 1911.1L1204.3 1910.5L1208.3 1909.9L1212.3 1909.2L1216.3 1908.6L1220.3 1908L1224.3 1907.3L1228.3 1906.7L1232.3 1906.2L1236.3 1905.6L1240.3 1905L1244.3 1904.5L1248.3 1904L1252.3 1903.6L1256.3 1903.1L1260.3 1902.7L1264.3 1902.4L1268.3 1902L1272.3 1901.8L1276.3 1901.5L1280.3 1901.3L1284.3 1901.2L1288.3 1901.1L1292.3 1901L1296.3 1901L1300.3 1901L1304.3 1901.1L1308.3 1901.3L1312.3 1901.4L1316.3 1901.6L1320.3 1901.9L1324.3 1902.2L1328.3 1902.6L1332.3 1902.9L1336.3 1903.3L1340.3 1903.8L1344.3 1904.3L1348.3 1904.8L1352.3 1905.3L1356.3 1905.8L1360.3 1906.4L1364.3 1907L1368.3 1907.6L1372.3 1908.2L1376.3 1908.8L1380.3 1909.5L1384.3 1910.1L1388.3 1910.7L1392.3 1911.3L1396.3 1911.9L1400.3 1912.6L1404.3 1913.2L1408.3 1913.7L1412.3 1914.3L1416.3 1914.9L1420.3 1915.4L1424.3 1916L1428.3 1916.5L1432.3 1917L1436.3 1917.5L1440.3 1917.9L1444.3 1918.3L1447.7 1918.7L1447.7 1924ZM1579.8 1924L1579.8 1918L1584.8 1917.4L1589.8 1916.8L1594.8 1916.2L1599.8 1915.6L1604.8 1915L1609.8 1914.4L1614.8 1913.8L1619.8 1913.1L1624.8 1912.4L1629.8 1911.7L1634.8 1911L1639.8 1910.2L1644.8 1909.4L1649.8 1908.6L1654.8 1907.8L1659.8 1907L1664.8 1906.2L1669.8 1905.3L1674.8 1904.5L1679.8 1903.6L1684.8 1902.8L1689.8 1902L1694.8 1901.1L1699.8 1900.3L1704.8 1899.5L1709.8 1898.7L1714.8 1897.8L1719.8 1897L1724.8 1896.2L1729.8 1895.4L1734.8 1894.7L1739.8 1893.9L1744.8 1893.1L1749.8 1892.4L1754.8 1891.7L1759.8 1890.9L1764.8 1890.2L1769.8 1889.5L1774.8 1888.8L1779.8 1888.2L1784.8 1887.5L1789.8 1886.8L1794.8 1886.2L1799.8 1885.6L1804.8 1885L1809.8 1884.4L1814.8 1883.8L1819.8 1883.2L1824.8 1882.6L1829.8 1882.1L1834.8 1881.5L1839.8 1881L1844.8 1880.5L1849.8 1880.1L1854.8 1879.6L1859.8 1879.2L1864.8 1878.8L1869.8 1878.4L1874.8 1878L1879.8 1877.7L1884.8 1877.4L1889.8 1877.1L1894.8 1876.9L1899.8 1876.7L1904.8 1876.6L1909.8 1876.5L1914.8 1876.4L1919.8 1876.4L1924.8 1876.5L1929.8 1876.6L1934.8 1876.7L1939.8 1876.8L1944.8 1877L1949.8 1877.2L1954.8 1877.4L1959.8 1877.6L1964.8 1877.9L1969.8 1878.2L1974.8 1878.6L1979.8 1879L1984.8 1879.4L1989.8 1880L1994.8 1880.5L1999.8 1881.1L2004.8 1881.7L2009.8 1882.4L2014.8 1883L2019.8 1883.7L2024.8 1884.4L2029.8 1885.1L2034.8 1885.8L2039.8 1886.5L2044.8 1887.1L2049.8 1887.8L2054.8 1888.5L2059.8 1889.2L2064.8 1889.9L2069.8 1890.7L2074.8 1891.4L2079.8 1892.1L2084.8 1892.8L2089.8 1893.5L2094.8 1894.3L2099.8 1895L2104.8 1895.8L2109.8 1896.5L2114.8 1897.3L2119.8 1898.1L2124.8 1898.8L2129.8 1899.6L2134.8 1900.4L2139.8 1901.2L2144.8 1902L2149.8 1902.8L2154.8 1903.6L2159.8 1904.4L2164.8 1905.2L2169.8 1906L2174.8 1906.8L2179.8 1907.6L2184.8 1908.3L2189.8 1909.1L2194.8 1909.8L2199.8 1910.5L2204.8 1911.2L2209.8 1911.8L2214.8 1912.5L2219.8 1913.1L2224.8 1913.7L2229.8 1914.2L2234.8 1914.8L2239.8 1915.3L2244.8 1915.9L2249.8 1916.4L2254.8 1916.9L2259.8 1917.4L2264.8 1917.9L2265.3 1918L2265.3 1924Z" fill="rgb(211,146,0)" fill-opacity="0.5"/><circle class="p" cx="1295" cy="1931" r="6.95"/><circle class="p" cx="1295" cy="1932.2" r="6.95"/><circle class="p" cx="1295" cy="1933.3" r="6.95"/><circle class="p" cx="1295" cy="1934.5" r="6.95"/><circle class="p" cx="1295" cy="1935.7" r="6.95"/><circle class="p" cx="1295" cy="1936.8" r="6.95"/><circle class="p" cx="1295" cy="1938" r="6.95"/><circle class="p" cx="1295" cy="1939.2" r="6.95"/><circle class="p" cx="1295" cy="1940.3" r="6.95"/><circle class="p" cx="1295" cy="1941.5" r="6.95"/><circle class="p" cx="1295" cy="1942.7" r="6.95"/><circle class="p" cx="1295" cy="1943.8" r="6.95"/><circle class="p" cx="1295" cy="1945" r="6.95"/><circle class="p" cx="1295" cy="1946.2" r="6.95"/><circle class="p" cx="1295" cy="1947.3" r="6.95"/><circle class="p" cx="1295" cy="1948.5" r="6.95"/><circle class="p" cx="1295" cy="1949.7" r="6.95"/><circle class="p" cx="1295" cy="1950.8" r="6.95"/><circle class="p" cx="1295" cy="1952" r="6.95"/><circle class="p" cx="1295" cy="1953.2" r="6.95"/><circle class="p" cx="1295" cy="1954.3" r="6.95"/><circle class="p" cx="1295" cy="1955.5" r="6.95"/><circle class="p" cx="1295" cy="1956.7" r="6.95"/><circle class="p" cx="1295" cy="1957.8" r="6.95"/><circle class="p" cx="1295" cy="1959" r="6.95"/><circle class="p" cx="1295" cy="1960.2" r="6.95"/><circle class="p" cx="1295" cy="1961.3" r="6.95"/><circle class="p" cx="1295" cy="1962.5" r="6.95"/><circle class="p" cx="1295" cy="1963.7" r="6.95"/><circle class="p" cx="1295" cy="1964.8" r="6.95"/><circle class="p" cx="1295" cy="1966" r="6.95"/><circle class="p" cx="1295" cy="1967.2" r="6.95"/><circle class="p" cx="1295" cy="1968.3" r="6.95"/><circle class="p" cx="1295" cy="1969.5" r="6.95"/><circle class="p" cx="1295" cy="1970.7" r="6.95"/><circle class="p" cx="1295" cy="1971.8" r="6.95"/><circle class="p" cx="1295" cy="1973" r="6.95"/><circle class="p" cx="1295" cy="1974.2" r="6.95"/><circle class="p" cx="1295" cy="1975.3" r="6.95"/><circle class="p" cx="1295" cy="1976.5" r="6.95"/><circle class="p" cx="1671" cy="1968.2" r="6.95"/><circle class="p" cx="1680.7" cy="1956.1" r="6.95"/><circle class="p" cx="1682.6" cy="1935.4" r="6.95"/><circle class="p" cx="1698.9" cy="1935.4" r="6.95"/><circle class="p" cx="1708.7" cy="1930.2" r="6.95"/><circle class="p" cx="1715.2" cy="1935.1" r="6.95"/><circle class="p" cx="1725.3" cy="1932.8" r="6.95"/><circle class="p" cx="1733.1" cy="1936.4" r="6.95"/><circle class="p" cx="1704.3" cy="1949.6" r="6.95"/><circle class="p" cx="1715.2" cy="1949.9" r="6.95"/><circle class="p" cx="1719.1" cy="1948.3" r="6.95"/><circle class="p" cx="1729.2" cy="1950.7" r="6.95"/><circle class="p" cx="1743.2" cy="1959.2" r="6.95"/><circle class="p" cx="1750.2" cy="1956.1" r="6.95"/><circle class="p" cx="1751.7" cy="1956.9" r="6.95"/><circle class="p" cx="1757.9" cy="1932.3" r="6.95"/><circle class="p" cx="1775.8" cy="1935.9" r="6.95"/><circle class="p" cx="1776.6" cy="1937.5" r="6.95"/><circle class="p" cx="1786.6" cy="1941.3" r="6.95"/><circle class="p" cx="1784.8" cy="1953.5" r="6.95"/><circle class="p" cx="1800.3" cy="1942.1" r="6.95"/><circle class="p" cx="1806.1" cy="1953.8" r="6.95"/><circle class="p" cx="1809.2" cy="1952.5" r="6.95"/><circle class="p" cx="1812.3" cy="1962.3" r="6.95"/><circle class="p" cx="1797.8" cy="1974.3" r="6.95"/><circle class="p" cx="1822.4" cy="1971.6" r="6.95"/><circle class="p" cx="1836.3" cy="1973.2" r="6.95"/><circle class="p" cx="1834.8" cy="1963.1" r="6.95"/><circle class="p" cx="1835.6" cy="1962.3" r="6.95"/><circle class="p" cx="1836.3" cy="1955.3" r="6.95"/><circle class="p" cx="1824.7" cy="1952.2" r="6.95"/><circle class="p" cx="1822.4" cy="1944.5" r="6.95"/><circle class="p" cx="1826.2" cy="1945.2" r="6.95"/><circle class="p" cx="1827" cy="1946" r="6.95"/><circle class="p" cx="1830.9" cy="1946" r="6.95"/><circle class="p" cx="1851.1" cy="1935.1" r="6.95"/><circle class="p" cx="1859.9" cy="1936.4" r="6.95"/><circle class="p" cx="1877.8" cy="1949.4" r="6.95"/><circle class="p" cx="1865.1" cy="1970.1" r="6.95"/><circle class="p" cx="1866.6" cy="1970.8" r="6.95"/><circle class="p" cx="1872.8" cy="1971.9" r="6.95"/><circle class="p" cx="1889.9" cy="1963.1" r="6.95"/><circle class="p" cx="1900" cy="1951.9" r="6.95"/><circle class="p" cx="1903.1" cy="1944.5" r="6.95"/><circle class="p" cx="1907.8" cy="1946" r="6.95"/><circle class="p" cx="1902.3" cy="1975.2" r="6.95"/><circle class="p" cx="1912.4" cy="1963.1" r="6.95"/><circle class="p" cx="1912.4" cy="1970.1" r="6.95"/><circle class="p" cx="1917.1" cy="1944.5" r="6.95"/><circle class="p" cx="1919.4" cy="1947.6" r="6.95"/><circle class="p" cx="1923.3" cy="1974" r="6.95"/><circle class="p" cx="1931.1" cy="1960" r="6.95"/><circle class="p" cx="1931.1" cy="1961.5" r="6.95"/><circle class="p" cx="1931.1" cy="1963.1" r="6.95"/><circle class="p" cx="1931.8" cy="1966.2" r="6.95"/><circle class="p" cx="1931.8" cy="1970.1" r="6.95"/><circle class="p" cx="1931.8" cy="1931.3" r="6.95"/><circle class="p" cx="1931.1" cy="1939" r="6.95"/><circle class="p" cx="1942.7" cy="1946" r="6.95"/><circle class="p" cx="1968.9" cy="1932.2" r="6.95"/><circle class="p" cx="1976" cy="1937.2" r="6.95"/><circle class="p" cx="1957.3" cy="1964.5" r="6.95"/><circle class="p" cx="1968.1" cy="1953.8" r="6.95"/><circle class="p" cx="1970.6" cy="1955.4" r="6.95"/><circle class="p" cx="1971.4" cy="1956.3" r="6.95"/><circle class="p" cx="1983" cy="1965.4" r="6.95"/><circle class="p" cx="1970.6" cy="1972.8" r="6.95"/><circle class="p" cx="1970.6" cy="1976.1" r="6.95"/><circle class="p" cx="1987.1" cy="1951.3" r="6.95"/><circle class="p" cx="1990.5" cy="1949.6" r="6.95"/><circle class="p" cx="2001.2" cy="1965.4" r="6.95"/><circle class="p" cx="2005.4" cy="1969.5" r="6.95"/><circle class="p" cx="2005.4" cy="1949.6" r="6.95"/><circle class="p" cx="2008.7" cy="1947.1" r="6.95"/><circle class="p" cx="2010.8" cy="1933.9" r="6.95"/><circle class="p" cx="2017" cy="1942.2" r="6.95"/><circle class="p" cx="2021.1" cy="1971.2" r="6.95"/><circle class="p" cx="2028.9" cy="1969.2" r="6.95"/><circle class="p" cx="2045.9" cy="1973.1" r="6.95"/><circle class="p" cx="2064.2" cy="1969.2" r="6.95"/><circle class="p" cx="2070.8" cy="1974.1" r="6.95"/><circle class="p" cx="2063.8" cy="1942.2" r="6.95"/><circle class="p" cx="2069.1" cy="1946.3" r="6.95"/><circle class="p" cx="2070" cy="1947.1" r="6.95"/><circle class="p" cx="2074.1" cy="1943.5" r="6.95"/><circle class="p" cx="2086" cy="1937.2" r="6.95"/><circle class="p" cx="2092.3" cy="1958.7" r="6.95"/><circle class="p" cx="2096.5" cy="1956.3" r="6.95"/><circle class="p" cx="2097" cy="1957.1" r="6.95"/><circle class="p" cx="2097.3" cy="1957.9" r="6.95"/><circle class="p" cx="2101.4" cy="1958.7" r="6.95"/><circle class="p" cx="2105.9" cy="1972.5" r="6.95"/><circle class="p" cx="2112.2" cy="1967" r="6.95"/><circle class="p" cx="2123" cy="1973.1" r="6.95"/><circle class="p" cx="2150.3" cy="1957.9" r="6.95"/><circle class="p" cx="2156.1" cy="1958.2" r="6.95"/><circle class="p" cx="2156.1" cy="1970.3" r="6.95"/><circle class="p" cx="2168" cy="1938.4" r="6.95"/><circle class="p" cx="2195.8" cy="1972.3" r="6.95"/><circle class="p" cx="2209.9" cy="1970.3" r="6.95"/><path class="l" d="M1144.3 1918.7L1148.3 1918.3L1152.3 1917.8L1156.3 1917.4L1160.3 1916.9L1164.3 1916.4L1168.3 1915.9L1172.3 1915.3L1176.3 1914.7L1180.3 1914.2L1184.3 1913.6L1188.3 1913L1192.3 1912.4L1196.3 1911.7L1200.3 1911.1L1204.3 1910.5L1208.3 1909.9L1212.3 1909.2L1216.3 1908.6L1220.3 1908L1224.3 1907.3L1228.3 1906.7L1232.3 1906.2L1236.3 1905.6L1240.3 1905L1244.3 1904.5L1248.3 1904L1252.3 1903.6L1256.3 1903.1L1260.3 1902.7L1264.3 1902.4L1268.3 1902L1272.3 1901.8L1276.3 1901.5L1280.3 1901.3L1284.3 1901.2L1288.3 1901.1L1292.3 1901L1296.3 1901L1300.3 1901L1304.3 1901.1L1308.3 1901.3L1312.3 1901.4L1316.3 1901.6L1320.3 1901.9L1324.3 1902.2L1328.3 1902.6L1332.3 1902.9L1336.3 1903.3L1340.3 1903.8L1344.3 1904.3L1348.3 1904.8L1352.3 1905.3L1356.3 1905.8L1360.3 1906.4L1364.3 1907L1368.3 1907.6L1372.3 1908.2L1376.3 1908.8L1380.3 1909.5L1384.3 1910.1L1388.3 1910.7L1392.3 1911.3L1396.3 1911.9L1400.3 1912.6L1404.3 1913.2L1408.3 1913.7L1412.3 1914.3L1416.3 1914.9L1420.3 1915.4L1424.3 1916L1428.3 1916.5L1432.3 1917L1436.3 1917.5L1440.3 1917.9L1444.3 1918.3L1447.7 1918.7M1579.8 1918L1584.8 1917.4L1589.8 1916.8L1594.8 1916.2L1599.8 1915.6L1604.8 1915L1609.8 1914.4L1614.8 1913.8L1619.8 1913.1L1624.8 1912.4L1629.8 1911.7L1634.8 1911L1639.8 1910.2L1644.8 1909.4L1649.8 1908.6L1654.8 1907.8L1659.8 1907L1664.8 1906.2L1669.8 1905.3L1674.8 1904.5L1679.8 1903.6L1684.8 1902.8L1689.8 1902L1694.8 1901.1L1699.8 1900.3L1704.8 1899.5L1709.8 1898.7L1714.8 1897.8L1719.8 1897L1724.8 1896.2L1729.8 1895.4L1734.8 1894.7L1739.8 1893.9L1744.8 1893.1L1749.8 1892.4L1754.8 1891.7L1759.8 1890.9L1764.8 1890.2L1769.8 1889.5L1774.8 1888.8L1779.8 1888.2L1784.8 1887.5L1789.8 1886.8L1794.8 1886.2L1799.8 1885.6L1804.8 1885L1809.8 1884.4L1814.8 1883.8L1819.8 1883.2L1824.8 1882.6L1829.8 1882.1L1834.8 1881.5L1839.8 1881L1844.8 1880.5L1849.8 1880.1L1854.8 1879.6L1859.8 1879.2L1864.8 1878.8L1869.8 1878.4L1874.8 1878L1879.8 1877.7L1884.8 1877.4L1889.8 1877.1L1894.8 1876.9L1899.8 1876.7L1904.8 1876.6L1909.8 1876.5L1914.8 1876.4L1919.8 1876.4L1924.8 1876.5L1929.8 1876.6L1934.8 1876.7L1939.8 1876.8L1944.8 1877L1949.8 1877.2L1954.8 1877.4L1959.8 1877.6L1964.8 1877.9L1969.8 1878.2L1974.8 1878.6L1979.8 1879L1984.8 1879.4L1989.8 1880L1994.8 1880.5L1999.8 1881.1L2004.8 1881.7L2009.8 1882.4L2014.8 1883L2019.8 1883.7L2024.8 1884.4L2029.8 1885.1L2034.8 1885.8L2039.8 1886.5L2044.8 1887.1L2049.8 1887.8L2054.8 1888.5L2059.8 1889.2L2064.8 1889.9L2069.8 1890.7L2074.8 1891.4L2079.8 1892.1L2084.8 1892.8L2089.8 1893.5L2094.8 1894.3L2099.8 1895L2104.8 1895.8L2109.8 1896.5L2114.8 1897.3L2119.8 1898.1L2124.8 1898.8L2129.8 1899.6L2134.8 1900.4L2139.8 1901.2L2144.8 1902L2149.8 1902.8L2154.8 1903.6L2159.8 1904.4L2164.8 1905.2L2169.8 1906L2174.8 1906.8L2179.8 1907.6L2184.8 1908.3L2189.8 1909.1L2194.8 1909.8L2199.8 1910.5L2204.8 1911.2L2209.8 1911.8L2214.8 1912.5L2219.8 1913.1L2224.8 1913.7L2229.8 1914.2L2234.8 1914.8L2239.8 1915.3L2244.8 1915.9L2249.8 1916.4L2254.8 1916.9L2259.8 1917.4L2264.8 1917.9L2265.3 1918"/></g>
<g><path d="M1129.3 2041L1129.3 2035.7L1133.3 2035.2L1137.3 2034.8L1141.3 2034.2L1145.3 2033.7L1149.3 2033.1L1153.3 2032.5L1157.3 2031.9L1161.3 2031.3L1165.3 2030.6L1169.3 2029.9L1173.3 2029.2L1177.3 2028.4L1181.3 2027.6L1185.3 2026.9L1189.3 2026.1L1193.3 2025.3L1197.3 2024.4L1201.3 2023.6L1205.3 2022.8L1209.3 2021.9L1213.3 2021.1L1217.3 2020.3L1221.3 2019.5L1225.3 2018.7L1229.3 2017.9L1233.3 2017.1L1237.3 2016.4L1241.3 2015.7L1245.3 2015L1249.3 2014.4L1253.3 2013.8L1257.3 2013.2L1261.3 2012.7L1265.3 2012.3L1269.3 2011.9L1273.3 2011.5L1277.3 2011.2L1281.3 2011L1285.3 2010.8L1289.3 2010.7L1293.3 2010.6L1297.3 2010.6L1301.3 2010.7L1305.3 2010.8L1309.3 2010.9L1313.3 2011.1L1317.3 2011.4L1321.3 2011.7L1325.3 2012.1L1329.3 2012.5L1333.3 2012.9L1337.3 2013.4L1341.3 2013.9L1345.3 2014.5L1349.3 2015.1L1353.3 2015.7L1357.3 2016.4L1361.3 2017L1365.3 2017.7L1369.3 2018.5L1373.3 2019.2L1377.3 2019.9L1381.3 2020.7L1385.3 2021.5L1389.3 2022.2L1393.3 2023L1397.3 2023.8L1401.3 2024.5L1405.3 2025.3L1409.3 2026L1413.3 2026.8L1417.3 2027.5L1421.3 2028.2L1425.3 2028.9L1429.3 2029.6L1433.3 2030.2L1437.3 2030.8L1441.3 2031.5L1445.3 2032.1L1449.3 2032.6L1453.3 2033.2L1457.3 2033.7L1461.3 2034.2L1465.3 2034.7L1469.3 2035.1L1473.3 2035.6L1474.6 2035.7L1474.6 2041ZM1537.7 2041L1537.7 2035.7L1542.7 2035L1547.7 2034.2L1552.7 2033.5L1557.7 2032.7L1562.7 2032L1567.7 2031.2L1572.7 2030.5L1577.7 2029.7L1582.7 2028.9L1587.7 2028.1L1592.7 2027.3L1597.7 2026.5L1602.7 2025.7L1607.7 2024.9L1612.7 2024L1617.7 2023.1L1622.7 2022.1L1627.7 2021.2L1632.7 2020.2L1637.7 2019.2L1642.7 2018.1L1647.7 2017.1L1652.7 2016L1657.7 2014.9L1662.7 2013.8L1667.7 2012.7L1672.7 2011.6L1677.7 2010.5L1682.7 2009.4L1687.7 2008.3L1692.7 2007.1L1697.7 2006.1L1702.7 2005L1707.7 2003.9L1712.7 2002.8L1717.7 2001.8L1722.7 2000.8L1727.7 1999.8L1732.7 1998.9L1737.7 1997.9L1742.7 1997.1L1747.7 1996.2L1752.7 1995.5L1757.7 1994.7L1762.7 1994L1767.7 1993.4L1772.7 1992.8L1777.7 1992.3L1782.7 1991.7L1787.7 1991.3L1792.7 1990.8L1797.7 1990.4L1802.7 1990L1807.7 1989.7L1812.7 1989.4L1817.7 1989.3L1822.7 1989.2L1827.7 1989.3L1832.7 1989.4L1837.7 1989.7L1842.7 1990.1L1847.7 1990.5L1852.7 1991L1857.7 1991.6L1862.7 1992.3L1867.7 1993L1872.7 1993.7L1877.7 1994.5L1882.7 1995.3L1887.7 1996.1L1892.7 1997L1897.7 1997.8L1902.7 1998.7L1907.7 1999.7L1912.7 2000.6L1917.7 2001.5L1922.7 2002.4L1927.7 2003.3L1932.7 2004.2L1937.7 2005.1L1942.7 2005.9L1947.7 2006.7L1952.7 2007.5L1957.7 2008.3L1962.7 2009.1L1967.7 2009.9L1972.7 2010.7L1977.7 2011.5L1982.7 2012.3L1987.7 2013.1L1992.7 2013.9L1997.7 2014.7L2002.7 2015.4L2007.7 2016.2L2012.7 2016.9L2017.7 2017.6L2022.7 2018.2L2027.7 2018.8L2032.7 2019.3L2037.7 2019.9L2042.7 2020.3L2047.7 2020.8L2052.7 2021.3L2057.7 2021.7L2062.7 2022.2L2067.7 2022.7L2072.7 2023.2L2077.7 2023.8L2082.7 2024.3L2087.7 2024.9L2092.7 2025.5L2097.7 2026L2102.7 2026.6L2107.7 2027.1L2112.7 2027.7L2117.7 2028.2L2122.7 2028.7L2127.7 2029.2L2132.7 2029.7L2137.7 2030.2L2142.7 2030.7L2147.7 2031.1L2152.7 2031.6L2157.7 2032L2162.7 2032.5L2167.7 2032.9L2172.7 2033.3L2177.7 2033.7L2182.7 2034.1L2187.7 2034.6L2192.7 2035L2197.7 2035.4L2202.4 2035.8L2202.4 2041Z" fill="rgb(232,133,38)" fill-opacity="0.5"/><circle class="p" cx="1295" cy="2055.3" r="6.95"/><circle class="p" cx="1295" cy="2055.8" r="6.95"/><circle class="p" cx="1295" cy="2078.9" r="6.95"/><circle class="p" cx="1295" cy="2085.5" r="6.95"/><circle class="p" cx="1295" cy="2093.3" r="6.95"/><circle class="p" cx="1649" cy="2066" r="6.95"/><circle class="p" cx="1703.1" cy="2074" r="6.95"/><circle class="p" cx="1754.7" cy="2049.7" r="6.95"/><circle class="p" cx="1784" cy="2047.6" r="6.95"/><circle class="p" cx="1810.8" cy="2049.7" r="6.95"/><circle class="p" cx="1820.1" cy="2067.3" r="6.95"/><circle class="p" cx="1766.8" cy="2084.9" r="6.95"/><circle class="p" cx="1852.8" cy="2082" r="6.95"/><circle class="p" cx="1875" cy="2069" r="6.95"/><circle class="p" cx="1882.5" cy="2068.1" r="6.95"/><circle class="p" cx="1904.7" cy="2092.9" r="6.95"/><circle class="p" cx="2002.4" cy="2092.9" r="6.95"/><circle class="p" cx="2035.6" cy="2050.9" r="6.95"/><circle class="p" cx="2120.7" cy="2083.6" r="6.95"/><path class="l" d="M1129.3 2035.7L1133.3 2035.2L1137.3 2034.8L1141.3 2034.2L1145.3 2033.7L1149.3 2033.1L1153.3 2032.5L1157.3 2031.9L1161.3 2031.3L1165.3 2030.6L1169.3 2029.9L1173.3 2029.2L1177.3 2028.4L1181.3 2027.6L1185.3 2026.9L1189.3 2026.1L1193.3 2025.3L1197.3 2024.4L1201.3 2023.6L1205.3 2022.8L1209.3 2021.9L1213.3 2021.1L1217.3 2020.3L1221.3 2019.5L1225.3 2018.7L1229.3 2017.9L1233.3 2017.1L1237.3 2016.4L1241.3 2015.7L1245.3 2015L1249.3 2014.4L1253.3 2013.8L1257.3 2013.2L1261.3 2012.7L1265.3 2012.3L1269.3 2011.9L1273.3 2011.5L1277.3 2011.2L1281.3 2011L1285.3 2010.8L1289.3 2010.7L1293.3 2010.6L1297.3 2010.6L1301.3 2010.7L1305.3 2010.8L1309.3 2010.9L1313.3 2011.1L1317.3 2011.4L1321.3 2011.7L1325.3 2012.1L1329.3 2012.5L1333.3 2012.9L1337.3 2013.4L1341.3 2013.9L1345.3 2014.5L1349.3 2015.1L1353.3 2015.7L1357.3 2016.4L1361.3 2017L1365.3 2017.7L1369.3 2018.5L1373.3 2019.2L1377.3 2019.9L1381.3 2020.7L1385.3 2021.5L1389.3 2022.2L1393.3 2023L1397.3 2023.8L1401.3 2024.5L1405.3 2025.3L1409.3 2026L1413.3 2026.8L1417.3 2027.5L1421.3 2028.2L1425.3 2028.9L1429.3 2029.6L1433.3 2030.2L1437.3 2030.8L1441.3 2031.5L1445.3 2032.1L1449.3 2032.6L1453.3 2033.2L1457.3 2033.7L1461.3 2034.2L1465.3 2034.7L1469.3 2035.1L1473.3 2035.6L1474.6 2035.7M1537.7 2035.7L1542.7 2035L1547.7 2034.2L1552.7 2033.5L1557.7 2032.7L1562.7 2032L1567.7 2031.2L1572.7 2030.5L1577.7 2029.7L1582.7 2028.9L1587.7 2028.1L1592.7 2027.3L1597.7 2026.5L1602.7 2025.7L1607.7 2024.9L1612.7 2024L1617.7 2023.1L1622.7 2022.1L1627.7 2021.2L1632.7 2020.2L1637.7 2019.2L1642.7 2018.1L1647.7 2017.1L1652.7 2016L1657.7 2014.9L1662.7 2013.8L1667.7 2012.7L1672.7 2011.6L1677.7 2010.5L1682.7 2009.4L1687.7 2008.3L1692.7 2007.1L1697.7 2006.1L1702.7 2005L1707.7 2003.9L1712.7 2002.8L1717.7 2001.8L1722.7 2000.8L1727.7 1999.8L1732.7 1998.9L1737.7 1997.9L1742.7 1997.1L1747.7 1996.2L1752.7 1995.5L1757.7 1994.7L1762.7 1994L1767.7 1993.4L1772.7 1992.8L1777.7 1992.3L1782.7 1991.7L1787.7 1991.3L1792.7 1990.8L1797.7 1990.4L1802.7 1990L1807.7 1989.7L1812.7 1989.4L1817.7 1989.3L1822.7 1989.2L1827.7 1989.3L1832.7 1989.4L1837.7 1989.7L1842.7 1990.1L1847.7 1990.5L1852.7 1991L1857.7 1991.6L1862.7 1992.3L1867.7 1993L1872.7 1993.7L1877.7 1994.5L1882.7 1995.3L1887.7 1996.1L1892.7 1997L1897.7 1997.8L1902.7 1998.7L1907.7 1999.7L1912.7 2000.6L1917.7 2001.5L1922.7 2002.4L1927.7 2003.3L1932.7 2004.2L1937.7 2005.1L1942.7 2005.9L1947.7 2006.7L1952.7 2007.5L1957.7 2008.3L1962.7 2009.1L1967.7 2009.9L1972.7 2010.7L1977.7 2011.5L1982.7 2012.3L1987.7 2013.1L1992.7 2013.9L1997.7 2014.7L2002.7 2015.4L2007.7 2016.2L2012.7 2016.9L2017.7 2017.6L2022.7 2018.2L2027.7 2018.8L2032.7 2019.3L2037.7 2019.9L2042.7 2020.3L2047.7 2020.8L2052.7 2021.3L2057.7 2021.7L2062.7 2022.2L2067.7 2022.7L2072.7 2023.2L2077.7 2023.8L2082.7 2024.3L2087.7 2024.9L2092.7 2025.5L2097.7 2026L2102.7 2026.6L2107.7 2027.1L2112.7 2027.7L2117.7 2028.2L2122.7 2028.7L2127.7 2029.2L2132.7 2029.7L2137.7 2030.2L2142.7 2030.7L2147.7 2031.1L2152.7 2031.6L2157.7 2032L2162.7 2032.5L2167.7 2032.9L2172.7 2033.3L2177.7 2033.7L2182.7 2034.1L2187.7 2034.6L2192.7 2035L2197.7 2035.4L2202.4 2035.8"/></g>
<g><path d="M1135.3 2158L1135.3 2152.7L1139.3 2152.3L1143.3 2151.8L1147.3 2151.3L1151.3 2150.8L1155.3 2150.2L1159.3 2149.7L1163.3 2149.1L1167.3 2148.5L1171.3 2147.8L1175.3 2147.2L1179.3 2146.5L1183.3 2145.8L1187.3 2145.1L1191.3 2144.4L1195.3 2143.7L1199.3 2143L1203.3 2142.2L1207.3 2141.5L1211.3 2140.7L1215.3 2140L1219.3 2139.3L1223.3 2138.6L1227.3 2137.8L1231.3 2137.2L1235.3 2136.5L1239.3 2135.9L1243.3 2135.2L1247.3 2134.7L1251.3 2134.1L1255.3 2133.6L1259.3 2133.1L1263.3 2132.7L1267.3 2132.3L1271.3 2132L1275.3 2131.7L1279.3 2131.4L1283.3 2131.2L1287.3 2131.1L1291.3 2131L1295.3 2131L1299.3 2131L1303.3 2131.1L1307.3 2131.2L1311.3 2131.4L1315.3 2131.6L1319.3 2131.9L1323.3 2132.2L1327.3 2132.5L1331.3 2132.9L1335.3 2133.4L1339.3 2133.8L1343.3 2134.3L1347.3 2134.8L1351.3 2135.4L1355.3 2136L1359.3 2136.6L1363.3 2137.2L1367.3 2137.9L1371.3 2138.5L1375.3 2139.2L1379.3 2139.9L1383.3 2140.6L1387.3 2141.3L1391.3 2142L1395.3 2142.7L1399.3 2143.3L1403.3 2144L1407.3 2144.7L1411.3 2145.4L1415.3 2146L1419.3 2146.7L1423.3 2147.3L1427.3 2147.9L1431.3 2148.5L1435.3 2149.1L1439.3 2149.6L1443.3 2150.1L1447.3 2150.7L1451.3 2151.1L1455.3 2151.6L1459.3 2152.1L1463.3 2152.5L1465.3 2152.7L1465.3 2158ZM1546.3 2158L1546.3 2152.7L1551.3 2152L1556.3 2151.3L1561.3 2150.6L1566.3 2149.9L1571.3 2149.2L1576.3 2148.4L1581.3 2147.7L1586.3 2147L1591.3 2146.3L1596.3 2145.7L1601.3 2145L1606.3 2144.3L1611.3 2143.6L1616.3 2143L1621.3 2142.3L1626.3 2141.7L1631.3 2141.1L1636.3 2140.4L1641.3 2139.8L1646.3 2139.2L1651.3 2138.6L1656.3 2138L1661.3 2137.3L1666.3 2136.7L1671.3 2136.1L1676.3 2135.5L1681.3 2134.9L1686.3 2134.4L1691.3 2133.8L1696.3 2133.2L1701.3 2132.6L1706.3 2132.1L1711.3 2131.5L1716.3 2131L1721.3 2130.4L1726.3 2129.9L1731.3 2129.4L1736.3 2128.9L1741.3 2128.4L1746.3 2127.9L1751.3 2127.5L1756.3 2127L1761.3 2126.6L1766.3 2126.1L1771.3 2125.7L1776.3 2125.3L1781.3 2124.9L1786.3 2124.6L1791.3 2124.2L1796.3 2123.9L1801.3 2123.6L1806.3 2123.3L1811.3 2123.1L1816.3 2122.8L1821.3 2122.6L1826.3 2122.4L1831.3 2122.2L1836.3 2122L1841.3 2121.8L1846.3 2121.7L1851.3 2121.6L1856.3 2121.5L1861.3 2121.4L1866.3 2121.3L1871.3 2121.3L1876.3 2121.2L1881.3 2121.2L1886.3 2121.2L1891.3 2121.2L1896.3 2121.2L1901.3 2121.2L1906.3 2121.2L1911.3 2121.3L1916.3 2121.3L1921.3 2121.3L1926.3 2121.3L1931.3 2121.4L1936.3 2121.4L1941.3 2121.5L1946.3 2121.5L1951.3 2121.5L1956.3 2121.6L1961.3 2121.6L1966.3 2121.6L1971.3 2121.7L1976.3 2121.7L1981.3 2121.7L1986.3 2121.7L1991.3 2121.7L1996.3 2121.8L2001.3 2121.8L2006.3 2121.8L2011.3 2121.9L2016.3 2121.9L2021.3 2122L2026.3 2122.1L2031.3 2122.2L2036.3 2122.3L2041.3 2122.5L2046.3 2122.7L2051.3 2122.9L2056.3 2123.2L2061.3 2123.5L2066.3 2123.8L2071.3 2124.2L2076.3 2124.6L2081.3 2125.1L2086.3 2125.6L2091.3 2126.2L2096.3 2126.8L2101.3 2127.5L2106.3 2128.2L2111.3 2128.9L2116.3 2129.7L2121.3 2130.4L2126.3 2131.2L2131.3 2132.1L2136.3 2132.9L2141.3 2133.8L2146.3 2134.6L2151.3 2135.5L2156.3 2136.3L2161.3 2137.2L2166.3 2138L2171.3 2138.9L2176.3 2139.7L2181.3 2140.5L2186.3 2141.3L2191.3 2142.2L2196.3 2142.9L2201.3 2143.7L2206.3 2144.5L2211.3 2145.3L2216.3 2146L2221.3 2146.7L2226.3 2147.5L2231.3 2148.2L2236.3 2148.8L2241.3 2149.4L2246.3 2150L2251.3 2150.5L2256.3 2151L2261.3 2151.4L2266.3 2151.7L2271.3 2152L2276.3 2152.3L2281.3 2152.6L2282.9 2152.7L2282.9 2158Z" fill="rgb(248,118,109)" fill-opacity="0.5"/><circle class="p" cx="1295" cy="2165" r="6.95"/><circle class="p" cx="1295" cy="2166.2" r="6.95"/><circle class="p" cx="1295" cy="2167.3" r="6.95"/><circle class="p" cx="1295" cy="2168.5" r="6.95"/><circle class="p" cx="1295" cy="2169.7" r="6.95"/><circle class="p" cx="1295" cy="2170.8" r="6.95"/><circle class="p" cx="1295" cy="2172" r="6.95"/><circle class="p" cx="1295" cy="2173.2" r="6.95"/><circle class="p" cx="1295" cy="2174.3" r="6.95"/><circle class="p" cx="1295" cy="2175.5" r="6.95"/><circle class="p" cx="1295" cy="2176.7" r="6.95"/><circle class="p" cx="1295" cy="2177.8" r="6.95"/><circle class="p" cx="1295" cy="2179" r="6.95"/><circle class="p" cx="1295" cy="2180.2" r="6.95"/><circle class="p" cx="1295" cy="2181.3" r="6.95"/><circle class="p" cx="1295" cy="2182.5" r="6.95"/><circle class="p" cx="1295" cy="2183.7" r="6.95"/><circle class="p" cx="1295" cy="2184.8" r="6.95"/><circle class="p" cx="1295" cy="2186" r="6.95"/><circle class="p" cx="1295" cy="2187.2" r="6.95"/><circle class="p" cx="1295" cy="2188.3" r="6.95"/><circle class="p" cx="1295" cy="2189.5" r="6.95"/><circle class="p" cx="1295" cy="2190.7" r="6.95"/><circle class="p" cx="1295" cy="2191.8" r="6.95"/><circle class="p" cx="1295" cy="2193" r="6.95"/><circle class="p" cx="1295" cy="2194.2" r="6.95"/><circle class="p" cx="1295" cy="2195.3" r="6.95"/><circle class="p" cx="1295" cy="2196.5" r="6.95"/><circle class="p" cx="1295" cy="2197.7" r="6.95"/><circle class="p" cx="1295" cy="2198.8" r="6.95"/><circle class="p" cx="1295" cy="2200" r="6.95"/><circle class="p" cx="1295" cy="2201.2" r="6.95"/><circle class="p" cx="1295" cy="2202.3" r="6.95"/><circle class="p" cx="1295" cy="2203.5" r="6.95"/><circle class="p" cx="1295" cy="2204.7" r="6.95"/><circle class="p" cx="1295" cy="2205.8" r="6.95"/><circle class="p" cx="1295" cy="2207" r="6.95"/><circle class="p" cx="1295" cy="2208.2" r="6.95"/><circle class="p" cx="1295" cy="2209.3" r="6.95"/><circle class="p" cx="1295" cy="2210.5" r="6.95"/><circle class="p" cx="1614.1" cy="2179.4" r="6.95"/><circle class="p" cx="1637.8" cy="2196.5" r="6.95"/><circle class="p" cx="1642.8" cy="2190.8" r="6.95"/><circle class="p" cx="1646.7" cy="2181.4" r="6.95"/><circle class="p" cx="1647.5" cy="2179.9" r="6.95"/><circle class="p" cx="1648.2" cy="2174.5" r="6.95"/><circle class="p" cx="1649.8" cy="2184.5" r="6.95"/><circle class="p" cx="1661.4" cy="2174.1" r="6.95"/><circle class="p" cx="1662.2" cy="2174.5" r="6.95"/><circle class="p" cx="1664.2" cy="2208.3" r="6.95"/><circle class="p" cx="1673.1" cy="2209.1" r="6.95"/><circle class="p" cx="1668.9" cy="2191.5" r="6.95"/><circle class="p" cx="1677.7" cy="2166.2" r="6.95"/><circle class="p" cx="1681.6" cy="2185.3" r="6.95"/><circle class="p" cx="1684.7" cy="2182.2" r="6.95"/><circle class="p" cx="1688.6" cy="2173.7" r="6.95"/><circle class="p" cx="1698.7" cy="2169.8" r="6.95"/><circle class="p" cx="1700.6" cy="2185.3" r="6.95"/><circle class="p" cx="1715" cy="2184.2" r="6.95"/><circle class="p" cx="1729" cy="2185.3" r="6.95"/><circle class="p" cx="1733.6" cy="2186.1" r="6.95"/><circle class="p" cx="1729" cy="2195.1" r="6.95"/><circle class="p" cx="1743.7" cy="2187.2" r="6.95"/><circle class="p" cx="1738" cy="2165.1" r="6.95"/><circle class="p" cx="1750.7" cy="2178.3" r="6.95"/><circle class="p" cx="1756.9" cy="2168.2" r="6.95"/><circle class="p" cx="1764.2" cy="2167.5" r="6.95"/><circle class="p" cx="1762.4" cy="2187.2" r="6.95"/><circle class="p" cx="1762.7" cy="2187.6" r="6.95"/><circle class="p" cx="1763.1" cy="2188.1" r="6.95"/><circle class="p" cx="1769.3" cy="2183" r="6.95"/><circle class="p" cx="1777.1" cy="2176" r="6.95"/><circle class="p" cx="1786" cy="2170.3" r="6.95"/><circle class="p" cx="1780.2" cy="2193.1" r="6.95"/><circle class="p" cx="1787.2" cy="2192.3" r="6.95"/><circle class="p" cx="1791.1" cy="2193.9" r="6.95"/><circle class="p" cx="1795" cy="2186.1" r="6.95"/><circle class="p" cx="1778.7" cy="2206.3" r="6.95"/><circle class="p" cx="1779.4" cy="2207.1" r="6.95"/><circle class="p" cx="1791.9" cy="2206.3" r="6.95"/><circle class="p" cx="1801.2" cy="2210.2" r="6.95"/><circle class="p" cx="1808.9" cy="2210.2" r="6.95"/><circle class="p" cx="1807.4" cy="2172.9" r="6.95"/><circle class="p" cx="1808.2" cy="2177.6" r="6.95"/><circle class="p" cx="1808.9" cy="2180.7" r="6.95"/><circle class="p" cx="1808.2" cy="2193.9" r="6.95"/><circle class="p" cx="1808.9" cy="2194.6" r="6.95"/><circle class="p" cx="1813.6" cy="2165.9" r="6.95"/><circle class="p" cx="1814.4" cy="2166.7" r="6.95"/><circle class="p" cx="1826" cy="2170.6" r="6.95"/><circle class="p" cx="1826.8" cy="2171.3" r="6.95"/><circle class="p" cx="1829.9" cy="2176" r="6.95"/><circle class="p" cx="1828.8" cy="2197.3" r="6.95"/><circle class="p" cx="1836.9" cy="2166.7" r="6.95"/><circle class="p" cx="1838.4" cy="2169.8" r="6.95"/><circle class="p" cx="1842.3" cy="2204" r="6.95"/><circle class="p" cx="1847.8" cy="2176" r="6.95"/><circle class="p" cx="1850.9" cy="2205.5" r="6.95"/><circle class="p" cx="1851.6" cy="2204.7" r="6.95"/><circle class="p" cx="1854" cy="2198.5" r="6.95"/><circle class="p" cx="1854" cy="2165.1" r="6.95"/><circle class="p" cx="1857.1" cy="2168.2" r="6.95"/><circle class="p" cx="1860.2" cy="2202.4" r="6.95"/><circle class="p" cx="1861" cy="2203.2" r="6.95"/><circle class="p" cx="1862.5" cy="2207.8" r="6.95"/><circle class="p" cx="1863.3" cy="2186.1" r="6.95"/><circle class="p" cx="1869.5" cy="2200.8" r="6.95"/><circle class="p" cx="1872.6" cy="2165.1" r="6.95"/><circle class="p" cx="1871.1" cy="2171.3" r="6.95"/><circle class="p" cx="1874.2" cy="2182.2" r="6.95"/><circle class="p" cx="1877.3" cy="2202.4" r="6.95"/><circle class="p" cx="1878.8" cy="2193.1" r="6.95"/><circle class="p" cx="1883.5" cy="2197.7" r="6.95"/><circle class="p" cx="1884.3" cy="2198.5" r="6.95"/><circle class="p" cx="1887.4" cy="2183.8" r="6.95"/><circle class="p" cx="1888.9" cy="2164.4" r="6.95"/><circle class="p" cx="1902.5" cy="2166.2" r="6.95"/><circle class="p" cx="1914.9" cy="2173.7" r="6.95"/><circle class="p" cx="1915.4" cy="2175.2" r="6.95"/><circle class="p" cx="1900.2" cy="2189.2" r="6.95"/><circle class="p" cx="1903.3" cy="2191.5" r="6.95"/><circle class="p" cx="1904.8" cy="2199.3" r="6.95"/><circle class="p" cx="1905.6" cy="2200.8" r="6.95"/><circle class="p" cx="1912.6" cy="2196.2" r="6.95"/><circle class="p" cx="1913.4" cy="2197" r="6.95"/><circle class="p" cx="1923.5" cy="2198.5" r="6.95"/><circle class="p" cx="1927.4" cy="2202.4" r="6.95"/><circle class="p" cx="1928.1" cy="2203.2" r="6.95"/><circle class="p" cx="1922.7" cy="2211.7" r="6.95"/><circle class="p" cx="1932.3" cy="2177.2" r="6.95"/><circle class="p" cx="1942.1" cy="2179.9" r="6.95"/><circle class="p" cx="1942.9" cy="2177.6" r="6.95"/><circle class="p" cx="1944.4" cy="2200.1" r="6.95"/><circle class="p" cx="1945.5" cy="2206.3" r="6.95"/><circle class="p" cx="1946" cy="2206.7" r="6.95"/><circle class="p" cx="1957.2" cy="2172.1" r="6.95"/><circle class="p" cx="1957.6" cy="2200.1" r="6.95"/><circle class="p" cx="1970.8" cy="2192.3" r="6.95"/><circle class="p" cx="1970.4" cy="2204" r="6.95"/><circle class="p" cx="1974.3" cy="2184.5" r="6.95"/><circle class="p" cx="1974.7" cy="2183.8" r="6.95"/><circle class="p" cx="1996.1" cy="2190.3" r="6.95"/><circle class="p" cx="2000.8" cy="2210.2" r="6.95"/><circle class="p" cx="2015.4" cy="2209.4" r="6.95"/><circle class="p" cx="2015.9" cy="2209.9" r="6.95"/><circle class="p" cx="2009.7" cy="2168.2" r="6.95"/><circle class="p" cx="2019.8" cy="2164.4" r="6.95"/><circle class="p" cx="2019" cy="2177.6" r="6.95"/><circle class="p" cx="2029.1" cy="2166.7" r="6.95"/><circle class="p" cx="2031.4" cy="2165.1" r="6.95"/><circle class="p" cx="2036.8" cy="2170.6" r="6.95"/><circle class="p" cx="2043" cy="2176" r="6.95"/><circle class="p" cx="2022.1" cy="2193.1" r="6.95"/><circle class="p" cx="2030.6" cy="2193.9" r="6.95"/><circle class="p" cx="2031.4" cy="2207.8" r="6.95"/><circle class="p" cx="2036.8" cy="2191.5" r="6.95"/><circle class="p" cx="2038.4" cy="2193.1" r="6.95"/><circle class="p" cx="2039.9" cy="2199.3" r="6.95"/><circle class="p" cx="2041.5" cy="2208.6" r="6.95"/><circle class="p" cx="2044.6" cy="2210.2" r="6.95"/><circle class="p" cx="2047.7" cy="2210.9" r="6.95"/><circle class="p" cx="2049.3" cy="2207.8" r="6.95"/><circle class="p" cx="2053.9" cy="2179.9" r="6.95"/><circle class="p" cx="2054.7" cy="2190.8" r="6.95"/><circle class="p" cx="2055.2" cy="2191.2" r="6.95"/><circle class="p" cx="2055.5" cy="2191.5" r="6.95"/><circle class="p" cx="2057" cy="2183.8" r="6.95"/><circle class="p" cx="2060.9" cy="2178.3" r="6.95"/><circle class="p" cx="2061.7" cy="2180.7" r="6.95"/><circle class="p" cx="2067.9" cy="2204.7" r="6.95"/><circle class="p" cx="2068.7" cy="2205.5" r="6.95"/><circle class="p" cx="2068.7" cy="2180.7" r="6.95"/><circle class="p" cx="2071.8" cy="2189.2" r="6.95"/><circle class="p" cx="2075.7" cy="2182.2" r="6.95"/><circle class="p" cx="2077.2" cy="2168.2" r="6.95"/><circle class="p" cx="2078.8" cy="2165.9" r="6.95"/><circle class="p" cx="2080.3" cy="2176" r="6.95"/><circle class="p" cx="2081.9" cy="2207.8" r="6.95"/><circle class="p" cx="2087.3" cy="2166.7" r="6.95"/><circle class="p" cx="2088.1" cy="2169.8" r="6.95"/><circle class="p" cx="2088.9" cy="2193.1" r="6.95"/><circle class="p" cx="2088.1" cy="2199.3" r="6.95"/><circle class="p" cx="2089.6" cy="2205.5" r="6.95"/><circle class="p" cx="2091.2" cy="2207.1" r="6.95"/><circle class="p" cx="2093.5" cy="2204" r="6.95"/><circle class="p" cx="2094.3" cy="2177.6" r="6.95"/><circle class="p" cx="2097.4" cy="2179.9" r="6.95"/><circle class="p" cx="2100.5" cy="2196.2" r="6.95"/><circle class="p" cx="2102.8" cy="2172.1" r="6.95"/><circle class="p" cx="2104.4" cy="2186.1" r="6.95"/><circle class="p" cx="2108.3" cy="2169" r="6.95"/><circle class="p" cx="2109" cy="2173.7" r="6.95"/><circle class="p" cx="2109.8" cy="2179.9" r="6.95"/><circle class="p" cx="2110.6" cy="2188.4" r="6.95"/><circle class="p" cx="2132.3" cy="2176" r="6.95"/><circle class="p" cx="2142.1" cy="2173.2" r="6.95"/><circle class="p" cx="2130.8" cy="2191.5" r="6.95"/><circle class="p" cx="2137.8" cy="2202.1" r="6.95"/><circle class="p" cx="2159" cy="2188.1" r="6.95"/><circle class="p" cx="2169.6" cy="2191.5" r="6.95"/><circle class="p" cx="2171.9" cy="2192.3" r="6.95"/><circle class="p" cx="2178.9" cy="2194.6" r="6.95"/><circle class="p" cx="2189.1" cy="2181.4" r="6.95"/><circle class="p" cx="2181" cy="2208.5" r="6.95"/><circle class="p" cx="2255" cy="2168.2" r="6.95"/><circle class="p" cx="2271.1" cy="2175.4" r="6.95"/><circle class="p" cx="2272" cy="2201.4" r="6.95"/><path class="l" d="M1135.3 2152.7L1139.3 2152.3L1143.3 2151.8L1147.3 2151.3L1151.3 2150.8L1155.3 2150.2L1159.3 2149.7L1163.3 2149.1L1167.3 2148.5L1171.3 2147.8L1175.3 2147.2L1179.3 2146.5L1183.3 2145.8L1187.3 2145.1L1191.3 2144.4L1195.3 2143.7L1199.3 2143L1203.3 2142.2L1207.3 2141.5L1211.3 2140.7L1215.3 2140L1219.3 2139.3L1223.3 2138.6L1227.3 2137.8L1231.3 2137.2L1235.3 2136.5L1239.3 2135.9L1243.3 2135.2L1247.3 2134.7L1251.3 2134.1L1255.3 2133.6L1259.3 2133.1L1263.3 2132.7L1267.3 2132.3L1271.3 2132L1275.3 2131.7L1279.3 2131.4L1283.3 2131.2L1287.3 2131.1L1291.3 2131L1295.3 2131L1299.3 2131L1303.3 2131.1L1307.3 2131.2L1311.3 2131.4L1315.3 2131.6L1319.3 2131.9L1323.3 2132.2L1327.3 2132.5L1331.3 2132.9L1335.3 2133.4L1339.3 2133.8L1343.3 2134.3L1347.3 2134.8L1351.3 2135.4L1355.3 2136L1359.3 2136.6L1363.3 2137.2L1367.3 2137.9L1371.3 2138.5L1375.3 2139.2L1379.3 2139.9L1383.3 2140.6L1387.3 2141.3L1391.3 2142L1395.3 2142.7L1399.3 2143.3L1403.3 2144L1407.3 2144.7L1411.3 2145.4L1415.3 2146L1419.3 2146.7L1423.3 2147.3L1427.3 2147.9L1431.3 2148.5L1435.3 2149.1L1439.3 2149.6L1443.3 2150.1L1447.3 2150.7L1451.3 2151.1L1455.3 2151.6L1459.3 2152.1L1463.3 2152.5L1465.3 2152.7M1546.3 2152.7L1551.3 2152L1556.3 2151.3L1561.3 2150.6L1566.3 2149.9L1571.3 2149.2L1576.3 2148.4L1581.3 2147.7L1586.3 2147L1591.3 2146.3L1596.3 2145.7L1601.3 2145L1606.3 2144.3L1611.3 2143.6L1616.3 2143L1621.3 2142.3L1626.3 2141.7L1631.3 2141.1L1636.3 2140.4L1641.3 2139.8L1646.3 2139.2L1651.3 2138.6L1656.3 2138L1661.3 2137.3L1666.3 2136.7L1671.3 2136.1L1676.3 2135.5L1681.3 2134.9L1686.3 2134.4L1691.3 2133.8L1696.3 2133.2L1701.3 2132.6L1706.3 2132.1L1711.3 2131.5L1716.3 2131L1721.3 2130.4L1726.3 2129.9L1731.3 2129.4L1736.3 2128.9L1741.3 2128.4L1746.3 2127.9L1751.3 2127.5L1756.3 2127L1761.3 2126.6L1766.3 2126.1L1771.3 2125.7L1776.3 2125.3L1781.3 2124.9L1786.3 2124.6L1791.3 2124.2L1796.3 2123.9L1801.3 2123.6L1806.3 2123.3L1811.3 2123.1L1816.3 2122.8L1821.3 2122.6L1826.3 2122.4L1831.3 2122.2L1836.3 2122L1841.3 2121.8L1846.3 2121.7L1851.3 2121.6L1856.3 2121.5L1861.3 2121.4L1866.3 2121.3L1871.3 2121.3L1876.3 2121.2L1881.3 2121.2L1886.3 2121.2L1891.3 2121.2L1896.3 2121.2L1901.3 2121.2L1906.3 2121.2L1911.3 2121.3L1916.3 2121.3L1921.3 2121.3L1926.3 2121.3L1931.3 2121.4L1936.3 2121.4L1941.3 2121.5L1946.3 2121.5L1951.3 2121.5L1956.3 2121.6L1961.3 2121.6L1966.3 2121.6L1971.3 2121.7L1976.3 2121.7L1981.3 2121.7L1986.3 2121.7L1991.3 2121.7L1996.3 2121.8L2001.3 2121.8L2006.3 2121.8L2011.3 2121.9L2016.3 2121.9L2021.3 2122L2026.3 2122.1L2031.3 2122.2L2036.3 2122.3L2041.3 2122.5L2046.3 2122.7L2051.3 2122.9L2056.3 2123.2L2061.3 2123.5L2066.3 2123.8L2071.3 2124.2L2076.3 2124.6L2081.3 2125.1L2086.3 2125.6L2091.3 2126.2L2096.3 2126.8L2101.3 2127.5L2106.3 2128.2L2111.3 2128.9L2116.3 2129.7L2121.3 2130.4L2126.3 2131.2L2131.3 2132.1L2136.3 2132.9L2141.3 2133.8L2146.3 2134.6L2151.3 2135.5L2156.3 2136.3L2161.3 2137.2L2166.3 2138L2171.3 2138.9L2176.3 2139.7L2181.3 2140.5L2186.3 2141.3L2191.3 2142.2L2196.3 2142.9L2201.3 2143.7L2206.3 2144.5L2211.3 2145.3L2216.3 2146L2221.3 2146.7L2226.3 2147.5L2231.3 2148.2L2236.3 2148.8L2241.3 2149.4L2246.3 2150L2251.3 2150.5L2256.3 2151L2261.3 2151.4L2266.3 2151.7L2271.3 2152L2276.3 2152.3L2281.3 2152.6L2282.9 2152.7"/></g>
<path d="M1097 96.5V2229H2339" fill="none" stroke="#000" stroke-width="4" stroke-linejoin="miter"/>
<path d="M1086 167.0H1095M1086 285.0H1095M1086 402.0H1095M1086 519.0H1095M1086 636.0H1095M1086 753.0H1095M1086 870.0H1095M1086 987.0H1095M1086 1104.0H1095M1086 1221.0H1095M1086 1339.0H1095M1086 1456.0H1095M1086 1573.0H1095M1086 1690.0H1095M1086 1807.0H1095M1086 1924.0H1095M1086 2041.0H1095M1086 2158.0H1095M1154.0 2231V2240M1436.0 2231V2240M1718.0 2231V2240M2000.0 2231V2240M2282.0 2231V2240" stroke="#333" stroke-width="4" fill="none"/>
<text x="1096" y="63.8" font-size="55" textLength="814.5" fill="#000">Klebsiella_pneumoniae [Species]</text>
<text x="1429.5" y="2329.8" font-size="45.83" textLength="576.4" fill="#000">log10 (Relative Abundance)</text>
<text x="1154.0" y="2278.4" font-size="36.67" text-anchor="middle" fill="#4d4d4d">-8</text>
<text x="1436.0" y="2278.4" font-size="36.67" text-anchor="middle" fill="#4d4d4d">-6</text>
<text x="1718.0" y="2278.4" font-size="36.67" text-anchor="middle" fill="#4d4d4d">-4</text>
<text x="2000.0" y="2278.4" font-size="36.67" text-anchor="middle" fill="#4d4d4d">-2</text>
<text x="2282.0" y="2278.4" font-size="36.67" text-anchor="middle" fill="#4d4d4d">0</text>
<text x="1077" y="183.7" font-size="41.67" font-weight="bold" text-anchor="end" textLength="571.2" fill="#4d4d4d">Type_2_diabetes_[n=248].txt</text>
<text x="1077" y="301.7" font-size="41.67" font-weight="bold" text-anchor="end" textLength="547.1" fill="#4d4d4d">Type_1_diabetes_[n=58].txt</text>
<text x="1077" y="418.7" font-size="41.67" font-weight="bold" text-anchor="end" textLength="634.5" fill="#4d4d4d">Rheumatoid_arthritis_[n=97].txt</text>
<text x="1077" y="535.7" font-size="41.67" font-weight="bold" text-anchor="end" textLength="439.5" fill="#4d4d4d">Pneumonia_[n=22].txt</text>
<text x="1077" y="652.7" font-size="41.67" font-weight="bold" text-anchor="end" textLength="342.5" fill="#4d4d4d">Otitis_[n=107].txt</text>
<text x="1077" y="769.7" font-size="41.67" font-weight="bold" text-anchor="end" textLength="629.3" fill="#4d4d4d">Metabolic_syndrome_[n=50].txt</text>
<text x="1077" y="886.7" font-size="41.67" font-weight="bold" text-anchor="end" textLength="417.4" fill="#4d4d4d">Melanoma_[n=64].txt</text>
<text x="1077" y="1003.7" font-size="41.67" font-weight="bold" text-anchor="end" textLength="817.6" fill="#4d4d4d">Inflammatory_bowel_disease_[n=151].txt</text>
<text x="1077" y="1120.7" font-size="41.67" font-weight="bold" text-anchor="end" textLength="725.9" fill="#4d4d4d">Infectious_gastroenteritis_[n=20].txt</text>
<text x="1077" y="1237.7" font-size="41.67" font-weight="bold" text-anchor="end" textLength="777.8" fill="#4d4d4d">Impaired_glucose_tolerance_[n=49].txt</text>
<text x="1077" y="1355.7" font-size="41.67" font-weight="bold" text-anchor="end" textLength="503.4" fill="#4d4d4d">Hypertension_[n=261].txt</text>
<text x="1077" y="1472.7" font-size="41.67" font-weight="bold" text-anchor="end" textLength="570.0" fill="#4d4d4d">Hepatitis_B_Virus_[n=99].txt</text>
<text x="1077" y="1589.7" font-size="41.67" font-weight="bold" text-anchor="end" textLength="444.0" fill="#4d4d4d">Fatty_liver_[n=166].txt</text>
<text x="1077" y="1706.7" font-size="41.67" font-weight="bold" text-anchor="end" textLength="596.3" fill="#4d4d4d">Colorectal_cancer_[n=352].txt</text>
<text x="1077" y="1823.7" font-size="41.67" font-weight="bold" text-anchor="end" textLength="816.3" fill="#4d4d4d">Clostridium_difficile_infection_[n=33].txt</text>
<text x="1077" y="1940.7" font-size="41.67" font-weight="bold" text-anchor="end" textLength="418.0" fill="#4d4d4d">Cirrhosis_[n=123].txt</text>
<text x="1077" y="2057.7" font-size="41.67" font-weight="bold" text-anchor="end" textLength="625.6" fill="#4d4d4d">Binswanger_disease_[n=20].txt</text>
<text x="1077" y="2174.7" font-size="41.67" font-weight="bold" text-anchor="end" textLength="1034.7" fill="#4d4d4d">Atherosclerotic_cardiovascular_disease_[n=214].txt</text>
</svg></body></html>
